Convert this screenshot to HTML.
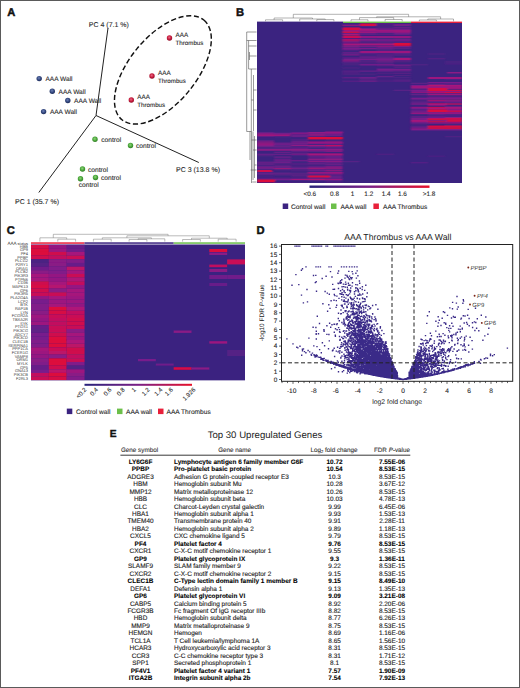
<!DOCTYPE html>
<html><head><meta charset="utf-8"><style>
html,body{margin:0;padding:0;background:#fff;}
body{width:520px;height:688px;position:relative;overflow:hidden;font-family:"Liberation Sans", sans-serif;}
svg{position:absolute;left:0;top:0;}
svg text{font-family:"Liberation Sans", sans-serif;text-rendering:geometricPrecision;}
</style></head><body>
<svg width="520" height="688" viewBox="0 0 520 688">
<defs><radialGradient id="gr" cx="0.45" cy="0.4" r="0.7"><stop offset="0" stop-color="#ea6a84"/><stop offset="0.5" stop-color="#c61a3c"/><stop offset="1" stop-color="#7d0b20"/></radialGradient><radialGradient id="gb" cx="0.45" cy="0.4" r="0.7"><stop offset="0" stop-color="#7083b8"/><stop offset="0.5" stop-color="#34487f"/><stop offset="1" stop-color="#17234a"/></radialGradient><radialGradient id="gg" cx="0.45" cy="0.4" r="0.7"><stop offset="0" stop-color="#8fd47a"/><stop offset="0.5" stop-color="#4ca83c"/><stop offset="1" stop-color="#276b1e"/></radialGradient><linearGradient id="cbar" x1="0" x2="1" y1="0" y2="0"><stop offset="0" stop-color="#28237a"/><stop offset="0.5" stop-color="#7a1f86"/><stop offset="1" stop-color="#e8102a"/></linearGradient><clipPath id="clipB"><rect x="257" y="22.8" width="205" height="160.2"/></clipPath><filter id="blurB" x="-0.05" y="-0.05" width="1.1" height="1.1"><feGaussianBlur stdDeviation="0.9 0.6"/></filter><clipPath id="clipC"><rect x="31" y="244.6" width="214" height="135.7"/></clipPath><filter id="blurC" x="-0.05" y="-0.05" width="1.1" height="1.1"><feGaussianBlur stdDeviation="0.7 0.5"/></filter></defs><g id="A"><text x="7.3" y="16.4" font-size="11.2" font-weight="bold" fill="#111" stroke="#111" stroke-width="0.45">A</text><g stroke="#222" stroke-width="1.0" fill="none"><line x1="96" y1="115.5" x2="108" y2="28"/><line x1="96" y1="115.5" x2="38.8" y2="192.5"/><line x1="96" y1="115.5" x2="198.8" y2="162.5"/></g><g font-size="7" fill="#2a2a2a" stroke="#2a2a2a" stroke-width="0.1"><text x="88.8" y="26.8">PC 4 (7.1 %)</text><text x="15" y="203.5">PC 1 (35.7 %)</text><text x="176" y="172">PC 3 (13.8 %)</text></g><ellipse cx="162.9" cy="69.9" rx="64.5" ry="33.5" transform="rotate(-50.6 162.9 69.9)" fill="none" stroke="#111" stroke-width="1.45" stroke-dasharray="5.2 2.6"/><circle cx="169.5" cy="38" r="2.7" fill="url(#gr)"/><circle cx="152" cy="76" r="2.7" fill="url(#gr)"/><circle cx="131.3" cy="100" r="2.7" fill="url(#gr)"/><circle cx="39.2" cy="78.6" r="2.7" fill="url(#gb)"/><circle cx="52.3" cy="91.2" r="2.7" fill="url(#gb)"/><circle cx="67.8" cy="100.5" r="2.7" fill="url(#gb)"/><circle cx="43.6" cy="111.6" r="2.7" fill="url(#gb)"/><circle cx="95" cy="139.3" r="2.7" fill="url(#gg)"/><circle cx="130.5" cy="145.5" r="2.7" fill="url(#gg)"/><circle cx="82.5" cy="169" r="2.7" fill="url(#gg)"/><circle cx="95.5" cy="177.5" r="2.7" fill="url(#gg)"/><circle cx="80.5" cy="178.8" r="2.7" fill="url(#gg)"/><g font-size="7" fill="#2a2a2a" stroke="#2a2a2a" stroke-width="0.1"><text x="175.5" y="37.2" font-size="6.3">AAA</text><text x="175.5" y="44.6" font-size="6.2">Thrombus</text><text x="158" y="75.2" font-size="6.3">AAA</text><text x="158" y="82.6" font-size="6.2">Thrombus</text><text x="137.3" y="99.2" font-size="6.3">AAA</text><text x="137.3" y="106.6" font-size="6.2">Thrombus</text><text x="45.5" y="81.0" font-size="6.55">AAA Wall</text><text x="58.599999999999994" y="93.60000000000001" font-size="6.55">AAA Wall</text><text x="74.1" y="102.9" font-size="6.55">AAA Wall</text><text x="49.9" y="114.0" font-size="6.55">AAA Wall</text><text x="101.3" y="141.8" font-size="6.65">control</text><text x="136" y="148" font-size="6.65">control</text><text x="88" y="171.5" font-size="6.65">control</text><text x="101" y="180" font-size="6.65">control</text><text x="78.8" y="186.5" font-size="6.65">control</text></g></g><g id="B"><text x="236" y="16.4" font-size="11.2" font-weight="bold" fill="#111" stroke="#111" stroke-width="0.45">B</text><rect x="257" y="22.8" width="205" height="160.2" fill="#3b2380"/><g clip-path="url(#clipB)"><g filter="url(#blurB)"><rect x="376.6" y="22.8" width="17.2" height="1.15" fill="#552185"/><rect x="342.4" y="23.9" width="17.2" height="1.05" fill="#582186"/><rect x="359.5" y="23.9" width="17.2" height="1.05" fill="#711f8b"/><rect x="376.6" y="23.9" width="17.2" height="1.05" fill="#502184"/><rect x="393.7" y="23.9" width="17.2" height="1.05" fill="#731e8b"/><rect x="342.4" y="24.9" width="17.2" height="0.95" fill="#941982"/><rect x="359.5" y="24.9" width="17.2" height="0.95" fill="#602087"/><rect x="376.6" y="24.9" width="17.2" height="0.95" fill="#4c2283"/><rect x="393.7" y="24.9" width="17.2" height="0.95" fill="#7b1e8b"/><rect x="359.5" y="25.8" width="17.2" height="1.05" fill="#542185"/><rect x="376.6" y="25.8" width="17.2" height="1.05" fill="#4c2283"/><rect x="342.4" y="26.8" width="17.2" height="1.15" fill="#522184"/><rect x="376.6" y="26.8" width="17.2" height="1.15" fill="#482283"/><rect x="393.7" y="26.8" width="17.2" height="1.15" fill="#6a1f89"/><rect x="342.4" y="27.9" width="17.2" height="1.05" fill="#6f1f8a"/><rect x="359.5" y="27.9" width="17.2" height="1.05" fill="#721f8b"/><rect x="376.6" y="27.9" width="17.2" height="1.05" fill="#622088"/><rect x="393.7" y="27.9" width="17.2" height="1.05" fill="#592186"/><rect x="342.4" y="28.9" width="17.2" height="1.25" fill="#b21474"/><rect x="359.5" y="28.9" width="17.2" height="1.25" fill="#a6167b"/><rect x="376.6" y="28.9" width="17.2" height="1.25" fill="#6e1f8a"/><rect x="393.7" y="28.9" width="17.2" height="1.25" fill="#711f8b"/><rect x="359.5" y="30.1" width="17.2" height="0.95" fill="#731e8b"/><rect x="376.6" y="30.1" width="17.2" height="0.95" fill="#691f89"/><rect x="393.7" y="30.1" width="17.2" height="0.95" fill="#821c88"/><rect x="342.4" y="31.0" width="17.2" height="1.15" fill="#c81057"/><rect x="359.5" y="31.0" width="17.2" height="1.15" fill="#771e8c"/><rect x="376.6" y="31.0" width="17.2" height="1.15" fill="#8a1b85"/><rect x="393.7" y="31.0" width="17.2" height="1.15" fill="#9c177f"/><rect x="342.4" y="32.1" width="17.2" height="0.95" fill="#d70d43"/><rect x="359.5" y="32.1" width="17.2" height="0.95" fill="#a5167c"/><rect x="376.6" y="32.1" width="17.2" height="0.95" fill="#8e1a84"/><rect x="393.7" y="32.1" width="17.2" height="0.95" fill="#961981"/><rect x="342.4" y="33.0" width="17.2" height="0.95" fill="#6c1f8a"/><rect x="359.5" y="33.0" width="17.2" height="0.95" fill="#642088"/><rect x="376.6" y="33.0" width="17.2" height="0.95" fill="#4b2283"/><rect x="393.7" y="33.0" width="17.2" height="0.95" fill="#761e8c"/><rect x="342.4" y="33.9" width="17.2" height="1.15" fill="#aa157a"/><rect x="359.5" y="33.9" width="17.2" height="1.15" fill="#582186"/><rect x="376.6" y="33.9" width="17.2" height="1.15" fill="#512184"/><rect x="393.7" y="33.9" width="17.2" height="1.15" fill="#5f2087"/><rect x="342.4" y="36.1" width="17.2" height="0.95" fill="#562185"/><rect x="342.4" y="37.0" width="17.2" height="1.25" fill="#9f177e"/><rect x="359.5" y="37.0" width="17.2" height="1.25" fill="#7a1e8b"/><rect x="376.6" y="37.0" width="17.2" height="1.25" fill="#6e1f8a"/><rect x="393.7" y="37.0" width="17.2" height="1.25" fill="#971881"/><rect x="342.4" y="39.1" width="17.2" height="1.25" fill="#b41371"/><rect x="359.5" y="39.1" width="17.2" height="1.25" fill="#821c88"/><rect x="376.6" y="39.1" width="17.2" height="1.25" fill="#6f1f8a"/><rect x="393.7" y="39.1" width="17.2" height="1.25" fill="#731e8b"/><rect x="342.4" y="40.3" width="17.2" height="1.15" fill="#bf1163"/><rect x="359.5" y="40.3" width="17.2" height="1.15" fill="#841c88"/><rect x="376.6" y="40.3" width="17.2" height="1.15" fill="#801d89"/><rect x="393.7" y="40.3" width="17.2" height="1.15" fill="#7d1d8a"/><rect x="342.4" y="41.4" width="17.2" height="1.25" fill="#8b1a85"/><rect x="359.5" y="41.4" width="17.2" height="1.25" fill="#552185"/><rect x="376.6" y="41.4" width="17.2" height="1.25" fill="#5b2086"/><rect x="393.7" y="41.4" width="17.2" height="1.25" fill="#532185"/><rect x="342.4" y="42.6" width="17.2" height="1.25" fill="#622088"/><rect x="359.5" y="42.6" width="17.2" height="1.25" fill="#522185"/><rect x="376.6" y="42.6" width="17.2" height="1.25" fill="#532185"/><rect x="393.7" y="42.6" width="17.2" height="1.25" fill="#5f2087"/><rect x="342.4" y="43.8" width="17.2" height="1.25" fill="#552185"/><rect x="376.6" y="43.8" width="17.2" height="1.25" fill="#751e8b"/><rect x="393.7" y="43.8" width="17.2" height="1.25" fill="#562185"/><rect x="342.4" y="45.0" width="17.2" height="1.05" fill="#542185"/><rect x="393.7" y="45.0" width="17.2" height="1.05" fill="#542185"/><rect x="342.4" y="46.0" width="17.2" height="0.95" fill="#851c87"/><rect x="359.5" y="46.0" width="17.2" height="0.95" fill="#741e8b"/><rect x="376.6" y="46.0" width="17.2" height="0.95" fill="#901a83"/><rect x="393.7" y="46.0" width="17.2" height="0.95" fill="#861b87"/><rect x="342.4" y="46.9" width="17.2" height="0.95" fill="#5d2087"/><rect x="376.6" y="46.9" width="17.2" height="0.95" fill="#701f8a"/><rect x="393.7" y="46.9" width="17.2" height="0.95" fill="#5b2086"/><rect x="342.4" y="47.8" width="17.2" height="1.25" fill="#9c177f"/><rect x="359.5" y="47.8" width="17.2" height="1.25" fill="#771e8c"/><rect x="376.6" y="47.8" width="17.2" height="1.25" fill="#671f89"/><rect x="393.7" y="47.8" width="17.2" height="1.25" fill="#582186"/><rect x="342.4" y="49.0" width="17.2" height="1.05" fill="#602087"/><rect x="359.5" y="49.0" width="17.2" height="1.05" fill="#482282"/><rect x="376.6" y="49.0" width="17.2" height="1.05" fill="#512184"/><rect x="342.4" y="50.0" width="17.2" height="1.25" fill="#4a2283"/><rect x="376.6" y="50.0" width="17.2" height="1.25" fill="#502184"/><rect x="393.7" y="50.0" width="17.2" height="1.25" fill="#4c2283"/><rect x="359.5" y="51.2" width="17.2" height="1.15" fill="#4c2283"/><rect x="393.7" y="51.2" width="17.2" height="1.15" fill="#572186"/><rect x="342.4" y="52.3" width="17.2" height="1.25" fill="#6f1f8a"/><rect x="359.5" y="52.3" width="17.2" height="1.25" fill="#6c1f8a"/><rect x="376.6" y="52.3" width="17.2" height="1.25" fill="#5c2086"/><rect x="393.7" y="52.3" width="17.2" height="1.25" fill="#761e8c"/><rect x="342.4" y="53.5" width="17.2" height="0.95" fill="#5f2087"/><rect x="427.8" y="53.5" width="17.2" height="0.95" fill="#532185"/><rect x="342.4" y="54.4" width="17.2" height="1.05" fill="#841c88"/><rect x="359.5" y="54.4" width="17.2" height="1.05" fill="#4f2184"/><rect x="376.6" y="54.4" width="17.2" height="1.05" fill="#612087"/><rect x="393.7" y="54.4" width="17.2" height="1.05" fill="#612088"/><rect x="376.6" y="55.4" width="17.2" height="0.95" fill="#552185"/><rect x="359.5" y="56.3" width="17.2" height="1.05" fill="#671f89"/><rect x="376.6" y="56.3" width="17.2" height="1.05" fill="#5a2086"/><rect x="342.4" y="57.3" width="17.2" height="0.95" fill="#5c2087"/><rect x="359.5" y="57.3" width="17.2" height="0.95" fill="#6a1f89"/><rect x="376.6" y="57.3" width="17.2" height="0.95" fill="#691f89"/><rect x="393.7" y="57.3" width="17.2" height="0.95" fill="#592186"/><rect x="359.5" y="58.2" width="17.2" height="1.05" fill="#4a2283"/><rect x="376.6" y="58.2" width="17.2" height="1.05" fill="#691f89"/><rect x="427.8" y="58.2" width="17.2" height="1.05" fill="#572186"/><rect x="342.4" y="59.2" width="17.2" height="1.15" fill="#482283"/><rect x="342.4" y="60.3" width="17.2" height="1.25" fill="#981880"/><rect x="359.5" y="60.3" width="17.2" height="1.25" fill="#552185"/><rect x="376.6" y="60.3" width="17.2" height="1.25" fill="#831c88"/><rect x="393.7" y="60.3" width="17.2" height="1.25" fill="#6a1f89"/><rect x="342.4" y="61.5" width="17.2" height="0.95" fill="#6a1f89"/><rect x="359.5" y="61.5" width="17.2" height="0.95" fill="#5a2086"/><rect x="376.6" y="61.5" width="17.2" height="0.95" fill="#642088"/><rect x="393.7" y="61.5" width="17.2" height="0.95" fill="#4c2283"/><rect x="444.9" y="61.5" width="17.2" height="0.95" fill="#572186"/><rect x="342.4" y="62.4" width="17.2" height="1.05" fill="#572185"/><rect x="359.5" y="62.4" width="17.2" height="1.05" fill="#4c2283"/><rect x="376.6" y="62.4" width="17.2" height="1.05" fill="#612087"/><rect x="359.5" y="63.4" width="17.2" height="0.95" fill="#4b2283"/><rect x="444.9" y="63.4" width="17.2" height="0.95" fill="#532185"/><rect x="342.4" y="64.3" width="17.2" height="0.95" fill="#502184"/><rect x="359.5" y="64.3" width="17.2" height="0.95" fill="#5d2087"/><rect x="376.6" y="64.3" width="17.2" height="0.95" fill="#652088"/><rect x="393.7" y="64.3" width="17.2" height="0.95" fill="#632088"/><rect x="410.8" y="64.3" width="17.2" height="0.95" fill="#552185"/><rect x="376.6" y="65.2" width="17.2" height="1.15" fill="#552185"/><rect x="393.7" y="65.2" width="17.2" height="1.15" fill="#751e8b"/><rect x="342.4" y="67.2" width="17.2" height="1.25" fill="#4a2283"/><rect x="393.7" y="67.2" width="17.2" height="1.25" fill="#562185"/><rect x="376.6" y="68.4" width="17.2" height="1.05" fill="#642088"/><rect x="376.6" y="69.4" width="17.2" height="1.25" fill="#582186"/><rect x="393.7" y="69.4" width="17.2" height="1.25" fill="#482283"/><rect x="342.4" y="70.6" width="17.2" height="0.95" fill="#632088"/><rect x="359.5" y="70.6" width="17.2" height="0.95" fill="#771e8c"/><rect x="376.6" y="70.6" width="17.2" height="0.95" fill="#6f1f8a"/><rect x="393.7" y="70.6" width="17.2" height="0.95" fill="#612087"/><rect x="342.4" y="71.5" width="17.2" height="1.25" fill="#552185"/><rect x="342.4" y="72.7" width="17.2" height="1.15" fill="#542185"/><rect x="376.6" y="72.7" width="17.2" height="1.15" fill="#502184"/><rect x="393.7" y="72.7" width="17.2" height="1.15" fill="#5b2086"/><rect x="342.4" y="73.8" width="17.2" height="1.15" fill="#4c2283"/><rect x="359.5" y="73.8" width="17.2" height="1.15" fill="#4a2283"/><rect x="393.7" y="74.9" width="17.2" height="1.05" fill="#512184"/><rect x="376.6" y="75.9" width="17.2" height="1.25" fill="#632088"/><rect x="342.4" y="77.1" width="17.2" height="1.25" fill="#612087"/><rect x="359.5" y="77.1" width="17.2" height="1.25" fill="#741e8b"/><rect x="376.6" y="77.1" width="17.2" height="1.25" fill="#492283"/><rect x="393.7" y="77.1" width="17.2" height="1.25" fill="#4d2284"/><rect x="359.5" y="78.3" width="17.2" height="1.25" fill="#671f89"/><rect x="444.9" y="78.3" width="17.2" height="1.25" fill="#572185"/><rect x="359.5" y="79.5" width="17.2" height="1.25" fill="#4f2184"/><rect x="376.6" y="79.5" width="17.2" height="1.25" fill="#462282"/><rect x="393.7" y="79.5" width="17.2" height="1.25" fill="#582186"/><rect x="342.4" y="80.7" width="17.2" height="0.95" fill="#622088"/><rect x="359.5" y="80.7" width="17.2" height="0.95" fill="#7d1d8a"/><rect x="376.6" y="80.7" width="17.2" height="0.95" fill="#562185"/><rect x="393.7" y="80.7" width="17.2" height="0.95" fill="#5e2087"/><rect x="410.8" y="82.8" width="17.2" height="0.95" fill="#652088"/><rect x="444.9" y="82.8" width="17.2" height="0.95" fill="#582186"/><rect x="427.8" y="83.7" width="17.2" height="1.25" fill="#6c1f8a"/><rect x="444.9" y="83.7" width="17.2" height="1.25" fill="#5a2086"/><rect x="410.8" y="84.9" width="17.2" height="1.15" fill="#7b1d8b"/><rect x="427.8" y="84.9" width="17.2" height="1.15" fill="#b6136e"/><rect x="444.9" y="84.9" width="17.2" height="1.15" fill="#a8157b"/><rect x="410.8" y="86.0" width="17.2" height="0.95" fill="#4a2283"/><rect x="427.8" y="86.0" width="17.2" height="0.95" fill="#8e1a84"/><rect x="444.9" y="86.0" width="17.2" height="0.95" fill="#9a1880"/><rect x="410.8" y="86.9" width="17.2" height="1.15" fill="#582186"/><rect x="427.8" y="86.9" width="17.2" height="1.15" fill="#8e1a84"/><rect x="444.9" y="86.9" width="17.2" height="1.15" fill="#ac1579"/><rect x="410.8" y="88.0" width="17.2" height="0.95" fill="#542185"/><rect x="427.8" y="88.0" width="17.2" height="0.95" fill="#5d2087"/><rect x="444.9" y="88.0" width="17.2" height="0.95" fill="#9f177e"/><rect x="410.8" y="88.9" width="17.2" height="0.95" fill="#4f2184"/><rect x="444.9" y="88.9" width="17.2" height="0.95" fill="#4d2284"/><rect x="393.7" y="89.8" width="17.2" height="1.25" fill="#582186"/><rect x="410.8" y="89.8" width="17.2" height="1.25" fill="#7a1e8b"/><rect x="427.8" y="89.8" width="17.2" height="1.25" fill="#d90d40"/><rect x="444.9" y="89.8" width="17.2" height="1.25" fill="#cd0f50"/><rect x="410.8" y="91.0" width="17.2" height="1.05" fill="#751e8b"/><rect x="427.8" y="91.0" width="17.2" height="1.05" fill="#961881"/><rect x="444.9" y="91.0" width="17.2" height="1.05" fill="#881b86"/><rect x="410.8" y="92.0" width="17.2" height="0.95" fill="#971881"/><rect x="427.8" y="92.0" width="17.2" height="0.95" fill="#b8126c"/><rect x="444.9" y="92.0" width="17.2" height="0.95" fill="#d80d41"/><rect x="410.8" y="92.9" width="17.2" height="1.15" fill="#4a2283"/><rect x="410.8" y="94.0" width="17.2" height="1.25" fill="#622088"/><rect x="410.8" y="95.2" width="17.2" height="1.05" fill="#4a2283"/><rect x="427.8" y="96.2" width="17.2" height="1.15" fill="#552185"/><rect x="444.9" y="96.2" width="17.2" height="1.15" fill="#512184"/><rect x="410.8" y="97.3" width="17.2" height="0.95" fill="#542185"/><rect x="427.8" y="97.3" width="17.2" height="0.95" fill="#801d89"/><rect x="444.9" y="97.3" width="17.2" height="0.95" fill="#841c88"/><rect x="410.8" y="98.2" width="17.2" height="1.05" fill="#6a1f89"/><rect x="427.8" y="98.2" width="17.2" height="1.05" fill="#c5105b"/><rect x="444.9" y="98.2" width="17.2" height="1.05" fill="#dc0c3c"/><rect x="410.8" y="100.2" width="17.2" height="1.15" fill="#4d2283"/><rect x="427.8" y="100.2" width="17.2" height="1.15" fill="#b6136e"/><rect x="444.9" y="100.2" width="17.2" height="1.15" fill="#921983"/><rect x="410.8" y="101.3" width="17.2" height="1.15" fill="#5b2086"/><rect x="427.8" y="101.3" width="17.2" height="1.15" fill="#711f8b"/><rect x="444.9" y="101.3" width="17.2" height="1.15" fill="#831c88"/><rect x="410.8" y="102.4" width="17.2" height="1.05" fill="#6d1f8a"/><rect x="427.8" y="102.4" width="17.2" height="1.05" fill="#552185"/><rect x="444.9" y="102.4" width="17.2" height="1.05" fill="#5e2087"/><rect x="410.8" y="103.4" width="17.2" height="1.25" fill="#801c89"/><rect x="427.8" y="103.4" width="17.2" height="1.25" fill="#d40d46"/><rect x="444.9" y="103.4" width="17.2" height="1.25" fill="#c71059"/><rect x="427.8" y="104.6" width="17.2" height="1.25" fill="#691f89"/><rect x="444.9" y="105.8" width="17.2" height="1.05" fill="#5c2086"/><rect x="410.8" y="106.8" width="17.2" height="1.15" fill="#951981"/><rect x="427.8" y="106.8" width="17.2" height="1.15" fill="#cb0f53"/><rect x="444.9" y="106.8" width="17.2" height="1.15" fill="#ad1479"/><rect x="410.8" y="107.9" width="17.2" height="1.25" fill="#771e8c"/><rect x="427.8" y="107.9" width="17.2" height="1.25" fill="#a9157a"/><rect x="444.9" y="107.9" width="17.2" height="1.25" fill="#a0177d"/><rect x="410.8" y="109.1" width="17.2" height="1.05" fill="#5b2086"/><rect x="427.8" y="109.1" width="17.2" height="1.05" fill="#8c1a85"/><rect x="444.9" y="109.1" width="17.2" height="1.05" fill="#8e1a84"/><rect x="410.8" y="110.1" width="17.2" height="0.95" fill="#642088"/><rect x="427.8" y="110.1" width="17.2" height="0.95" fill="#ce0e4f"/><rect x="444.9" y="110.1" width="17.2" height="0.95" fill="#bd1266"/><rect x="410.8" y="111.0" width="17.2" height="0.95" fill="#711f8b"/><rect x="427.8" y="111.0" width="17.2" height="0.95" fill="#d40e47"/><rect x="444.9" y="111.0" width="17.2" height="0.95" fill="#d20e4a"/><rect x="410.8" y="111.9" width="17.2" height="1.05" fill="#622088"/><rect x="427.8" y="111.9" width="17.2" height="1.05" fill="#6c1f8a"/><rect x="444.9" y="111.9" width="17.2" height="1.05" fill="#951982"/><rect x="410.8" y="112.9" width="17.2" height="1.25" fill="#522185"/><rect x="427.8" y="112.9" width="17.2" height="1.25" fill="#612087"/><rect x="444.9" y="112.9" width="17.2" height="1.25" fill="#771e8c"/><rect x="427.8" y="114.1" width="17.2" height="1.05" fill="#602087"/><rect x="444.9" y="114.1" width="17.2" height="1.05" fill="#542185"/><rect x="427.8" y="115.1" width="17.2" height="1.05" fill="#522184"/><rect x="444.9" y="115.1" width="17.2" height="1.05" fill="#522185"/><rect x="410.8" y="116.1" width="17.2" height="0.95" fill="#602087"/><rect x="427.8" y="116.1" width="17.2" height="0.95" fill="#642088"/><rect x="444.9" y="116.1" width="17.2" height="0.95" fill="#4a2283"/><rect x="410.8" y="117.0" width="17.2" height="1.05" fill="#5a2086"/><rect x="427.8" y="117.0" width="17.2" height="1.05" fill="#6c1f8a"/><rect x="444.9" y="117.0" width="17.2" height="1.05" fill="#8f1a84"/><rect x="410.8" y="118.0" width="17.2" height="1.15" fill="#7a1e8b"/><rect x="427.8" y="118.0" width="17.2" height="1.15" fill="#bf1162"/><rect x="444.9" y="118.0" width="17.2" height="1.15" fill="#ce0f4f"/><rect x="410.8" y="119.1" width="17.2" height="1.15" fill="#7f1d8a"/><rect x="427.8" y="119.1" width="17.2" height="1.15" fill="#dc0c3c"/><rect x="444.9" y="119.1" width="17.2" height="1.15" fill="#c6105a"/><rect x="410.8" y="120.2" width="17.2" height="1.05" fill="#4b2283"/><rect x="427.8" y="120.2" width="17.2" height="1.05" fill="#9a1880"/><rect x="444.9" y="120.2" width="17.2" height="1.05" fill="#941982"/><rect x="410.8" y="121.2" width="17.2" height="1.25" fill="#901a83"/><rect x="427.8" y="121.2" width="17.2" height="1.25" fill="#cd0f4f"/><rect x="444.9" y="121.2" width="17.2" height="1.25" fill="#af1478"/><rect x="410.8" y="122.4" width="17.2" height="1.15" fill="#821c89"/><rect x="427.8" y="122.4" width="17.2" height="1.15" fill="#9b187f"/><rect x="444.9" y="122.4" width="17.2" height="1.15" fill="#a0177d"/><rect x="410.8" y="123.5" width="17.2" height="1.15" fill="#522185"/><rect x="444.9" y="124.6" width="17.2" height="1.15" fill="#552185"/><rect x="410.8" y="125.7" width="17.2" height="1.05" fill="#5c2086"/><rect x="410.8" y="126.7" width="17.2" height="1.25" fill="#652088"/><rect x="427.8" y="126.7" width="17.2" height="1.25" fill="#592186"/><rect x="410.8" y="127.9" width="17.2" height="0.95" fill="#911983"/><rect x="427.8" y="127.9" width="17.2" height="0.95" fill="#dc0c3c"/><rect x="444.9" y="127.9" width="17.2" height="0.95" fill="#dc0c3c"/><rect x="410.8" y="128.8" width="17.2" height="1.05" fill="#562185"/><rect x="427.8" y="128.8" width="17.2" height="1.05" fill="#c01162"/><rect x="444.9" y="128.8" width="17.2" height="1.05" fill="#cc0f52"/><rect x="257.0" y="132.0" width="17.2" height="1.15" fill="#612087"/><rect x="274.1" y="132.0" width="17.2" height="1.15" fill="#462282"/><rect x="291.2" y="132.0" width="17.2" height="1.15" fill="#661f88"/><rect x="308.2" y="132.0" width="17.2" height="1.15" fill="#8e1a84"/><rect x="325.3" y="132.0" width="17.2" height="1.15" fill="#671f89"/><rect x="257.0" y="133.1" width="17.2" height="1.25" fill="#8c1a85"/><rect x="274.1" y="133.1" width="17.2" height="1.25" fill="#791e8c"/><rect x="291.2" y="133.1" width="17.2" height="1.25" fill="#891b86"/><rect x="308.2" y="133.1" width="17.2" height="1.25" fill="#871b87"/><rect x="325.3" y="133.1" width="17.2" height="1.25" fill="#8b1b85"/><rect x="257.0" y="134.3" width="17.2" height="1.05" fill="#981881"/><rect x="274.1" y="134.3" width="17.2" height="1.05" fill="#871b86"/><rect x="291.2" y="134.3" width="17.2" height="1.05" fill="#6b1f89"/><rect x="308.2" y="134.3" width="17.2" height="1.05" fill="#9b187f"/><rect x="325.3" y="134.3" width="17.2" height="1.05" fill="#7b1d8b"/><rect x="257.0" y="135.3" width="17.2" height="0.95" fill="#6d1f8a"/><rect x="274.1" y="135.3" width="17.2" height="0.95" fill="#4b2283"/><rect x="291.2" y="135.3" width="17.2" height="0.95" fill="#771e8c"/><rect x="308.2" y="135.3" width="17.2" height="0.95" fill="#931982"/><rect x="325.3" y="135.3" width="17.2" height="0.95" fill="#761e8c"/><rect x="257.0" y="136.2" width="17.2" height="0.95" fill="#602087"/><rect x="274.1" y="136.2" width="17.2" height="0.95" fill="#502184"/><rect x="291.2" y="136.2" width="17.2" height="0.95" fill="#721e8b"/><rect x="308.2" y="136.2" width="17.2" height="0.95" fill="#572186"/><rect x="325.3" y="136.2" width="17.2" height="0.95" fill="#492283"/><rect x="444.9" y="136.2" width="17.2" height="0.95" fill="#552185"/><rect x="325.3" y="137.1" width="17.2" height="1.15" fill="#711f8b"/><rect x="325.3" y="138.2" width="17.2" height="0.95" fill="#4e2184"/><rect x="291.2" y="139.1" width="17.2" height="1.15" fill="#4f2184"/><rect x="257.0" y="140.2" width="17.2" height="1.25" fill="#622088"/><rect x="291.2" y="140.2" width="17.2" height="1.25" fill="#532185"/><rect x="325.3" y="140.2" width="17.2" height="1.25" fill="#4d2284"/><rect x="257.0" y="141.4" width="17.2" height="1.25" fill="#8d1a84"/><rect x="291.2" y="141.4" width="17.2" height="1.25" fill="#791e8b"/><rect x="308.2" y="141.4" width="17.2" height="1.25" fill="#901a83"/><rect x="325.3" y="141.4" width="17.2" height="1.25" fill="#991880"/><rect x="257.0" y="142.6" width="17.2" height="1.25" fill="#991880"/><rect x="274.1" y="142.6" width="17.2" height="1.25" fill="#711f8b"/><rect x="291.2" y="142.6" width="17.2" height="1.25" fill="#7d1d8a"/><rect x="308.2" y="142.6" width="17.2" height="1.25" fill="#811c89"/><rect x="325.3" y="142.6" width="17.2" height="1.25" fill="#831c88"/><rect x="257.0" y="143.8" width="17.2" height="1.25" fill="#931982"/><rect x="274.1" y="143.8" width="17.2" height="1.25" fill="#6e1f8a"/><rect x="291.2" y="143.8" width="17.2" height="1.25" fill="#691f89"/><rect x="308.2" y="143.8" width="17.2" height="1.25" fill="#482283"/><rect x="325.3" y="143.8" width="17.2" height="1.25" fill="#542185"/><rect x="257.0" y="145.0" width="17.2" height="1.25" fill="#881b86"/><rect x="274.1" y="145.0" width="17.2" height="1.25" fill="#5d2087"/><rect x="291.2" y="145.0" width="17.2" height="1.25" fill="#8e1a84"/><rect x="308.2" y="145.0" width="17.2" height="1.25" fill="#a2167d"/><rect x="325.3" y="145.0" width="17.2" height="1.25" fill="#bf1163"/><rect x="257.0" y="146.2" width="17.2" height="1.25" fill="#7a1e8b"/><rect x="274.1" y="146.2" width="17.2" height="1.25" fill="#6f1f8a"/><rect x="291.2" y="146.2" width="17.2" height="1.25" fill="#532185"/><rect x="308.2" y="146.2" width="17.2" height="1.25" fill="#721f8b"/><rect x="325.3" y="146.2" width="17.2" height="1.25" fill="#8c1a85"/><rect x="257.0" y="147.4" width="17.2" height="1.25" fill="#4f2184"/><rect x="274.1" y="147.4" width="17.2" height="1.25" fill="#5b2086"/><rect x="291.2" y="147.4" width="17.2" height="1.25" fill="#5f2087"/><rect x="325.3" y="147.4" width="17.2" height="1.25" fill="#572185"/><rect x="257.0" y="148.6" width="17.2" height="1.25" fill="#6f1f8a"/><rect x="274.1" y="148.6" width="17.2" height="1.25" fill="#632088"/><rect x="291.2" y="148.6" width="17.2" height="1.25" fill="#841c88"/><rect x="308.2" y="148.6" width="17.2" height="1.25" fill="#502184"/><rect x="325.3" y="148.6" width="17.2" height="1.25" fill="#7e1d8a"/><rect x="257.0" y="149.8" width="17.2" height="1.05" fill="#462282"/><rect x="291.2" y="149.8" width="17.2" height="1.05" fill="#4d2284"/><rect x="291.2" y="150.8" width="17.2" height="1.05" fill="#681f89"/><rect x="308.2" y="150.8" width="17.2" height="1.05" fill="#671f89"/><rect x="325.3" y="150.8" width="17.2" height="1.05" fill="#8b1b85"/><rect x="274.1" y="151.8" width="17.2" height="1.05" fill="#6a1f89"/><rect x="291.2" y="151.8" width="17.2" height="1.05" fill="#4a2283"/><rect x="291.2" y="152.8" width="17.2" height="0.95" fill="#5e2087"/><rect x="257.0" y="153.7" width="17.2" height="1.15" fill="#6b1f8a"/><rect x="274.1" y="153.7" width="17.2" height="1.15" fill="#6c1f8a"/><rect x="291.2" y="153.7" width="17.2" height="1.15" fill="#811c89"/><rect x="308.2" y="153.7" width="17.2" height="1.15" fill="#991880"/><rect x="325.3" y="153.7" width="17.2" height="1.15" fill="#a4167c"/><rect x="376.6" y="153.7" width="17.2" height="1.15" fill="#502184"/><rect x="257.0" y="154.8" width="17.2" height="0.95" fill="#622088"/><rect x="291.2" y="154.8" width="17.2" height="0.95" fill="#4f2184"/><rect x="308.2" y="154.8" width="17.2" height="0.95" fill="#512184"/><rect x="325.3" y="154.8" width="17.2" height="0.95" fill="#592186"/><rect x="257.0" y="155.7" width="17.2" height="0.95" fill="#462282"/><rect x="274.1" y="155.7" width="17.2" height="0.95" fill="#492283"/><rect x="308.2" y="155.7" width="17.2" height="0.95" fill="#681f89"/><rect x="325.3" y="155.7" width="17.2" height="0.95" fill="#721f8b"/><rect x="427.8" y="155.7" width="17.2" height="0.95" fill="#502184"/><rect x="274.1" y="156.6" width="17.2" height="1.25" fill="#711f8b"/><rect x="308.2" y="156.6" width="17.2" height="1.25" fill="#661f88"/><rect x="325.3" y="156.6" width="17.2" height="1.25" fill="#711f8b"/><rect x="274.1" y="157.8" width="17.2" height="1.25" fill="#492283"/><rect x="308.2" y="157.8" width="17.2" height="1.25" fill="#482283"/><rect x="325.3" y="157.8" width="17.2" height="1.25" fill="#5d2087"/><rect x="274.1" y="159.0" width="17.2" height="0.95" fill="#652088"/><rect x="325.3" y="159.0" width="17.2" height="0.95" fill="#562185"/><rect x="274.1" y="159.9" width="17.2" height="1.15" fill="#671f89"/><rect x="291.2" y="159.9" width="17.2" height="1.15" fill="#6a1f89"/><rect x="308.2" y="159.9" width="17.2" height="1.15" fill="#671f89"/><rect x="325.3" y="159.9" width="17.2" height="1.15" fill="#671f89"/><rect x="257.0" y="161.0" width="17.2" height="1.15" fill="#4b2283"/><rect x="274.1" y="161.0" width="17.2" height="1.15" fill="#612088"/><rect x="291.2" y="161.0" width="17.2" height="1.15" fill="#4e2184"/><rect x="308.2" y="161.0" width="17.2" height="1.15" fill="#891b86"/><rect x="325.3" y="161.0" width="17.2" height="1.15" fill="#891b86"/><rect x="342.4" y="161.0" width="17.2" height="1.15" fill="#572186"/><rect x="257.0" y="162.1" width="17.2" height="1.25" fill="#691f89"/><rect x="274.1" y="162.1" width="17.2" height="1.25" fill="#731e8b"/><rect x="308.2" y="162.1" width="17.2" height="1.25" fill="#5a2086"/><rect x="325.3" y="162.1" width="17.2" height="1.25" fill="#652088"/><rect x="410.8" y="162.1" width="17.2" height="1.25" fill="#562185"/><rect x="257.0" y="163.3" width="17.2" height="0.95" fill="#652088"/><rect x="274.1" y="163.3" width="17.2" height="0.95" fill="#542185"/><rect x="291.2" y="163.3" width="17.2" height="0.95" fill="#5b2086"/><rect x="308.2" y="163.3" width="17.2" height="0.95" fill="#6c1f8a"/><rect x="325.3" y="163.3" width="17.2" height="0.95" fill="#602087"/><rect x="257.0" y="164.2" width="17.2" height="1.15" fill="#671f89"/><rect x="274.1" y="164.2" width="17.2" height="1.15" fill="#4d2284"/><rect x="291.2" y="164.2" width="17.2" height="1.15" fill="#522185"/><rect x="308.2" y="164.2" width="17.2" height="1.15" fill="#572185"/><rect x="325.3" y="164.2" width="17.2" height="1.15" fill="#6f1f8a"/><rect x="274.1" y="165.3" width="17.2" height="0.95" fill="#5c2086"/><rect x="257.0" y="166.2" width="17.2" height="1.15" fill="#6d1f8a"/><rect x="274.1" y="166.2" width="17.2" height="1.15" fill="#701f8a"/><rect x="291.2" y="166.2" width="17.2" height="1.15" fill="#4d2283"/><rect x="308.2" y="166.2" width="17.2" height="1.15" fill="#632088"/><rect x="325.3" y="166.2" width="17.2" height="1.15" fill="#851c87"/><rect x="257.0" y="167.3" width="17.2" height="0.95" fill="#891b86"/><rect x="274.1" y="167.3" width="17.2" height="0.95" fill="#6f1f8a"/><rect x="291.2" y="167.3" width="17.2" height="0.95" fill="#661f89"/><rect x="308.2" y="167.3" width="17.2" height="0.95" fill="#8d1a84"/><rect x="325.3" y="167.3" width="17.2" height="0.95" fill="#961881"/><rect x="257.0" y="168.2" width="17.2" height="1.15" fill="#751e8c"/><rect x="274.1" y="168.2" width="17.2" height="1.15" fill="#aa157a"/><rect x="291.2" y="168.2" width="17.2" height="1.15" fill="#7b1d8b"/><rect x="308.2" y="168.2" width="17.2" height="1.15" fill="#a7157b"/><rect x="325.3" y="168.2" width="17.2" height="1.15" fill="#951981"/><rect x="274.1" y="169.3" width="17.2" height="0.95" fill="#592186"/><rect x="308.2" y="169.3" width="17.2" height="0.95" fill="#681f89"/><rect x="325.3" y="169.3" width="17.2" height="0.95" fill="#5e2087"/><rect x="291.2" y="170.2" width="17.2" height="1.15" fill="#4f2184"/><rect x="308.2" y="170.2" width="17.2" height="1.15" fill="#6b1f8a"/><rect x="325.3" y="170.2" width="17.2" height="1.15" fill="#981880"/><rect x="257.0" y="171.3" width="17.2" height="1.05" fill="#462282"/><rect x="257.0" y="172.3" width="17.2" height="1.05" fill="#5c2087"/><rect x="274.1" y="172.3" width="17.2" height="1.05" fill="#532185"/><rect x="291.2" y="172.3" width="17.2" height="1.05" fill="#4a2283"/><rect x="308.2" y="172.3" width="17.2" height="1.05" fill="#532185"/><rect x="325.3" y="172.3" width="17.2" height="1.05" fill="#502184"/><rect x="257.0" y="173.3" width="17.2" height="1.25" fill="#711f8b"/><rect x="274.1" y="173.3" width="17.2" height="1.25" fill="#6b1f89"/><rect x="291.2" y="173.3" width="17.2" height="1.25" fill="#632088"/><rect x="308.2" y="173.3" width="17.2" height="1.25" fill="#871b86"/><rect x="325.3" y="173.3" width="17.2" height="1.25" fill="#921982"/><rect x="274.1" y="174.5" width="17.2" height="0.95" fill="#582186"/><rect x="291.2" y="174.5" width="17.2" height="0.95" fill="#592186"/><rect x="308.2" y="174.5" width="17.2" height="0.95" fill="#4f2184"/><rect x="325.3" y="174.5" width="17.2" height="0.95" fill="#5d2087"/><rect x="257.0" y="175.4" width="17.2" height="1.15" fill="#4e2184"/><rect x="291.2" y="175.4" width="17.2" height="1.15" fill="#622088"/><rect x="308.2" y="175.4" width="17.2" height="1.15" fill="#652088"/><rect x="325.3" y="175.4" width="17.2" height="1.15" fill="#5c2086"/><rect x="291.2" y="176.5" width="17.2" height="1.25" fill="#472282"/><rect x="308.2" y="176.5" width="17.2" height="1.25" fill="#602087"/><rect x="325.3" y="176.5" width="17.2" height="1.25" fill="#761e8c"/><rect x="257.0" y="177.7" width="17.2" height="1.25" fill="#5b2086"/><rect x="274.1" y="177.7" width="17.2" height="1.25" fill="#592186"/><rect x="291.2" y="177.7" width="17.2" height="1.25" fill="#572186"/><rect x="308.2" y="177.7" width="17.2" height="1.25" fill="#661f88"/><rect x="325.3" y="177.7" width="17.2" height="1.25" fill="#622088"/><rect x="257.0" y="178.9" width="17.2" height="1.15" fill="#661f88"/><rect x="274.1" y="178.9" width="17.2" height="1.15" fill="#751e8b"/><rect x="291.2" y="178.9" width="17.2" height="1.15" fill="#a4167c"/><rect x="308.2" y="178.9" width="17.2" height="1.15" fill="#ae1478"/><rect x="325.3" y="178.9" width="17.2" height="1.15" fill="#991880"/><rect x="257.0" y="180.0" width="17.2" height="1.05" fill="#681f89"/><rect x="274.1" y="180.0" width="17.2" height="1.05" fill="#4e2184"/><rect x="291.2" y="180.0" width="17.2" height="1.05" fill="#4e2184"/><rect x="308.2" y="180.0" width="17.2" height="1.05" fill="#582186"/><rect x="325.3" y="180.0" width="17.2" height="1.05" fill="#602087"/><rect x="257.0" y="181.0" width="17.2" height="1.15" fill="#462282"/><rect x="325.3" y="181.0" width="17.2" height="1.15" fill="#482283"/><rect x="274.1" y="182.1" width="17.2" height="1.15" fill="#502184"/><rect x="291.2" y="182.1" width="17.2" height="1.15" fill="#472282"/><rect x="325.3" y="182.1" width="17.2" height="1.15" fill="#4f2184"/><rect x="360" y="23.5" width="16" height="2.5" fill="#d60d45"/><rect x="343" y="27.5" width="17" height="2.5" fill="#d60d45"/><rect x="343" y="30" width="68" height="1.6" fill="#9d177f"/><rect x="343" y="35.5" width="17" height="2.5" fill="#c90f56"/><rect x="360" y="36" width="51" height="1.8" fill="#941982"/><rect x="394" y="43" width="17" height="2.8" fill="#dc0c3c"/><rect x="343" y="43.5" width="51" height="2" fill="#a6167b"/><rect x="360" y="51" width="51" height="2" fill="#9d177f"/><rect x="394" y="58" width="17" height="2" fill="#a6167b"/><rect x="343" y="58.5" width="51" height="1.5" fill="#781e8c"/><rect x="377" y="69" width="34" height="1.6" fill="#781e8c"/><rect x="343" y="48" width="17" height="1.5" fill="#781e8c"/><rect x="360" y="64" width="34" height="1.5" fill="#6f1f8a"/><rect x="447" y="72" width="15" height="1.5" fill="#8a1b85"/><rect x="428" y="77" width="34" height="2" fill="#9d177f"/><rect x="411" y="86" width="51" height="2.5" fill="#9d177f"/><rect x="428" y="88" width="19" height="2.4" fill="#d60d45"/><rect x="428" y="93.5" width="34" height="1.8" fill="#9d177f"/><rect x="411" y="98" width="51" height="1.5" fill="#781e8c"/><rect x="428" y="103.5" width="19" height="1.8" fill="#a6167b"/><rect x="428" y="109.5" width="19" height="2.6" fill="#dc0c3c"/><rect x="411" y="112.5" width="51" height="1.6" fill="#941982"/><rect x="447" y="119.5" width="15" height="2.2" fill="#d60d45"/><rect x="411" y="120" width="17" height="1.8" fill="#a6167b"/><rect x="428" y="125.5" width="34" height="2.4" fill="#d60d45"/><rect x="411" y="129" width="51" height="1.4" fill="#811c89"/><rect x="428" y="82" width="34" height="1.2" fill="#781e8c"/><rect x="325" y="131.5" width="18" height="1.5" fill="#941982"/><rect x="257" y="134.5" width="33" height="1.6" fill="#9d177f"/><rect x="308" y="137" width="35" height="2.4" fill="#dc0c3c"/><rect x="308" y="142" width="35" height="1.6" fill="#941982"/><rect x="257" y="149" width="86" height="1.8" fill="#8a1b85"/><rect x="308" y="153.5" width="35" height="2.0" fill="#a6167b"/><rect x="308" y="158.5" width="35" height="1.5" fill="#8a1b85"/><rect x="257" y="170" width="15" height="2" fill="#cf0e4d"/><rect x="308" y="175.5" width="22" height="2.0" fill="#d60d45"/><rect x="257" y="179.5" width="18" height="2.8" fill="#dc0c3c"/><rect x="308" y="172" width="35" height="1.5" fill="#941982"/></g></g><rect x="257" y="21.6" width="86" height="1.4" fill="#3b2380"/><rect x="343" y="21.6" width="68" height="1.4" fill="#6cbf4a"/><rect x="411" y="21.6" width="51" height="1.4" fill="#e8203a"/><path d="M265.5 21.3V19.8H282.6V21.3M316.8 21.3V19.6H333.9V21.3M299.7 21.3V19.0H325.3V19.6M274.1 19.8V18.0H312.5V19.0M351.0 21.3V19.8H368.0V21.3M385.1 21.3V19.5H402.2V21.3M359.5 19.8V17.6H393.7V19.5M419.3 21.3V20.0H436.4V21.3M427.8 20.0V19.0H453.5V21.3M376.6 17.6V16.8H440.6V19.0M293.3 18.0V14.3H408.6V16.8" stroke="#666" stroke-width="0.5" fill="none"/><g stroke="#555" stroke-width="0.6" fill="none"><path d="M256.5 32 H246.7 V131.5 H251.5 M246.7 40.5 H256.5 M248.6 40.5 V69 H256.5 M248.6 46 H256.5 M249.5 52 V60 M249.5 56 H256.5 M251.3 69 V131.5 M253.5 75 V131 M253.5 90 H256.5 M253.5 110 H256.5 M251.3 100 H253.5 M251.5 131.5 V183 M251.5 140 H256.5 M253 131.5 V180 M253 150 H256.5 M254.5 136 V178 M254.5 165 H256.5 M250 131.5 V160 M250.6 170 H256.5 M252.2 182 H256.5"/></g><rect x="309.5" y="185.5" width="120" height="2.4" fill="url(#cbar)"/><g font-size="6.4" fill="#2a2a2a" stroke="#2a2a2a" stroke-width="0.1" text-anchor="middle"><text x="309.8" y="196"><0.6</text><text x="334.5" y="196">0.8</text><text x="352.5" y="196">1</text><text x="368.8" y="196">1.2</text><text x="386.2" y="196">1.4</text><text x="402.4" y="196">1.6</text><text x="429" y="196">>1.8</text></g><rect x="282.7" y="203.5" width="5.5" height="5.5" fill="#3b2380"/><rect x="331" y="203.5" width="5.5" height="5.5" fill="#6cbf4a"/><rect x="373.4" y="203.5" width="5.5" height="5.5" fill="#e8203a"/><g font-size="6.6" fill="#2a2a2a" stroke="#2a2a2a" stroke-width="0.1"><text x="291" y="209">Control wall</text><text x="340.4" y="209">AAA wall</text><text x="383" y="209">AAA Thrombus</text></g></g><g id="C"><text x="6.8" y="233.6" font-size="11.2" font-weight="bold" fill="#111" stroke="#111" stroke-width="0.45">C</text><rect x="31" y="244.6" width="214" height="135.70000000000002" fill="#3b2380"/><g clip-path="url(#clipC)"><g filter="url(#blurC)"><rect x="31" y="244.6" width="214" height="135.70000000000002" fill="#3b2380"/><rect x="31.00" y="244.60" width="17.88" height="3.72" fill="#d60d45"/><rect x="48.83" y="244.60" width="17.88" height="3.72" fill="#941982"/><rect x="66.67" y="244.60" width="17.88" height="3.72" fill="#671f89"/><rect x="31.00" y="248.27" width="17.88" height="3.72" fill="#dc0c3c"/><rect x="48.83" y="248.27" width="17.88" height="3.72" fill="#9d177f"/><rect x="66.67" y="248.27" width="17.88" height="3.72" fill="#6f1f8a"/><rect x="31.00" y="251.94" width="17.88" height="3.72" fill="#dc0c3c"/><rect x="48.83" y="251.94" width="17.88" height="3.72" fill="#cf0e4d"/><rect x="66.67" y="251.94" width="17.88" height="3.72" fill="#a6167b"/><rect x="31.00" y="255.60" width="17.88" height="3.72" fill="#cf0e4d"/><rect x="48.83" y="255.60" width="17.88" height="3.72" fill="#c2115e"/><rect x="66.67" y="255.60" width="17.88" height="3.72" fill="#c90f56"/><rect x="31.00" y="259.27" width="17.88" height="3.72" fill="#4c2283"/><rect x="48.83" y="259.27" width="17.88" height="3.72" fill="#8a1b85"/><rect x="66.67" y="259.27" width="17.88" height="3.72" fill="#811c89"/><rect x="31.00" y="262.94" width="17.88" height="3.72" fill="#552185"/><rect x="48.83" y="262.94" width="17.88" height="3.72" fill="#8a1b85"/><rect x="66.67" y="262.94" width="17.88" height="3.72" fill="#671f89"/><rect x="31.00" y="266.61" width="17.88" height="3.72" fill="#6f1f8a"/><rect x="48.83" y="266.61" width="17.88" height="3.72" fill="#811c89"/><rect x="66.67" y="266.61" width="17.88" height="3.72" fill="#bc1267"/><rect x="31.00" y="270.27" width="17.88" height="3.72" fill="#8a1b85"/><rect x="48.83" y="270.27" width="17.88" height="3.72" fill="#811c89"/><rect x="66.67" y="270.27" width="17.88" height="3.72" fill="#a6167b"/><rect x="31.00" y="273.94" width="17.88" height="3.72" fill="#a6167b"/><rect x="48.83" y="273.94" width="17.88" height="3.72" fill="#941982"/><rect x="66.67" y="273.94" width="17.88" height="3.72" fill="#c90f56"/><rect x="31.00" y="277.61" width="17.88" height="3.72" fill="#a6167b"/><rect x="48.83" y="277.61" width="17.88" height="3.72" fill="#941982"/><rect x="66.67" y="277.61" width="17.88" height="3.72" fill="#af1478"/><rect x="31.00" y="281.28" width="17.88" height="3.72" fill="#cf0e4d"/><rect x="48.83" y="281.28" width="17.88" height="3.72" fill="#a6167b"/><rect x="66.67" y="281.28" width="17.88" height="3.72" fill="#c2115e"/><rect x="31.00" y="284.94" width="17.88" height="3.72" fill="#d60d45"/><rect x="48.83" y="284.94" width="17.88" height="3.72" fill="#b5136f"/><rect x="66.67" y="284.94" width="17.88" height="3.72" fill="#941982"/><rect x="31.00" y="288.61" width="17.88" height="3.72" fill="#cf0e4d"/><rect x="48.83" y="288.61" width="17.88" height="3.72" fill="#8a1b85"/><rect x="66.67" y="288.61" width="17.88" height="3.72" fill="#a6167b"/><rect x="31.00" y="292.28" width="17.88" height="3.72" fill="#c90f56"/><rect x="48.83" y="292.28" width="17.88" height="3.72" fill="#c90f56"/><rect x="66.67" y="292.28" width="17.88" height="3.72" fill="#a6167b"/><rect x="31.00" y="295.95" width="17.88" height="3.72" fill="#941982"/><rect x="48.83" y="295.95" width="17.88" height="3.72" fill="#a6167b"/><rect x="66.67" y="295.95" width="17.88" height="3.72" fill="#9d177f"/><rect x="31.00" y="299.61" width="17.88" height="3.72" fill="#781e8c"/><rect x="48.83" y="299.61" width="17.88" height="3.72" fill="#9d177f"/><rect x="66.67" y="299.61" width="17.88" height="3.72" fill="#9d177f"/><rect x="31.00" y="303.28" width="17.88" height="3.72" fill="#811c89"/><rect x="48.83" y="303.28" width="17.88" height="3.72" fill="#a6167b"/><rect x="66.67" y="303.28" width="17.88" height="3.72" fill="#941982"/><rect x="31.00" y="306.95" width="17.88" height="3.72" fill="#811c89"/><rect x="48.83" y="306.95" width="17.88" height="3.72" fill="#dc0c3c"/><rect x="66.67" y="306.95" width="17.88" height="3.72" fill="#af1478"/><rect x="31.00" y="310.62" width="17.88" height="3.72" fill="#8a1b85"/><rect x="48.83" y="310.62" width="17.88" height="3.72" fill="#d60d45"/><rect x="66.67" y="310.62" width="17.88" height="3.72" fill="#c2115e"/><rect x="31.00" y="314.28" width="17.88" height="3.72" fill="#9d177f"/><rect x="48.83" y="314.28" width="17.88" height="3.72" fill="#c90f56"/><rect x="66.67" y="314.28" width="17.88" height="3.72" fill="#c90f56"/><rect x="31.00" y="317.95" width="17.88" height="3.72" fill="#941982"/><rect x="48.83" y="317.95" width="17.88" height="3.72" fill="#c2115e"/><rect x="66.67" y="317.95" width="17.88" height="3.72" fill="#cf0e4d"/><rect x="31.00" y="321.62" width="17.88" height="3.72" fill="#9d177f"/><rect x="48.83" y="321.62" width="17.88" height="3.72" fill="#c2115e"/><rect x="66.67" y="321.62" width="17.88" height="3.72" fill="#cf0e4d"/><rect x="31.00" y="325.29" width="17.88" height="3.72" fill="#671f89"/><rect x="48.83" y="325.29" width="17.88" height="3.72" fill="#c90f56"/><rect x="66.67" y="325.29" width="17.88" height="3.72" fill="#c90f56"/><rect x="31.00" y="328.95" width="17.88" height="3.72" fill="#5e2087"/><rect x="48.83" y="328.95" width="17.88" height="3.72" fill="#c90f56"/><rect x="66.67" y="328.95" width="17.88" height="3.72" fill="#8a1b85"/><rect x="31.00" y="332.62" width="17.88" height="3.72" fill="#781e8c"/><rect x="48.83" y="332.62" width="17.88" height="3.72" fill="#cf0e4d"/><rect x="66.67" y="332.62" width="17.88" height="3.72" fill="#a6167b"/><rect x="31.00" y="336.29" width="17.88" height="3.72" fill="#781e8c"/><rect x="48.83" y="336.29" width="17.88" height="3.72" fill="#dc0c3c"/><rect x="66.67" y="336.29" width="17.88" height="3.72" fill="#9d177f"/><rect x="31.00" y="339.96" width="17.88" height="3.72" fill="#811c89"/><rect x="48.83" y="339.96" width="17.88" height="3.72" fill="#dc0c3c"/><rect x="66.67" y="339.96" width="17.88" height="3.72" fill="#af1478"/><rect x="31.00" y="343.62" width="17.88" height="3.72" fill="#811c89"/><rect x="48.83" y="343.62" width="17.88" height="3.72" fill="#dc0c3c"/><rect x="66.67" y="343.62" width="17.88" height="3.72" fill="#bc1267"/><rect x="31.00" y="347.29" width="17.88" height="3.72" fill="#a6167b"/><rect x="48.83" y="347.29" width="17.88" height="3.72" fill="#c90f56"/><rect x="66.67" y="347.29" width="17.88" height="3.72" fill="#cf0e4d"/><rect x="31.00" y="350.96" width="17.88" height="3.72" fill="#9d177f"/><rect x="48.83" y="350.96" width="17.88" height="3.72" fill="#bc1267"/><rect x="66.67" y="350.96" width="17.88" height="3.72" fill="#cf0e4d"/><rect x="31.00" y="354.63" width="17.88" height="3.72" fill="#941982"/><rect x="48.83" y="354.63" width="17.88" height="3.72" fill="#8a1b85"/><rect x="66.67" y="354.63" width="17.88" height="3.72" fill="#c2115e"/><rect x="31.00" y="358.29" width="17.88" height="3.72" fill="#8a1b85"/><rect x="48.83" y="358.29" width="17.88" height="3.72" fill="#dc0c3c"/><rect x="66.67" y="358.29" width="17.88" height="3.72" fill="#c90f56"/><rect x="31.00" y="361.96" width="17.88" height="3.72" fill="#811c89"/><rect x="48.83" y="361.96" width="17.88" height="3.72" fill="#dc0c3c"/><rect x="66.67" y="361.96" width="17.88" height="3.72" fill="#811c89"/><rect x="31.00" y="365.63" width="17.88" height="3.72" fill="#671f89"/><rect x="48.83" y="365.63" width="17.88" height="3.72" fill="#cf0e4d"/><rect x="66.67" y="365.63" width="17.88" height="3.72" fill="#552185"/><rect x="31.00" y="369.30" width="17.88" height="3.72" fill="#781e8c"/><rect x="48.83" y="369.30" width="17.88" height="3.72" fill="#bc1267"/><rect x="66.67" y="369.30" width="17.88" height="3.72" fill="#9d177f"/><rect x="31.00" y="372.96" width="17.88" height="3.72" fill="#c2115e"/><rect x="48.83" y="372.96" width="17.88" height="3.72" fill="#dc0c3c"/><rect x="66.67" y="372.96" width="17.88" height="3.72" fill="#8a1b85"/><rect x="31.00" y="376.63" width="17.88" height="3.72" fill="#c90f56"/><rect x="48.83" y="376.63" width="17.88" height="3.72" fill="#d60d45"/><rect x="66.67" y="376.63" width="17.88" height="3.72" fill="#811c89"/><rect x="209.33" y="249" width="17.83" height="3" fill="#dc0c3c"/><rect x="209.33" y="252.5" width="17.83" height="2.5" fill="#8a1b85"/><rect x="227.17" y="259.4" width="17.83" height="5" fill="#c90f56"/><rect x="209.33" y="264.6" width="17.83" height="2.6" fill="#c2115e"/><rect x="209.33" y="269" width="17.83" height="3" fill="#8a1b85"/><rect x="209.33" y="275" width="17.83" height="4" fill="#6f1f8a"/><rect x="227.17" y="275" width="17.83" height="4" fill="#6f1f8a"/><rect x="209.33" y="283" width="17.83" height="3" fill="#671f89"/><rect x="173.67" y="330.5" width="17.83" height="2.4" fill="#8a1b85"/><rect x="209.33" y="341.2" width="17.83" height="2.4" fill="#9d177f"/><rect x="138.00" y="359" width="17.83" height="2.2" fill="#781e8c"/><rect x="155.83" y="363.6" width="17.83" height="2" fill="#6f1f8a"/><rect x="173.67" y="367.2" width="17.83" height="2.6" fill="#d60d45"/><rect x="191.50" y="367.4" width="17.83" height="2.2" fill="#8a1b85"/><rect x="227.17" y="350" width="17.83" height="6" fill="#552185"/></g></g><rect x="31" y="242.3" width="53.50" height="1.5" fill="#e8203a"/><rect x="84.50" y="242.3" width="89.17" height="1.5" fill="#3b2380"/><rect x="173.67" y="242.3" width="71.33" height="1.5" fill="#6cbf4a"/><path d="M57.8 241.6V239.2H75.6V241.6M39.9 241.6V237.8H66.7V239.2M93.4 241.6V239.2H111.2V241.6M129.1 241.6V239.5H146.9V241.6M138.0 239.5V238.8H164.8V241.6M102.3 239.2V237.8H151.4V238.8M182.6 241.6V239.5H200.4V241.6M218.2 241.6V239.2H236.1V241.6M191.5 239.5V238.2H227.2V239.2M126.9 237.8V235.8H209.3V238.2M53.3 237.8V234.3H168.1V235.8" stroke="#777" stroke-width="0.5" fill="none"/><g font-size="4.0" fill="#3a3a3a" text-anchor="end"><text x="28" y="244.6" font-size="4.6">AAA <tspan font-size="3.9">status</tspan></text><text x="28" y="247.73">HBB</text><text x="28" y="251.40">GP9</text><text x="28" y="255.07">PF4</text><text x="28" y="258.74">PPBP</text><text x="28" y="262.40">PLCG2</text><text x="28" y="266.07">P2RY1</text><text x="28" y="269.74">ORAI1</text><text x="28" y="273.41">PLCB2</text><text x="28" y="277.07">PIK3R3</text><text x="28" y="280.74">PTPN6</text><text x="28" y="284.41">CD36</text><text x="28" y="288.08">MAPK13</text><text x="28" y="291.74">GP6</text><text x="28" y="295.41">PIK3R5</text><text x="28" y="299.08">PLA2G4A</text><text x="28" y="302.75">LCP2</text><text x="28" y="306.41">BTK</text><text x="28" y="310.08">RAP1B</text><text x="28" y="313.75">LYN</text><text x="28" y="317.42">FCGR2A</text><text x="28" y="321.09">TBXA2R</text><text x="28" y="324.75">SYK</text><text x="28" y="328.42">PTGS1</text><text x="28" y="332.09">PIK3CG</text><text x="28" y="335.76">ADCY7</text><text x="28" y="339.42">PIK3CD</text><text x="28" y="343.09">CLEC1B</text><text x="28" y="346.76">SERPINA1</text><text x="28" y="350.43">PPP1CA</text><text x="28" y="354.09">FCER1G</text><text x="28" y="357.76">VAMP8</text><text x="28" y="361.43">ORM1</text><text x="28" y="365.10">MYLK</text><text x="28" y="368.76">GP5</text><text x="28" y="372.43">GNA13</text><text x="28" y="376.10">PIK3CB</text><text x="28" y="379.77">F2RL3</text></g><rect x="84.5" y="383.8" width="107.5" height="2" fill="url(#cbar)"/><g font-size="6.1" fill="#2a2a2a" stroke="#2a2a2a" stroke-width="0.1"><text x="87" y="390.2" text-anchor="end" transform="rotate(-45 87 390.2)"><0.2</text><text x="98.5" y="390.2" text-anchor="end" transform="rotate(-45 98.5 390.2)">0.4</text><text x="112" y="390.2" text-anchor="end" transform="rotate(-45 112 390.2)">0.6</text><text x="125.2" y="390.2" text-anchor="end" transform="rotate(-45 125.2 390.2)">0.8</text><text x="136.3" y="390.2" text-anchor="end" transform="rotate(-45 136.3 390.2)">1</text><text x="150.2" y="390.2" text-anchor="end" transform="rotate(-45 150.2 390.2)">1.2</text><text x="162.8" y="390.2" text-anchor="end" transform="rotate(-45 162.8 390.2)">1.4</text><text x="173.3" y="390.2" text-anchor="end" transform="rotate(-45 173.3 390.2)">1.6</text><text x="195.8" y="390.2" text-anchor="end" transform="rotate(-45 195.8 390.2)">1.926</text></g><rect x="66.8" y="408.6" width="5.5" height="5.5" fill="#3b2380"/><rect x="117" y="408.6" width="5.5" height="5.5" fill="#6cbf4a"/><rect x="158" y="408.6" width="5.5" height="5.5" fill="#e8203a"/><g font-size="6.6" fill="#2a2a2a" stroke="#2a2a2a" stroke-width="0.1"><text x="76" y="414">Control wall</text><text x="126" y="414">AAA wall</text><text x="166.5" y="414">AAA Thrombus</text></g></g><g id="D"><text x="256.5" y="233.8" font-size="11.2" font-weight="bold" fill="#111" stroke="#111" stroke-width="0.45">D</text><text x="397.8" y="239.5" font-size="8.7" fill="#222" text-anchor="middle">AAA Thrombus vs AAA Wall</text><path d="M377.0 347.8h0M359.5 343.9h0M355.6 362.5h0M355.6 367.1h0M370.0 367.3h0M358.6 329.9h0M367.5 342.3h0M380.6 371.0h0M350.6 348.6h0M363.3 344.5h0M350.5 290.4h0M367.1 355.9h0M359.9 311.8h0M373.1 368.3h0M361.9 367.5h0M374.2 365.9h0M366.1 339.7h0M381.3 362.2h0M383.4 365.9h0M390.3 361.2h0M364.6 356.5h0M379.8 361.3h0M357.4 366.8h0M371.0 361.1h0M358.3 356.9h0M371.9 367.3h0M382.6 352.8h0M366.0 338.3h0M375.2 359.3h0M365.5 317.2h0M373.4 370.4h0M387.0 359.0h0M370.5 336.2h0M388.7 368.5h0M357.5 339.7h0M365.9 372.1h0M370.9 348.3h0M372.6 338.5h0M383.9 353.4h0M358.3 325.0h0M362.9 372.0h0M342.4 371.7h0M348.0 345.8h0M356.9 317.6h0M341.3 305.4h0M386.2 353.9h0M353.5 350.1h0M350.1 333.3h0M363.1 367.9h0M357.3 319.2h0M351.8 348.6h0M387.3 367.7h0M368.3 345.9h0M343.3 324.0h0M351.4 356.7h0M384.0 361.7h0M357.2 348.5h0M371.9 355.3h0M362.5 301.9h0M371.3 337.5h0M358.3 291.6h0M358.2 322.0h0M372.7 347.9h0M360.0 361.1h0M358.7 355.9h0M353.2 322.4h0M384.1 347.7h0M351.9 332.8h0M344.7 301.5h0M354.2 326.0h0M373.8 372.7h0M357.9 321.5h0M368.7 324.1h0M348.2 334.4h0M383.7 365.3h0M352.7 333.2h0M352.2 271.6h0M358.2 330.3h0M343.3 331.4h0M360.8 341.6h0M374.6 355.7h0M362.5 367.7h0M361.6 340.5h0M368.1 354.9h0M351.6 364.7h0M349.6 290.5h0M364.7 360.7h0M377.6 331.7h0M347.6 289.1h0M357.5 288.4h0M383.6 361.4h0M361.1 338.5h0M362.4 341.7h0M365.3 351.1h0M362.4 339.4h0M360.7 341.4h0M377.4 358.3h0M359.6 299.0h0M371.0 346.2h0M385.0 362.1h0M351.8 325.6h0M384.1 366.6h0M370.7 365.6h0M371.6 342.1h0M360.8 352.6h0M368.4 361.6h0M370.1 331.8h0M347.5 316.9h0M376.3 356.0h0M374.9 358.8h0M356.7 351.0h0M361.3 372.0h0M343.4 344.0h0M366.6 344.3h0M367.8 340.4h0M366.5 338.9h0M355.8 290.4h0M351.6 368.9h0M372.6 355.3h0M363.4 343.3h0M358.7 323.6h0M369.2 362.7h0M357.9 362.0h0M380.1 343.5h0M348.7 323.0h0M352.3 332.8h0M360.9 358.9h0M361.5 316.2h0M350.8 324.5h0M356.0 312.0h0M363.5 354.5h0M361.5 372.7h0M356.9 360.2h0M354.0 328.4h0M352.8 341.9h0M361.7 323.5h0M362.2 334.3h0M376.2 359.0h0M369.6 352.6h0M355.9 359.3h0M359.1 336.1h0M379.2 370.0h0M381.4 363.3h0M372.7 334.8h0M360.8 342.4h0M359.3 353.2h0M356.4 357.6h0M350.8 363.9h0M387.8 368.3h0M374.6 349.3h0M363.3 342.7h0M376.1 320.1h0M360.3 335.5h0M363.2 333.4h0M367.9 342.3h0M358.0 348.5h0M365.6 337.6h0M377.9 309.2h0M357.9 318.1h0M374.4 366.1h0M352.1 353.5h0M348.6 325.9h0M360.1 359.4h0M365.0 358.2h0M360.8 341.2h0M355.1 367.5h0M362.4 352.7h0M368.9 361.3h0M348.4 368.2h0M354.4 300.9h0M358.9 349.6h0M355.6 330.0h0M368.1 315.9h0M385.0 349.4h0M376.1 339.3h0M360.9 325.8h0M365.0 361.1h0M368.4 367.8h0M351.2 357.6h0M363.8 353.6h0M362.9 322.3h0M359.3 359.4h0M358.6 353.2h0M376.9 362.0h0M360.3 304.4h0M357.1 362.9h0M357.1 371.6h0M360.4 340.8h0M369.5 317.6h0M379.0 364.6h0M364.6 330.5h0M382.7 342.8h0M383.4 351.5h0M362.1 344.9h0M367.2 320.4h0M347.9 295.5h0M357.5 284.9h0M345.3 342.6h0M350.0 302.9h0M360.4 316.8h0M370.6 352.6h0M380.1 357.2h0M384.8 369.1h0M383.1 368.9h0M368.2 337.4h0M371.2 362.5h0M362.4 360.0h0M365.2 362.5h0M364.5 363.1h0M362.8 298.5h0M378.0 358.8h0M359.2 340.7h0M360.7 303.2h0M359.6 342.3h0M357.4 372.7h0M371.5 321.7h0M366.3 363.9h0M368.9 331.9h0M380.4 358.5h0M390.2 374.0h0M355.7 288.1h0M369.8 345.9h0M358.4 306.4h0M361.9 341.1h0M366.4 363.9h0M381.0 368.1h0M355.2 346.8h0M385.0 366.5h0M373.5 347.2h0M356.9 372.5h0M349.5 322.2h0M367.3 372.7h0M353.4 334.2h0M378.4 356.8h0M366.7 351.6h0M364.6 318.6h0M360.6 319.9h0M365.9 364.7h0M364.8 326.9h0M358.6 291.7h0M374.6 367.3h0M371.6 350.7h0M367.0 343.6h0M346.5 352.0h0M352.7 350.4h0M370.2 329.2h0M362.7 371.9h0M385.5 366.5h0M371.7 343.8h0M355.8 363.8h0M378.9 353.9h0M370.8 321.3h0M364.3 361.9h0M365.6 367.7h0M352.0 338.1h0M387.7 365.6h0M381.6 341.0h0M339.0 298.4h0M364.6 365.6h0M370.7 340.7h0M362.4 329.4h0M351.0 327.8h0M380.4 361.8h0M363.8 364.6h0M362.0 343.0h0M361.9 338.9h0M358.6 327.8h0M353.8 346.6h0M347.2 313.5h0M376.7 345.5h0M348.2 350.6h0M351.1 339.1h0M364.2 349.1h0M364.4 355.6h0M338.3 318.5h0M354.4 314.8h0M368.2 365.5h0M380.9 344.3h0M369.9 342.5h0M368.7 356.4h0M364.7 328.5h0M369.8 349.8h0M380.9 339.0h0M381.7 366.9h0M379.3 359.6h0M384.6 355.4h0M354.4 351.3h0M373.0 356.3h0M358.7 346.4h0M348.8 271.4h0M385.7 362.2h0M374.1 319.6h0M348.3 324.3h0M367.7 348.3h0M367.4 322.1h0M359.3 362.7h0M350.3 352.8h0M384.8 360.4h0M361.1 357.9h0M357.5 367.3h0M369.3 342.1h0M362.8 335.9h0M392.9 367.5h0M355.0 314.0h0M384.5 362.5h0M347.0 347.2h0M381.6 344.5h0M354.1 340.0h0M365.6 308.0h0M359.8 344.0h0M351.2 335.1h0M370.7 348.6h0M349.2 360.0h0M366.3 360.7h0M363.0 336.2h0M366.1 338.5h0M378.8 372.0h0M364.7 349.0h0M393.0 368.3h0M365.7 338.8h0M362.0 364.4h0M361.2 370.2h0M359.1 358.6h0M375.6 367.4h0M378.2 363.8h0M359.6 293.9h0M371.8 353.2h0M371.4 345.2h0M365.5 347.6h0M377.2 370.4h0M363.1 351.6h0M363.2 312.4h0M361.1 360.3h0M363.3 347.2h0M382.8 353.3h0M370.0 370.3h0M352.9 330.4h0M381.4 351.6h0M369.5 352.3h0M380.5 362.6h0M373.1 363.6h0M380.8 356.3h0M363.4 352.2h0M359.5 362.7h0M365.1 351.6h0M358.8 353.4h0M358.1 311.9h0M366.8 355.6h0M361.9 367.7h0M381.2 343.0h0M373.2 351.5h0M364.5 336.3h0M362.3 356.1h0M358.0 322.7h0M362.5 319.6h0M374.9 357.8h0M372.1 350.8h0M362.4 357.2h0M351.9 371.4h0M353.5 327.9h0M355.0 361.0h0M340.1 332.4h0M376.6 349.4h0M372.1 355.2h0M358.0 357.8h0M377.9 363.4h0M362.6 359.8h0M380.8 364.2h0M359.0 323.5h0M364.8 351.7h0M384.9 368.9h0M367.4 337.3h0M378.4 355.4h0M370.5 358.7h0M348.0 362.5h0M348.9 353.3h0M353.2 333.0h0M375.1 358.0h0M366.5 365.0h0M380.2 362.2h0M372.8 326.6h0M367.1 351.5h0M350.8 344.9h0M359.5 339.6h0M360.8 354.2h0M374.1 324.4h0M355.1 363.8h0M368.2 352.9h0M358.1 315.4h0M376.6 355.4h0M368.6 343.4h0M372.8 366.7h0M372.8 366.1h0M356.8 363.6h0M372.3 359.1h0M349.9 321.2h0M350.9 321.3h0M362.2 289.5h0M359.8 339.0h0M340.9 293.9h0M366.5 365.5h0M356.7 337.3h0M353.5 325.5h0M362.9 369.7h0M374.4 357.5h0M364.1 341.1h0M374.0 352.7h0M347.8 357.6h0M372.5 334.1h0M358.8 324.6h0M378.2 363.0h0M362.0 345.3h0M357.8 339.1h0M362.8 360.4h0M371.3 353.2h0M372.8 368.0h0M371.9 345.7h0M386.3 345.6h0M363.9 301.6h0M365.7 329.6h0M339.6 348.4h0M364.3 319.7h0M368.7 353.5h0M376.1 356.2h0M365.1 342.4h0M342.2 305.6h0M360.9 295.0h0M361.3 322.9h0M362.3 338.1h0M355.8 351.8h0M350.3 353.2h0M375.9 353.8h0M365.2 367.1h0M357.3 316.8h0M348.1 326.5h0M363.5 366.5h0M383.2 372.8h0M340.1 350.9h0M363.0 361.6h0M387.0 349.3h0M367.5 360.8h0M361.8 358.1h0M376.6 362.6h0M361.5 332.2h0M345.9 331.1h0M338.5 283.6h0M380.6 344.1h0M372.3 325.2h0M355.6 328.5h0M367.8 335.8h0M356.7 343.3h0M355.0 336.5h0M365.0 346.7h0M350.0 317.7h0M364.7 290.4h0M348.3 304.2h0M347.3 276.8h0M385.9 347.7h0M381.8 357.8h0M360.3 306.9h0M381.4 359.7h0M349.8 340.6h0M377.5 353.1h0M349.6 279.6h0M353.1 365.9h0M375.3 334.1h0M376.0 368.4h0M355.9 273.2h0M367.9 361.9h0M368.7 354.6h0M349.6 332.8h0M359.0 362.7h0M363.3 324.6h0M371.6 353.6h0M354.6 317.7h0M381.7 364.4h0M356.2 349.6h0M371.5 344.0h0M369.1 354.2h0M383.7 357.5h0M363.0 357.4h0M348.6 316.4h0M358.3 348.1h0M370.6 348.6h0M364.5 357.1h0M359.4 350.4h0M375.8 349.9h0M344.8 336.8h0M380.7 366.8h0M372.9 352.7h0M380.3 328.0h0M354.4 371.5h0M356.5 346.7h0M362.7 327.8h0M343.4 294.7h0M331.5 368.7h0M373.6 351.1h0M370.2 364.6h0M365.2 363.4h0M361.9 333.5h0M375.6 318.7h0M374.7 371.5h0M378.8 341.7h0M381.4 356.7h0M374.2 365.5h0M368.3 343.5h0M369.2 350.3h0M375.3 339.8h0M385.6 350.8h0M345.1 350.3h0M368.5 364.1h0M351.7 363.9h0M354.6 356.7h0M353.4 369.9h0M392.0 368.0h0M384.4 355.2h0M373.6 329.9h0M360.5 344.4h0M366.4 351.5h0M358.7 353.0h0M354.8 346.1h0M377.4 369.7h0M359.9 368.9h0M366.0 360.7h0M359.3 352.8h0M358.1 315.3h0M374.1 372.9h0M362.8 336.5h0M361.0 353.2h0M369.0 335.0h0M349.2 355.9h0M367.1 359.2h0M360.3 304.7h0M359.6 357.5h0M376.5 367.6h0M359.3 355.8h0M369.2 306.6h0M379.0 369.8h0M362.6 340.3h0M356.6 317.6h0M363.8 326.6h0M353.9 308.3h0M348.0 314.8h0M374.9 365.9h0M363.3 366.0h0M357.9 366.1h0M344.3 356.2h0M359.8 361.2h0M379.9 341.6h0M381.2 346.5h0M354.8 349.2h0M343.2 344.9h0M381.7 351.9h0M382.1 363.4h0M375.3 361.7h0M371.4 336.7h0M372.9 351.8h0M355.1 337.5h0M358.7 324.1h0M380.4 338.3h0M357.8 368.8h0M378.6 349.1h0M373.7 339.7h0M359.0 345.4h0M385.6 356.4h0M367.2 338.9h0M386.3 355.0h0M363.7 361.8h0M363.9 334.9h0M347.2 325.3h0M367.2 357.2h0M356.1 341.6h0M377.4 357.1h0M378.5 358.2h0M373.5 357.9h0M345.6 282.1h0M361.4 334.9h0M348.8 329.2h0M357.9 369.4h0M384.8 360.1h0M379.9 352.9h0M359.4 339.1h0M390.6 360.2h0M376.4 329.5h0M372.8 339.1h0M371.4 371.0h0M346.2 284.1h0M364.0 342.4h0M357.5 342.4h0M359.5 323.0h0M351.6 345.5h0M371.8 365.0h0M341.1 282.6h0M356.7 371.8h0M354.1 334.6h0M369.9 343.0h0M348.2 277.4h0M341.3 294.3h0M355.5 313.7h0M359.3 305.1h0M357.8 354.8h0M371.2 372.3h0M378.8 342.5h0M362.6 327.3h0M371.2 359.1h0M359.0 359.9h0M368.2 358.8h0M365.8 356.7h0M342.0 306.1h0M371.7 368.0h0M374.5 350.3h0M349.0 351.9h0M346.9 306.3h0M384.1 352.4h0M344.1 336.5h0M375.9 372.4h0M372.6 352.3h0M366.3 361.5h0M379.1 354.5h0M385.2 365.0h0M363.5 352.8h0M365.2 354.2h0M377.8 365.6h0M365.3 341.3h0M355.2 360.7h0M380.3 356.2h0M363.8 363.7h0M371.2 338.9h0M337.6 347.3h0M372.4 362.2h0M356.5 312.6h0M381.0 369.5h0M386.3 360.8h0M358.5 344.5h0M374.2 372.2h0M363.4 370.2h0M358.6 346.4h0M379.4 355.8h0M356.9 350.1h0M372.7 347.3h0M360.9 343.8h0M367.2 357.3h0M355.8 337.5h0M362.3 367.0h0M376.6 344.7h0M377.5 343.4h0M369.0 358.3h0M372.1 332.5h0M372.3 345.8h0M368.7 348.5h0M346.3 294.6h0M356.8 359.1h0M363.7 340.0h0M360.1 345.2h0M385.1 344.2h0M380.4 362.0h0M345.0 325.9h0M361.1 321.9h0M362.3 359.6h0M360.3 371.6h0M377.8 334.8h0M391.1 362.5h0M353.6 313.5h0M345.0 278.1h0M336.1 307.4h0M351.6 331.7h0M373.7 352.1h0M362.2 330.0h0M356.8 324.5h0M378.5 362.4h0M349.3 325.7h0M385.5 342.7h0M369.1 341.7h0M361.6 316.2h0M383.7 359.7h0M382.9 353.7h0M361.7 350.3h0M375.0 360.0h0M364.9 349.1h0M343.2 312.6h0M344.9 341.2h0M365.0 342.3h0M366.3 364.2h0M367.3 358.2h0M348.6 311.6h0M355.3 322.8h0M367.8 346.3h0M367.0 368.4h0M358.7 365.4h0M351.1 338.4h0M368.6 326.4h0M374.7 369.9h0M368.3 346.4h0M365.9 368.3h0M366.4 345.5h0M375.3 355.9h0M376.2 360.8h0M346.9 343.8h0M383.3 358.9h0M352.5 322.5h0M374.8 347.8h0M356.4 333.4h0M383.8 347.6h0M386.8 352.6h0M364.0 351.1h0M354.2 316.9h0M337.1 329.7h0M369.2 349.0h0M382.4 341.4h0M379.5 354.5h0M363.6 334.5h0M375.1 351.2h0M344.1 297.2h0M367.3 321.8h0M357.5 315.8h0M380.3 339.5h0M352.5 308.5h0M340.8 358.1h0M372.0 342.3h0M382.5 357.3h0M356.9 349.9h0M357.2 342.2h0M353.0 338.8h0M387.7 368.2h0M364.5 324.9h0M358.8 358.1h0M353.4 341.6h0M382.7 364.3h0M347.0 275.5h0M378.3 365.9h0M353.9 305.2h0M362.5 298.0h0M366.3 361.2h0M356.3 346.4h0M352.6 348.5h0M362.6 360.7h0M363.5 364.2h0M376.4 349.2h0M367.9 363.2h0M361.6 360.5h0M386.5 360.4h0M377.0 368.9h0M366.9 341.1h0M369.6 353.9h0M367.3 335.9h0M374.5 371.7h0M361.0 363.0h0M352.9 355.6h0M361.9 357.3h0M377.7 359.4h0M367.6 356.2h0M370.2 343.6h0M358.0 333.5h0M354.5 350.3h0M352.0 344.2h0M353.2 306.6h0M353.4 304.5h0M352.1 277.6h0M359.9 326.1h0M354.7 351.3h0M357.2 270.9h0M360.0 368.2h0M373.2 343.3h0M359.5 364.3h0M339.6 331.7h0M356.4 348.9h0M368.5 336.7h0M381.1 361.0h0M351.0 341.0h0M364.3 372.0h0M376.5 329.6h0M376.4 354.9h0M358.5 339.7h0M348.3 299.4h0M377.3 370.7h0M378.5 371.0h0M362.0 346.4h0M369.0 332.2h0M367.4 339.3h0M352.5 321.4h0M365.8 344.8h0M381.3 368.7h0M379.3 359.9h0M349.0 333.0h0M369.3 321.0h0M371.9 352.1h0M346.9 355.1h0M355.6 362.8h0M357.8 344.5h0M366.4 362.3h0M379.0 368.0h0M367.2 346.8h0M363.5 333.9h0M352.4 369.6h0M373.2 364.4h0M350.7 288.0h0M373.0 366.2h0M375.0 361.8h0M359.0 363.4h0M367.8 364.3h0M362.0 343.9h0M363.0 334.3h0M372.6 351.6h0M365.0 352.1h0M370.1 352.8h0M366.8 357.5h0M350.8 315.1h0M344.5 362.5h0M365.8 285.2h0M374.9 317.0h0M357.7 338.1h0M367.6 329.7h0M372.2 339.3h0M355.9 332.9h0M384.2 362.2h0M348.4 283.2h0M369.2 324.6h0M364.4 339.9h0M372.9 373.9h0M366.0 358.0h0M356.3 321.2h0M381.3 345.8h0M346.3 349.9h0M366.3 351.3h0M349.3 325.8h0M359.1 308.0h0M381.4 350.3h0M347.1 318.7h0M343.6 370.6h0M336.9 296.1h0M360.8 352.8h0M348.7 342.0h0M355.0 354.4h0M370.2 327.8h0M354.5 337.6h0M356.6 327.0h0M379.0 332.4h0M371.2 372.7h0M379.5 343.8h0M357.3 369.1h0M357.7 357.3h0M345.9 344.0h0M380.5 345.6h0M368.9 345.9h0M366.9 351.2h0M366.6 326.9h0M371.6 335.7h0M350.6 348.3h0M389.0 365.1h0M374.5 368.8h0M373.7 335.4h0M373.0 364.6h0M363.1 330.2h0M355.5 335.5h0M387.3 368.3h0M363.1 355.7h0M381.7 370.3h0M380.3 359.4h0M367.4 355.8h0M348.7 354.8h0M355.1 324.2h0M372.5 367.0h0M347.4 295.5h0M359.0 353.0h0M357.3 365.3h0M349.1 311.0h0M337.9 273.3h0M376.3 352.7h0M361.1 353.1h0M356.0 287.8h0M349.9 327.1h0M380.0 359.2h0M380.0 366.8h0M362.7 352.4h0M374.4 364.6h0M366.0 359.1h0M361.4 360.5h0M380.3 361.7h0M366.2 349.6h0M359.3 331.7h0M371.4 355.4h0M357.3 305.7h0M363.7 372.2h0M365.9 370.7h0M351.4 353.8h0M391.5 365.5h0M375.5 367.3h0M369.6 350.5h0M341.3 313.6h0M363.7 328.0h0M347.7 342.1h0M358.6 325.3h0M359.3 306.5h0M375.6 369.8h0M358.1 348.7h0M353.0 309.0h0M360.2 288.3h0M371.3 367.2h0M373.4 368.5h0M347.7 328.3h0M356.7 342.9h0M362.4 327.2h0M355.2 364.9h0M369.5 373.7h0M377.6 363.8h0M356.3 313.9h0M373.8 365.7h0M365.4 359.7h0M347.6 348.8h0M349.8 346.8h0M363.3 322.0h0M373.7 339.0h0M370.7 353.5h0M392.8 367.9h0M363.9 371.0h0M377.2 353.0h0M382.0 363.0h0M374.9 372.2h0M388.6 362.3h0M353.2 311.2h0M379.3 353.8h0M336.3 300.6h0M351.2 356.6h0M355.9 290.8h0M382.9 357.1h0M363.6 359.5h0M371.2 354.6h0M368.1 350.4h0M366.4 351.2h0M362.4 327.3h0M364.9 345.1h0M372.2 356.9h0M373.0 345.9h0M359.0 348.4h0M347.3 307.4h0M357.7 314.9h0M366.0 305.6h0M350.8 327.4h0M345.0 341.9h0M354.6 314.8h0M374.1 336.1h0M371.2 352.6h0M382.4 363.5h0M379.7 345.3h0M376.4 356.4h0M358.5 318.3h0M370.8 367.8h0M367.8 370.8h0M387.8 354.7h0M352.4 365.6h0M376.8 358.1h0M373.1 350.5h0M359.5 360.4h0M357.9 347.3h0M362.9 361.3h0M374.9 360.0h0M344.9 358.6h0M358.7 321.1h0M346.6 343.8h0M357.8 342.5h0M385.5 364.4h0M345.3 287.1h0M361.4 339.0h0M348.8 369.0h0M377.2 345.4h0M360.0 327.2h0M357.6 324.7h0M351.7 302.8h0M363.4 361.5h0M354.2 351.3h0M353.9 360.5h0M381.9 371.7h0M355.4 335.0h0M360.9 354.6h0M353.8 326.4h0M343.6 301.3h0M352.0 299.9h0M363.0 334.4h0M362.7 294.0h0M348.6 285.3h0M349.8 372.6h0M379.3 356.5h0M377.1 349.7h0M372.5 354.6h0M381.6 356.7h0M359.6 357.2h0M363.2 341.8h0M375.4 354.1h0M344.4 323.6h0M351.5 278.7h0M359.2 315.6h0M358.8 363.9h0M359.2 365.0h0M375.5 343.7h0M370.1 368.5h0M363.8 358.8h0M382.9 355.7h0M381.9 359.1h0M379.9 368.1h0M376.0 321.0h0M371.8 369.0h0M351.0 298.1h0M365.5 342.5h0M357.7 326.8h0M350.6 355.2h0M355.1 337.9h0M367.1 357.4h0M362.8 354.1h0M378.9 374.0h0M354.5 314.8h0M360.6 334.6h0M371.0 360.1h0M367.4 344.9h0M359.2 353.0h0M382.9 342.0h0M374.9 371.0h0M357.4 323.4h0M359.1 325.6h0M361.5 364.0h0M348.5 341.2h0M391.0 368.6h0M368.9 370.2h0M371.3 353.7h0M363.7 349.1h0M360.4 341.8h0M364.6 348.5h0M390.7 359.6h0M358.4 340.1h0M336.8 324.5h0M366.8 361.8h0M386.2 367.4h0M385.5 350.1h0M362.4 286.8h0M375.8 351.8h0M388.2 367.7h0M373.9 335.3h0M381.8 364.9h0M369.2 336.5h0M349.4 364.9h0M363.9 326.3h0M375.8 345.3h0M349.4 354.3h0M364.1 312.2h0M365.6 349.2h0M384.7 358.2h0M377.4 364.5h0M382.6 368.7h0M357.2 298.3h0M369.7 348.6h0M352.8 350.7h0M369.2 347.4h0M369.6 349.6h0M359.1 295.2h0M359.1 363.8h0M344.1 290.7h0M358.2 369.8h0M380.3 349.2h0M363.6 358.8h0M370.4 339.7h0M368.7 371.1h0M372.9 372.2h0M384.6 357.8h0M367.4 357.3h0M380.4 326.8h0M360.2 354.3h0M357.7 330.8h0M377.0 334.8h0M382.6 364.7h0M388.5 358.1h0M345.2 292.6h0M353.0 335.5h0M357.6 355.5h0M350.5 338.8h0M344.0 320.5h0M350.6 371.2h0M372.4 340.7h0M357.0 335.3h0M351.9 340.3h0M392.6 365.6h0M350.3 357.1h0M373.0 343.1h0M390.4 367.6h0M370.3 357.9h0M368.8 342.7h0M353.5 331.3h0M354.3 334.6h0M369.7 347.0h0M379.8 337.3h0M363.4 334.2h0M358.1 352.8h0M367.4 318.1h0M369.1 372.0h0M343.5 308.0h0M350.0 316.7h0M351.5 328.3h0M367.5 367.3h0M358.2 363.4h0M373.0 353.6h0M355.3 321.8h0M382.8 343.2h0M385.7 373.2h0M366.7 331.9h0M375.1 348.6h0M356.0 366.1h0M356.9 305.6h0M360.7 355.5h0M359.3 340.7h0M361.9 369.9h0M371.0 363.8h0M359.3 348.8h0M357.5 333.8h0M356.6 304.7h0M352.8 359.1h0M375.8 359.0h0M358.1 358.6h0M367.5 338.0h0M380.8 340.7h0M365.0 367.2h0M348.7 371.1h0M373.1 371.8h0M384.4 355.9h0M365.9 359.8h0M376.7 346.0h0M363.6 361.8h0M363.6 337.1h0M372.0 344.1h0M352.7 360.4h0M355.7 343.7h0M373.8 367.6h0M373.2 367.7h0M371.1 362.0h0M357.6 364.4h0M360.0 348.3h0M348.9 365.3h0M364.0 362.5h0M352.6 311.3h0M364.2 329.4h0M351.1 325.5h0M365.4 351.7h0M365.8 373.1h0M357.9 318.5h0M357.2 350.9h0M354.3 326.1h0M363.6 307.8h0M377.3 359.2h0M363.0 332.8h0M378.5 371.4h0M370.6 372.5h0M366.3 360.2h0M354.5 343.9h0M361.2 362.5h0M359.1 362.4h0M355.5 332.0h0M368.4 330.9h0M338.6 271.0h0M348.3 295.0h0M355.4 359.4h0M351.5 329.1h0M354.3 335.2h0M361.3 359.8h0M345.7 355.7h0M353.7 348.1h0M345.2 311.5h0M348.8 319.6h0M364.9 330.2h0M362.9 339.9h0M370.0 357.9h0M381.8 371.9h0M355.4 296.4h0M379.5 362.9h0M371.1 344.8h0M374.1 357.3h0M378.9 369.1h0M341.8 337.2h0M369.6 320.2h0M345.3 357.2h0M352.6 361.5h0M354.7 332.9h0M363.1 346.6h0M372.8 353.9h0M371.2 342.5h0M354.2 351.0h0M358.0 357.5h0M368.8 354.2h0M361.8 352.0h0M379.9 363.7h0M359.7 367.2h0M380.3 349.4h0M358.3 290.2h0M358.5 336.6h0M366.5 353.2h0M365.6 349.7h0M357.8 289.8h0M383.1 360.1h0M358.3 350.3h0M371.1 356.2h0M351.3 354.1h0M364.3 355.2h0M363.1 344.8h0M367.0 369.6h0M367.0 356.5h0M378.1 371.3h0M376.9 367.1h0M368.2 345.2h0M346.9 307.5h0M370.5 371.2h0M376.4 351.8h0M371.3 341.4h0M345.1 341.0h0M369.9 335.8h0M380.1 348.4h0M387.6 370.2h0M377.6 346.0h0M353.4 308.3h0M383.8 370.5h0M347.9 326.4h0M372.7 350.6h0M371.2 354.4h0M378.9 349.4h0M370.2 369.3h0M359.2 346.2h0M366.2 334.9h0M338.0 351.9h0M349.1 346.7h0M355.5 329.2h0M351.9 334.3h0M369.2 362.8h0M366.4 305.0h0M354.5 294.0h0M375.8 362.8h0M377.8 347.3h0M370.5 358.5h0M364.1 331.0h0M357.7 359.2h0M371.4 346.9h0M371.7 317.0h0M363.9 315.6h0M380.5 365.9h0M378.6 333.6h0M370.8 368.2h0M366.1 370.4h0M350.0 285.3h0M354.5 291.7h0M359.6 323.5h0M368.4 363.1h0M371.0 363.7h0M361.9 368.1h0M362.8 339.1h0M340.0 293.7h0M353.7 344.3h0M364.5 331.9h0M360.2 337.1h0M347.0 333.8h0M355.2 328.3h0M357.1 361.0h0M377.2 340.3h0M372.3 369.3h0M346.8 357.7h0M369.0 356.9h0M367.9 347.9h0M360.1 371.1h0M362.3 368.4h0M365.7 342.7h0M371.7 345.7h0M360.9 337.3h0M384.6 358.9h0M367.9 361.6h0M345.5 342.1h0M363.4 353.6h0M365.6 362.9h0M377.5 330.3h0M355.4 342.0h0M385.8 355.7h0M367.7 309.9h0M371.7 354.7h0M356.1 342.1h0M358.5 309.3h0M349.1 339.1h0M361.5 364.6h0M375.1 366.6h0M359.3 360.8h0M361.9 354.0h0M345.3 324.4h0M358.2 368.1h0M362.2 353.9h0M360.9 347.4h0M373.2 343.4h0M374.0 341.5h0M362.3 337.5h0M366.4 363.1h0M368.3 333.0h0M362.6 350.5h0M368.6 347.6h0M370.3 340.8h0M363.5 364.6h0M366.7 371.2h0M350.6 277.7h0M362.0 356.2h0M355.4 334.3h0M366.5 359.9h0M392.9 369.2h0M385.8 373.3h0M375.2 353.4h0M376.2 372.0h0M385.6 345.8h0M354.9 344.5h0M369.5 353.9h0M349.3 317.0h0M384.2 363.1h0M381.1 359.2h0M365.2 301.1h0M351.5 324.8h0M348.1 325.1h0M355.4 340.5h0M362.8 362.3h0M386.7 361.4h0M361.7 351.4h0M361.0 325.2h0M358.7 367.2h0M355.3 344.1h0M356.5 349.0h0M351.2 361.2h0M354.3 298.1h0M375.1 337.2h0M360.1 334.4h0M370.6 333.1h0M372.8 357.8h0M370.8 338.7h0M361.8 364.3h0M350.6 365.6h0M385.9 341.8h0M358.8 310.0h0M371.5 354.4h0M369.7 367.8h0M373.5 362.4h0M355.1 361.8h0M361.9 367.3h0M375.5 363.3h0M346.5 331.0h0M350.8 365.4h0M354.8 353.2h0M361.0 364.9h0M374.3 367.6h0M386.5 358.4h0M370.4 369.2h0M357.3 333.7h0M362.2 342.1h0M375.6 341.0h0M366.8 354.0h0M358.4 361.2h0M347.8 349.9h0M373.3 346.5h0M368.2 359.0h0M361.5 347.7h0M373.3 357.2h0M387.1 370.3h0M377.8 358.6h0M354.5 362.4h0M375.8 343.8h0M348.5 354.8h0M390.1 373.2h0M386.7 361.3h0M379.7 363.0h0M377.6 360.8h0M358.2 332.1h0M347.7 369.7h0M371.1 359.7h0M369.3 334.6h0M375.9 304.7h0M345.2 310.6h0M368.0 351.5h0M368.5 363.0h0M368.6 346.0h0M367.5 358.6h0M371.2 349.5h0M352.2 365.4h0M360.4 350.7h0M375.5 340.9h0M365.1 299.2h0M368.3 306.1h0M356.3 339.0h0M370.6 308.0h0M369.2 368.6h0M364.1 371.7h0M350.9 308.5h0M367.6 320.1h0M350.5 347.1h0M351.9 362.1h0M369.4 357.1h0M332.5 350.7h0M364.7 366.5h0M377.8 367.8h0M359.9 354.8h0M352.4 325.4h0M345.3 344.8h0M385.8 369.3h0M362.5 355.0h0M390.5 367.0h0M357.9 321.5h0M352.8 333.5h0M358.4 355.8h0M363.3 370.5h0M370.2 361.4h0M377.0 368.2h0M367.9 336.9h0M360.0 352.3h0M369.7 332.7h0M374.9 360.3h0M361.6 329.8h0M369.4 361.5h0M347.6 352.9h0M374.2 362.6h0M357.1 318.8h0M365.3 353.5h0M382.3 352.6h0M359.8 324.3h0M360.9 333.5h0M378.9 360.4h0M334.9 367.5h0M354.4 308.3h0M356.1 316.8h0M364.6 342.9h0M363.2 366.0h0M380.4 360.9h0M368.1 364.9h0M353.5 318.2h0M353.9 312.7h0M353.1 338.5h0M343.5 338.6h0M365.6 322.3h0M370.3 360.6h0M367.2 355.7h0M374.3 360.9h0M352.6 357.4h0M372.6 305.5h0M363.3 342.1h0M345.9 298.1h0M350.6 371.0h0M352.1 286.1h0M366.2 329.5h0M375.1 363.8h0M377.6 323.6h0M372.3 350.4h0M351.8 320.0h0M364.5 355.6h0M372.4 363.6h0M354.4 371.6h0M369.6 316.7h0M365.8 311.8h0M371.9 349.7h0M353.5 340.0h0M357.9 295.2h0M365.9 362.1h0M339.6 353.0h0M364.8 344.4h0M365.8 325.9h0M379.4 349.4h0M380.1 352.9h0M363.0 348.0h0M350.9 308.1h0M367.2 352.8h0M336.3 351.1h0M368.3 341.9h0M358.0 362.8h0M364.2 344.9h0M371.5 326.9h0M373.1 359.3h0M383.4 347.1h0M358.7 334.1h0M374.7 366.1h0M372.9 337.4h0M351.7 347.0h0M356.3 336.8h0M366.2 348.6h0M354.2 358.4h0M344.5 360.5h0M345.3 284.4h0M361.0 334.8h0M372.6 348.5h0M368.1 340.1h0M350.7 336.8h0M365.1 362.8h0M349.8 316.2h0M345.0 324.6h0M348.6 351.9h0M352.9 328.3h0M361.0 330.7h0M365.6 356.8h0M374.3 330.8h0M362.6 351.7h0M352.2 314.5h0M366.4 365.3h0M368.0 335.1h0M350.7 341.6h0M347.8 320.4h0M371.5 331.6h0M365.7 326.5h0M371.5 345.1h0M367.8 359.2h0M384.5 353.4h0M384.3 348.5h0M383.2 359.5h0M383.1 368.7h0M347.9 355.4h0M380.9 371.1h0M362.3 370.4h0M377.6 352.2h0M371.0 346.3h0M375.0 338.1h0M363.1 317.1h0M372.0 350.1h0M357.7 334.9h0M366.7 341.1h0M355.8 284.6h0M368.1 328.4h0M373.9 351.8h0M341.3 282.7h0M361.3 350.3h0M364.6 344.5h0M354.1 344.1h0M353.9 313.3h0M369.5 357.9h0M376.3 349.6h0M356.1 312.1h0M373.7 343.1h0M339.5 336.5h0M346.2 317.5h0M389.7 363.6h0M365.9 338.6h0M352.0 325.3h0M371.5 361.2h0M367.3 355.1h0M365.3 359.1h0M355.3 323.0h0M351.2 335.7h0M362.7 350.7h0M369.5 315.9h0M352.7 343.8h0M365.6 356.7h0M361.6 342.9h0M372.7 336.0h0M357.3 340.9h0M356.3 341.8h0M368.5 348.3h0M388.9 368.1h0M374.1 367.1h0M359.1 355.8h0M356.3 319.9h0M368.1 369.3h0M354.4 331.3h0M349.9 343.9h0M359.9 338.7h0M341.8 279.7h0M370.5 342.1h0M358.4 335.4h0M352.6 320.5h0M358.3 317.8h0M362.7 355.6h0M372.9 366.4h0M363.3 361.3h0M372.9 342.2h0M360.7 372.4h0M387.5 372.7h0M360.1 373.8h0M370.1 358.6h0M355.6 366.0h0M361.9 352.5h0M364.6 330.4h0M362.9 306.3h0M350.7 362.9h0M374.8 348.3h0M357.7 334.7h0M354.5 326.0h0M355.2 346.4h0M354.8 364.2h0M348.5 317.2h0M357.8 340.5h0M357.4 352.2h0M384.7 370.4h0M368.5 352.4h0M390.9 370.1h0M379.5 353.6h0M368.0 334.8h0M361.0 326.7h0M349.1 311.1h0M365.8 350.4h0M379.7 359.2h0M348.3 299.8h0M361.3 354.1h0M343.7 286.6h0M359.3 322.2h0M357.8 327.9h0M362.4 350.7h0M346.3 310.9h0M370.9 365.8h0M359.3 347.2h0M365.6 372.4h0M367.2 323.9h0M347.4 357.4h0M369.6 324.3h0M384.8 364.5h0M368.6 351.0h0M372.8 333.3h0M368.8 340.3h0M350.9 337.7h0M385.2 357.3h0M378.2 362.8h0M359.5 355.2h0M366.0 326.6h0M356.0 317.2h0M371.3 370.5h0M364.4 348.9h0M363.6 309.9h0M366.2 361.2h0M370.9 341.6h0M342.0 356.0h0M363.3 317.7h0M372.2 362.4h0M347.9 343.9h0M366.7 355.0h0M345.3 341.3h0M340.6 346.7h0M377.9 355.8h0M375.2 339.6h0M351.0 362.7h0M382.1 342.5h0M378.9 338.6h0M377.6 355.6h0M373.1 353.1h0M386.1 368.5h0M364.9 360.2h0M375.7 353.3h0M380.2 341.6h0M369.6 325.1h0M357.3 298.6h0M386.1 370.3h0M374.2 362.9h0M363.4 360.3h0M343.3 344.0h0M368.7 365.4h0M371.5 346.0h0M383.1 362.7h0M371.7 356.6h0M354.0 344.3h0M348.6 326.2h0M376.7 362.1h0M361.4 371.8h0M377.4 365.1h0M352.1 305.2h0M362.4 339.4h0M354.1 327.8h0M376.0 359.6h0M381.0 366.1h0M382.7 363.0h0M363.6 344.4h0M364.0 358.7h0M365.4 362.9h0M355.8 317.0h0M378.4 358.0h0M372.1 338.8h0M381.9 357.8h0M391.1 363.0h0M373.3 341.6h0M371.8 353.7h0M395.6 373.4h0M376.7 338.3h0M369.4 365.2h0M381.1 371.2h0M341.9 294.2h0M370.9 358.3h0M363.1 355.4h0M378.2 361.3h0M355.4 353.9h0M352.9 313.0h0M370.8 347.9h0M351.2 347.1h0M371.2 347.0h0M370.3 332.6h0M359.3 331.0h0M381.7 339.1h0M354.8 362.7h0M351.6 358.4h0M365.9 349.9h0M371.6 325.9h0M362.8 363.1h0M360.3 329.2h0M354.1 333.0h0M367.4 357.8h0M358.9 325.0h0M366.8 324.1h0M362.8 343.8h0M370.6 361.3h0M353.9 366.2h0M360.7 341.9h0M366.4 355.7h0M366.3 356.8h0M374.6 355.9h0M387.0 353.9h0M373.2 356.8h0M347.3 287.3h0M350.4 292.0h0M379.5 372.0h0M358.5 362.9h0M357.8 361.2h0M338.5 371.8h0M372.0 328.6h0M378.4 352.7h0M378.1 341.1h0M376.3 364.3h0M341.0 310.0h0M334.3 294.5h0M385.1 370.1h0M369.6 363.7h0M334.1 324.2h0M358.2 347.2h0M388.2 360.8h0M360.7 311.9h0M355.9 301.8h0M370.4 359.8h0M346.6 365.0h0M359.8 368.9h0M384.4 363.5h0M344.9 358.2h0M354.4 362.2h0M370.1 369.6h0M347.7 290.1h0M350.4 360.8h0M341.2 344.8h0M367.1 350.7h0M354.8 329.3h0M357.0 351.1h0M352.3 351.7h0M360.0 362.9h0M390.6 370.0h0M375.1 363.7h0M361.0 366.9h0M370.5 361.4h0M370.1 372.9h0M377.3 347.7h0M351.5 365.0h0M370.6 347.4h0M377.0 362.5h0M363.6 341.0h0M377.3 368.5h0M387.8 348.7h0M358.6 370.1h0M360.4 323.1h0M356.6 357.1h0M372.4 366.4h0M356.0 330.8h0M358.8 334.8h0M367.8 357.6h0M382.2 369.9h0M357.6 319.0h0M375.0 343.8h0M360.8 343.3h0M369.1 346.0h0M376.7 357.0h0M379.7 368.9h0M364.6 316.1h0M376.8 324.1h0M340.0 348.4h0M368.7 341.4h0M360.2 351.1h0M374.4 328.5h0M377.0 342.9h0M360.4 324.7h0M364.5 333.8h0M376.6 360.9h0M355.3 308.9h0M349.0 278.7h0M364.4 334.7h0M365.2 325.4h0M375.9 341.4h0M365.9 364.4h0M381.8 360.4h0M373.1 356.8h0M365.8 340.4h0M354.4 360.1h0M362.7 329.7h0M376.8 366.2h0M369.9 359.0h0M378.3 364.1h0M347.6 344.4h0M366.7 315.6h0M375.7 361.7h0M362.8 355.5h0M359.0 351.5h0M362.7 360.7h0M371.4 328.0h0M367.2 359.2h0M368.2 349.6h0M376.0 342.9h0M349.3 340.7h0M378.8 347.6h0M363.9 311.8h0M388.1 370.1h0M387.1 373.9h0M351.1 328.7h0M360.1 318.8h0M359.7 346.6h0M376.0 368.5h0M356.2 318.1h0M351.1 331.9h0M364.6 335.7h0M344.9 304.0h0M363.9 322.3h0M353.2 299.2h0M371.1 365.7h0M347.2 343.9h0M369.3 348.6h0M367.0 353.5h0M369.0 338.0h0M365.9 364.4h0M337.4 360.9h0M351.1 304.5h0M365.0 373.7h0M353.1 330.6h0M357.3 309.9h0M367.6 367.6h0M364.9 323.8h0M381.3 335.4h0M366.8 296.7h0M380.2 363.3h0M377.0 328.4h0M358.7 342.9h0M370.7 361.9h0M384.3 371.4h0M386.3 368.2h0M380.2 360.9h0M357.5 370.8h0M391.2 362.1h0M363.7 345.2h0M371.5 344.6h0M365.8 372.8h0M364.4 322.1h0M356.8 335.0h0M340.2 339.5h0M370.5 339.9h0M359.1 370.4h0M354.6 344.4h0M361.4 310.9h0M376.2 349.2h0M353.1 323.4h0M362.5 340.4h0M378.3 360.8h0M351.7 298.9h0M365.1 327.5h0M359.7 331.4h0M353.5 304.9h0M350.7 298.6h0M373.8 363.9h0M364.0 367.2h0M373.2 354.1h0M356.9 350.4h0M373.7 354.2h0M371.0 320.6h0M347.5 316.3h0M360.8 350.5h0M344.0 330.7h0M354.9 369.7h0M368.8 355.4h0M370.2 367.1h0M362.3 366.1h0M364.7 337.6h0M360.0 333.2h0M384.7 345.4h0M360.1 331.7h0M355.3 344.9h0M359.7 312.5h0M371.0 344.2h0M332.0 277.0h0M359.5 354.7h0M368.4 331.9h0M378.3 344.9h0M370.9 371.1h0M367.6 366.2h0M360.4 338.0h0M362.5 354.2h0M373.0 359.1h0M368.4 332.0h0M340.7 313.9h0M382.1 367.9h0M356.5 364.3h0M354.2 362.5h0M370.3 369.9h0M371.8 361.6h0M374.9 370.8h0M366.4 321.0h0M372.0 355.6h0M370.1 350.7h0M370.2 353.1h0M364.2 368.1h0M386.9 346.9h0M366.0 314.3h0M358.0 345.7h0M360.9 341.0h0M342.3 306.5h0M367.7 359.0h0M365.4 350.7h0M351.3 335.2h0M346.1 337.9h0M364.9 358.2h0M375.3 355.8h0M379.2 362.4h0M355.0 329.5h0M347.6 335.6h0M376.9 341.0h0M357.3 313.1h0M389.7 370.5h0M367.2 356.9h0M368.4 328.0h0M354.0 346.8h0M360.0 335.0h0M345.4 275.1h0M359.7 307.0h0M386.1 368.9h0M357.8 348.5h0M355.4 369.1h0M368.3 367.7h0M378.6 373.5h0M362.0 347.2h0M370.4 373.7h0M378.3 349.6h0M350.2 316.9h0M366.6 360.2h0M361.1 357.3h0M390.7 367.5h0M380.4 359.8h0M383.0 370.2h0M365.0 355.0h0M367.0 370.3h0M351.4 306.4h0M358.3 327.0h0M369.8 345.5h0M371.0 332.5h0M356.2 358.7h0M369.3 367.9h0M330.5 271.6h0M361.0 336.8h0M381.9 356.2h0M381.6 339.3h0M350.0 336.2h0M364.7 348.2h0M363.2 344.9h0M363.2 346.5h0M369.0 351.6h0M383.4 365.8h0M361.6 361.2h0M373.7 349.0h0M382.2 367.4h0M355.9 355.7h0M373.4 357.2h0M346.7 357.8h0M354.6 361.3h0M363.1 341.3h0M372.9 349.0h0M362.1 353.8h0M376.7 358.4h0M349.6 293.9h0M375.5 345.3h0M378.9 359.1h0M371.7 363.9h0M354.9 357.1h0M373.7 354.8h0M348.9 358.3h0M358.5 332.0h0M365.7 341.5h0M382.4 370.5h0M359.3 309.9h0M349.0 360.9h0M373.3 349.8h0M377.7 338.9h0M365.7 358.7h0M348.2 340.2h0M368.2 328.0h0M352.5 313.5h0M356.8 362.1h0M365.0 336.7h0M375.8 364.3h0M358.2 358.3h0M364.8 335.1h0M368.2 325.4h0M362.0 341.0h0M372.0 358.0h0M357.7 351.9h0M367.3 365.3h0M349.6 328.0h0M380.9 372.0h0M370.8 357.7h0M358.5 302.3h0M390.2 365.9h0M365.1 362.7h0M370.6 340.6h0M371.0 356.8h0M346.2 346.5h0M359.8 350.5h0M352.6 338.0h0M366.6 367.0h0M357.8 339.0h0M366.1 356.1h0M348.6 355.8h0M350.0 337.5h0M372.2 361.2h0M371.4 343.1h0M363.0 348.1h0M370.7 357.6h0M385.2 354.1h0M359.6 364.0h0M368.8 357.0h0M343.9 344.1h0M383.9 333.6h0M378.0 353.1h0M371.2 341.8h0M357.5 319.8h0M361.2 308.6h0M355.0 344.3h0M363.3 361.3h0M362.7 356.2h0M375.9 352.1h0M356.4 372.1h0M363.2 355.0h0M372.8 349.4h0M356.0 323.1h0M372.0 363.3h0M355.0 343.0h0M352.0 342.5h0M374.5 345.5h0M358.6 318.0h0M354.4 330.1h0M379.2 340.5h0M366.1 359.5h0M373.4 356.1h0M343.9 341.5h0M354.2 333.2h0M369.9 308.8h0M350.3 324.0h0M385.3 361.6h0M365.1 346.0h0M376.4 361.2h0M371.2 350.4h0M372.2 350.9h0M368.0 356.9h0M360.2 346.7h0M359.2 326.2h0M365.0 362.0h0M361.6 312.5h0M356.5 350.1h0M358.4 330.1h0M342.5 289.5h0M371.7 358.3h0M379.6 349.3h0M381.3 365.1h0M372.3 356.1h0M364.1 340.7h0M370.4 340.6h0M365.2 305.2h0M381.8 361.6h0M372.7 314.1h0M363.9 355.5h0M362.4 328.2h0M372.8 365.9h0M371.3 342.3h0M381.7 355.0h0M360.1 349.2h0M375.3 371.4h0M343.8 319.3h0M372.0 361.4h0M356.9 341.9h0M370.2 360.0h0M363.4 334.1h0M386.0 356.2h0M359.4 364.1h0M348.0 325.4h0M371.2 361.3h0M385.5 363.9h0M378.0 330.9h0M369.8 316.3h0M360.0 358.1h0M359.7 361.5h0M375.5 353.1h0M360.0 336.9h0M366.9 334.4h0M380.9 340.6h0M356.6 336.0h0M366.3 339.3h0M377.0 353.3h0M380.4 358.1h0M374.9 348.9h0M362.5 319.7h0M358.6 329.4h0M378.8 367.7h0M371.9 366.4h0M360.5 355.5h0M370.1 332.1h0M366.8 368.8h0M344.7 333.0h0M348.1 371.3h0M355.1 337.0h0M379.7 352.2h0M359.5 331.2h0M379.8 359.1h0M372.4 351.7h0M360.8 352.8h0M354.1 357.6h0M359.7 283.2h0M371.4 359.5h0M358.3 306.9h0M380.9 363.9h0M344.4 323.0h0M360.6 347.7h0M367.4 344.8h0M380.3 369.4h0M365.6 362.1h0M388.2 359.5h0M365.5 350.8h0M356.0 328.1h0M372.4 363.4h0M355.9 318.6h0M359.9 329.9h0M340.1 339.8h0M377.9 335.8h0M362.8 345.3h0M360.0 345.4h0M357.1 359.7h0M358.2 315.3h0M359.0 348.3h0M365.6 363.1h0M390.0 367.2h0M381.8 355.9h0M387.1 366.9h0M371.4 341.9h0M381.9 330.5h0M352.8 273.9h0M386.2 365.3h0M362.0 366.3h0M343.5 301.3h0M348.5 349.7h0M367.1 338.7h0M364.4 362.4h0M380.0 354.2h0M369.6 361.0h0M369.0 335.9h0M379.5 353.2h0M363.7 331.2h0M372.0 348.3h0M382.8 359.8h0M347.7 302.1h0M380.4 365.8h0M383.0 368.8h0M349.8 356.6h0M365.7 349.1h0M347.0 335.2h0M354.8 336.1h0M370.5 366.7h0M369.7 331.1h0M383.5 366.3h0M356.1 353.4h0M378.7 366.2h0M384.9 368.2h0M376.0 373.6h0M366.1 347.6h0M363.1 353.7h0M366.3 363.1h0M367.8 337.0h0M373.0 365.5h0M382.7 355.7h0M357.8 354.8h0M359.4 281.0h0M353.4 314.8h0M369.1 357.0h0M344.5 304.1h0M352.7 349.3h0M341.6 342.7h0M367.5 351.9h0M368.2 363.8h0M373.3 356.1h0M356.7 308.6h0M381.2 355.0h0M369.6 357.7h0M360.0 360.7h0M368.1 338.5h0M354.2 344.9h0M359.7 338.3h0M364.1 327.9h0M360.3 332.1h0M361.4 326.1h0M376.0 361.8h0M363.2 330.6h0M348.2 311.7h0M375.5 364.0h0M357.0 342.9h0M370.1 358.9h0M339.3 320.7h0M387.7 353.2h0M369.6 360.7h0M379.9 349.9h0M375.9 335.2h0M364.7 362.1h0M385.0 357.2h0M373.7 351.6h0M365.3 361.2h0M366.7 355.9h0M377.2 345.3h0M376.8 343.5h0M358.9 348.7h0M357.5 347.6h0M353.0 364.3h0M350.4 361.5h0M364.5 366.6h0M379.0 362.0h0M370.5 350.5h0M376.4 344.4h0M357.8 340.9h0M367.3 329.1h0M376.3 361.2h0M371.8 358.7h0M377.5 350.9h0M361.9 322.3h0M344.1 291.9h0M374.0 351.0h0M360.8 340.4h0M362.3 360.4h0M386.9 352.5h0M363.2 372.5h0M360.9 342.2h0M372.0 318.7h0M390.4 357.9h0M362.2 320.1h0M353.6 340.1h0M383.0 366.2h0M384.4 354.5h0M365.1 367.6h0M376.6 361.2h0M384.8 344.1h0M359.3 313.6h0M356.5 335.1h0M356.0 347.9h0M355.1 358.4h0M374.8 351.6h0M390.8 361.1h0M373.3 366.7h0M375.4 349.6h0M362.8 306.0h0M361.1 320.2h0M359.9 355.4h0M366.7 315.1h0M348.0 334.9h0M349.6 276.1h0M373.8 350.7h0M363.2 356.0h0M357.9 275.8h0M373.7 338.6h0M389.4 361.2h0M380.7 347.2h0M357.8 345.9h0M372.7 336.4h0M346.7 328.1h0M364.7 359.7h0M358.5 347.0h0M363.8 327.5h0M391.7 373.1h0M353.8 302.9h0M365.3 351.4h0M360.0 321.8h0M360.7 349.4h0M376.1 367.9h0M369.2 319.6h0M370.0 348.5h0M360.6 352.0h0M367.1 324.8h0M369.2 353.6h0M354.6 334.2h0M366.6 365.2h0M372.6 362.7h0M342.8 338.5h0M375.4 371.1h0M367.1 341.9h0M372.6 344.9h0M379.6 334.4h0M376.2 349.6h0M374.1 359.7h0M352.2 364.2h0M381.3 359.4h0M365.9 341.4h0M363.5 369.7h0M362.5 337.3h0M364.9 357.2h0M366.3 351.3h0M360.3 346.9h0M360.2 353.4h0M358.0 319.3h0M342.1 286.8h0M356.2 337.0h0M369.5 341.3h0M362.3 364.4h0M348.0 369.7h0M361.9 337.0h0M361.2 307.5h0M362.9 362.8h0M363.7 317.2h0M340.6 290.8h0M367.4 360.1h0M367.3 293.0h0M362.7 367.1h0M364.8 352.3h0M368.7 363.4h0M370.6 367.6h0M350.6 290.8h0M379.7 351.2h0M347.8 336.2h0M372.6 313.6h0M356.7 362.5h0M360.7 344.9h0M386.1 343.2h0M358.8 341.6h0M364.5 298.7h0M370.8 349.2h0M378.8 360.2h0M369.1 359.6h0M358.7 366.1h0M375.3 357.5h0M359.6 355.3h0M340.2 283.4h0M375.0 363.3h0M360.5 333.9h0M365.4 328.3h0M366.1 367.6h0M380.2 359.5h0M362.1 343.6h0M360.1 333.1h0M369.0 354.7h0M353.1 307.8h0M366.1 353.2h0M372.5 369.7h0M374.2 366.4h0M365.5 349.5h0M365.0 357.1h0M362.4 359.6h0M380.2 360.1h0M376.8 356.2h0M366.7 367.9h0M363.7 312.4h0M338.6 327.6h0M359.6 337.0h0M347.9 301.1h0M379.4 346.9h0M365.1 329.2h0M372.6 368.5h0M351.0 348.0h0M378.3 368.4h0M361.0 312.0h0M354.1 304.6h0M392.4 367.1h0M368.5 368.6h0M356.4 278.1h0M362.0 345.6h0M347.3 373.1h0M357.7 355.1h0M356.5 346.7h0M378.8 355.8h0M349.4 334.0h0M356.7 319.0h0M358.7 370.4h0M358.2 336.7h0M381.3 364.6h0M365.1 348.0h0M362.0 351.7h0M371.2 374.5h0M363.4 372.4h0M374.1 355.2h0M365.9 336.4h0M357.0 354.8h0M375.0 326.0h0M390.7 366.4h0M369.7 349.8h0M356.4 342.0h0M367.9 335.6h0M359.8 368.0h0M372.6 362.2h0M364.1 365.9h0M382.6 362.4h0M346.6 343.3h0M385.0 353.7h0M381.1 349.6h0M382.4 366.7h0M366.8 368.0h0M361.9 332.3h0M351.1 311.8h0M353.5 325.5h0M372.6 362.9h0M363.1 369.7h0M365.6 343.7h0M346.2 301.8h0M347.2 359.6h0M370.8 342.2h0M341.9 322.5h0M361.9 366.4h0M364.1 334.2h0M353.7 364.8h0M375.7 354.2h0M339.9 340.3h0M376.4 347.4h0M374.7 358.5h0M350.0 362.5h0M380.2 361.2h0M359.0 345.1h0M361.7 313.5h0M373.5 357.0h0M372.8 354.9h0M350.3 297.2h0M379.8 347.8h0M372.2 360.2h0M375.9 342.9h0M363.3 333.9h0M357.9 357.0h0M357.6 326.1h0M368.5 366.6h0M349.1 330.6h0M372.5 349.4h0M371.0 357.0h0M356.0 349.0h0M357.1 346.6h0M375.8 362.5h0M381.4 347.7h0M376.5 370.2h0M367.2 355.5h0M368.9 357.6h0M364.6 346.0h0M341.8 296.8h0M350.8 352.5h0M379.4 364.4h0M359.9 342.0h0M368.7 324.5h0M365.9 344.9h0M371.1 348.9h0M346.2 319.0h0M361.8 342.4h0M368.3 351.6h0M371.6 360.1h0M390.7 372.6h0M375.1 361.6h0M370.3 368.2h0M344.2 300.0h0M359.9 331.1h0M363.6 364.9h0M370.8 366.4h0M389.3 355.8h0M361.5 336.3h0M358.8 365.2h0M383.0 363.5h0M370.5 343.4h0M373.1 351.5h0M370.0 362.1h0M366.1 344.0h0M371.1 330.2h0M352.5 282.7h0M353.6 334.5h0M367.6 359.3h0M360.3 323.1h0M366.2 332.6h0M364.6 320.0h0M354.2 317.6h0M359.0 318.2h0M358.1 352.4h0M374.1 369.0h0M370.2 339.9h0M346.7 317.0h0M357.0 348.4h0M366.0 349.5h0M388.2 359.2h0M366.4 348.4h0M370.1 365.1h0M377.9 360.8h0M368.7 354.3h0M375.8 369.5h0M389.3 372.6h0M375.5 356.3h0M371.9 369.2h0M375.9 359.3h0M374.7 369.2h0M375.3 367.5h0M379.5 370.1h0M344.7 348.1h0M363.0 342.0h0M366.9 361.0h0M367.7 355.1h0M380.6 357.2h0M362.5 338.4h0M381.2 358.8h0M354.6 321.9h0M374.6 359.5h0M368.5 369.8h0M356.1 364.2h0M369.8 358.0h0M358.4 341.7h0M358.2 361.1h0M351.3 303.6h0M361.9 354.7h0M355.0 354.3h0M338.1 283.2h0M333.1 289.4h0M334.2 348.2h0M318.5 333.7h0M316.3 331.3h0M334.9 295.6h0M327.6 311.2h0M334.0 300.3h0M326.9 325.7h0M330.0 308.4h0M317.3 316.3h0M329.3 294.2h0M322.2 278.5h0M336.7 305.2h0M329.3 340.9h0M324.0 329.6h0M328.5 348.7h0M313.5 275.5h0M313.1 327.2h0M326.1 276.3h0M324.1 331.3h0M328.8 304.7h0M341.7 299.9h0M315.3 282.6h0M342.8 346.2h0M339.9 282.1h0M340.6 280.7h0M322.9 303.7h0M338.5 288.5h0M332.7 284.4h0M334.6 324.2h0M344.0 322.0h0M316.2 281.8h0M325.1 291.5h0M342.1 292.6h0M335.5 328.7h0M329.6 323.3h0M339.5 329.6h0M327.3 293.1h0M316.5 291.3h0M331.1 300.8h0M335.3 335.2h0M342.1 305.3h0M324.6 345.8h0M319.6 349.6h0M322.4 342.7h0M313.8 345.9h0M316.2 334.4h0M315.9 327.5h0M316.3 339.0h0M332.0 324.7h0M335.4 336.2h0M334.3 332.2h0M326.9 334.4h0M315.8 275.4h0M321.3 352.8h0M333.1 350.0h0M316.2 333.6h0M319.5 323.5h0M323.9 329.7h0M378.5 353.5h0M379.5 369.5h0M360.4 358.0h0M376.5 348.9h0M384.0 355.8h0M394.4 374.3h0M360.1 366.8h0M381.9 360.0h0M360.8 366.6h0M385.0 370.5h0M387.5 351.7h0M395.9 378.0h0M392.6 365.7h0M390.7 365.6h0M390.9 377.8h0M360.2 359.1h0M384.9 374.7h0M395.8 372.9h0M387.8 364.0h0M393.5 378.0h0M389.2 362.0h0M362.8 372.8h0M385.3 364.2h0M381.0 372.7h0M387.1 367.2h0M394.1 369.7h0M367.2 370.1h0M381.8 374.4h0M397.1 377.9h0M392.2 377.1h0M389.8 366.1h0M395.3 372.2h0M394.4 368.9h0M385.1 372.1h0M397.5 378.0h0M365.4 366.5h0M388.6 374.1h0M393.6 373.0h0M389.3 365.7h0M371.5 371.9h0M395.7 370.6h0M391.7 377.4h0M391.6 374.2h0M380.0 369.1h0M390.1 365.2h0M394.8 372.5h0M377.2 354.3h0M380.4 373.3h0M359.7 371.8h0M384.6 370.0h0M397.2 372.8h0M379.8 355.0h0M354.5 355.0h0M363.1 361.0h0M388.5 358.5h0M386.0 363.0h0M390.0 369.8h0M386.4 377.0h0M389.2 356.6h0M392.1 378.1h0M366.2 372.1h0M382.1 369.9h0M365.6 350.9h0M391.8 378.1h0M396.0 378.6h0M376.1 358.6h0M397.4 377.0h0M378.9 375.3h0M378.6 374.1h0M388.4 359.9h0M376.6 371.9h0M389.3 372.6h0M373.3 372.8h0M372.2 356.9h0M395.0 370.2h0M396.2 375.9h0M377.3 366.3h0M390.3 363.9h0M377.7 370.0h0M396.2 377.4h0M374.1 372.9h0M366.6 365.4h0M373.7 370.6h0M389.6 370.9h0M388.3 374.4h0M362.4 366.0h0M385.8 355.2h0M387.6 357.6h0M376.1 358.1h0M387.4 367.5h0M382.7 372.0h0M384.1 368.2h0M392.9 366.1h0M371.2 370.1h0M373.9 370.6h0M377.4 374.2h0M383.5 376.6h0M396.2 373.9h0M394.8 373.7h0M381.2 360.4h0M381.8 376.6h0M372.4 366.4h0M394.3 376.6h0M380.0 354.4h0M376.8 370.6h0M393.8 368.0h0M389.1 355.6h0M387.9 369.4h0M397.0 377.2h0M384.6 367.4h0M389.3 363.3h0M385.3 370.8h0M374.5 337.4h0M384.5 358.0h0M391.6 377.1h0M387.8 377.1h0M390.9 373.9h0M383.9 354.5h0M378.5 345.7h0M392.8 371.3h0M393.3 367.2h0M387.4 377.4h0M365.5 365.7h0M395.8 375.5h0M371.5 365.3h0M397.0 373.2h0M366.9 347.8h0M385.9 367.5h0M387.0 377.0h0M390.9 378.0h0M378.9 365.0h0M379.4 375.1h0M377.2 353.8h0M394.1 371.5h0M391.8 377.8h0M376.1 366.2h0M392.7 372.9h0M387.8 369.3h0M364.9 362.4h0M385.6 376.3h0M376.5 375.7h0M374.3 363.2h0M375.9 368.0h0M386.8 375.9h0M381.6 374.4h0M394.7 377.7h0M379.2 361.6h0M377.9 366.1h0M368.7 361.6h0M361.6 372.1h0M380.5 370.8h0M361.0 366.3h0M397.5 376.8h0M368.0 371.5h0M392.7 370.5h0M384.8 374.8h0M395.6 375.9h0M394.2 375.3h0M371.1 367.6h0M364.6 369.5h0M388.7 374.0h0M376.2 361.3h0M395.7 371.0h0M358.9 369.0h0M366.3 373.6h0M372.1 361.5h0M396.8 378.6h0M385.0 373.9h0M397.5 377.9h0M390.8 374.9h0M379.1 367.6h0M377.5 375.4h0M394.3 373.6h0M386.7 375.5h0M371.5 349.8h0M380.1 354.4h0M382.4 373.9h0M378.1 369.5h0M378.4 355.4h0M386.7 367.8h0M361.3 361.3h0M380.2 364.1h0M348.8 359.6h0M397.1 378.5h0M348.4 361.4h0M367.8 362.2h0M390.9 375.7h0M390.0 357.8h0M393.1 375.9h0M382.4 375.1h0M394.9 376.3h0M395.9 375.2h0M383.2 353.1h0M382.9 373.2h0M379.2 358.2h0M382.3 371.9h0M378.4 353.5h0M371.1 352.5h0M394.0 375.9h0M388.8 374.3h0M379.1 368.1h0M395.5 378.2h0M396.8 372.3h0M386.6 349.1h0M378.1 373.2h0M396.0 376.7h0M364.9 359.6h0M386.0 364.5h0M366.4 367.5h0M387.8 353.1h0M383.0 367.2h0M394.2 371.9h0M395.3 373.3h0M382.5 360.8h0M396.8 372.4h0M379.8 376.3h0M387.9 366.4h0M388.9 365.6h0M391.3 375.4h0M360.2 370.0h0M374.5 352.9h0M382.8 363.9h0M396.4 371.5h0M395.0 370.4h0M389.3 371.0h0M365.3 370.4h0M362.9 372.3h0M395.8 377.2h0M361.7 372.4h0M379.7 361.6h0M386.3 361.7h0M379.1 347.3h0M391.5 376.3h0M395.8 378.6h0M339.2 351.0h0M372.1 360.7h0M382.6 367.9h0M388.3 372.1h0M382.8 369.7h0M395.7 378.5h0M383.9 362.7h0M380.8 366.7h0M385.7 369.1h0M394.0 368.0h0M378.0 366.3h0M355.2 360.1h0M370.0 361.4h0M383.6 376.1h0M361.4 372.2h0M392.3 370.0h0M385.4 375.7h0M395.4 376.9h0M392.6 365.6h0M392.8 367.3h0M394.6 368.8h0M395.5 376.4h0M389.8 371.8h0M392.3 365.1h0M344.6 367.5h0M388.6 377.6h0M370.6 362.9h0M392.4 366.7h0M367.1 346.7h0M394.3 369.5h0M392.9 371.5h0M395.4 375.0h0M369.5 370.6h0M369.7 373.2h0M391.0 361.3h0M379.5 362.4h0M380.8 376.4h0M384.9 377.0h0M395.3 369.5h0M397.1 373.2h0M384.0 362.0h0M394.4 371.9h0M396.9 376.8h0M384.2 362.2h0M367.8 368.3h0M379.6 354.8h0M389.7 355.1h0M394.5 371.5h0M360.6 356.2h0M383.8 367.4h0M382.9 360.2h0M371.2 370.0h0M373.9 372.0h0M375.6 375.0h0M396.8 376.8h0M383.2 368.9h0M387.9 376.5h0M393.5 378.0h0M379.7 365.6h0M379.5 357.7h0M387.8 376.2h0M379.5 376.0h0M393.9 368.2h0M392.2 378.2h0M380.5 376.0h0M385.6 377.0h0M372.7 375.0h0M376.1 366.5h0M388.2 365.9h0M394.9 375.6h0M394.3 375.4h0M374.8 373.3h0M379.2 368.6h0M382.6 374.7h0M379.7 366.5h0M392.9 367.2h0M396.4 372.4h0M387.3 372.3h0M387.6 377.3h0M379.1 374.7h0M391.9 375.3h0M374.4 368.5h0M385.2 375.1h0M387.1 372.4h0M380.2 363.2h0M385.2 375.3h0M377.3 358.8h0M387.1 375.9h0M381.8 365.0h0M391.6 370.7h0M381.7 352.4h0M391.1 366.4h0M375.5 365.9h0M395.4 378.1h0M371.6 362.7h0M391.7 370.6h0M366.4 370.9h0M372.5 365.6h0M392.5 372.9h0M392.1 378.1h0M373.1 370.4h0M373.0 360.7h0M385.0 370.0h0M388.6 369.5h0M393.6 377.4h0M386.0 371.1h0M380.2 361.5h0M386.9 359.8h0M377.5 372.8h0M383.3 362.2h0M396.8 373.0h0M381.5 355.2h0M388.1 363.9h0M394.6 376.6h0M387.2 376.9h0M364.9 368.8h0M361.6 354.8h0M395.0 378.0h0M369.3 355.4h0M385.8 346.3h0M382.7 366.1h0M383.5 370.1h0M392.4 376.2h0M361.4 362.6h0M380.1 371.7h0M371.1 373.6h0M382.2 355.2h0M384.0 376.9h0M389.8 367.4h0M367.2 349.5h0M393.1 372.4h0M377.3 367.8h0M384.8 375.0h0M372.4 372.2h0M354.3 366.7h0M396.9 378.8h0M369.7 371.8h0M393.6 377.6h0M395.8 370.6h0M388.3 353.1h0M366.9 367.4h0M377.9 376.0h0M397.1 374.8h0M381.8 369.8h0M392.8 378.2h0M374.7 374.0h0M383.2 363.4h0M371.4 371.4h0M390.3 376.3h0M366.7 366.7h0M380.6 369.6h0M392.9 378.3h0M386.0 373.8h0M379.4 373.0h0M395.5 372.4h0M392.8 377.6h0M393.2 377.6h0M395.3 369.3h0M384.9 372.3h0M395.8 373.0h0M389.9 373.0h0M394.0 377.4h0M387.5 377.3h0M383.7 364.6h0M391.0 377.5h0M390.0 372.8h0M386.5 375.6h0M383.7 376.5h0M374.0 370.9h0M386.9 368.1h0M367.3 362.6h0M385.9 370.0h0M381.0 374.5h0M395.6 377.0h0M394.8 369.1h0M395.2 375.2h0M363.0 357.4h0M395.4 373.3h0M380.4 368.6h0M382.3 373.9h0M349.9 367.4h0M388.1 377.3h0M382.4 357.7h0M392.6 377.8h0M384.5 374.7h0M395.1 377.7h0M355.8 365.5h0M385.1 368.6h0M390.3 376.6h0M384.2 370.7h0M397.4 377.5h0M379.2 374.4h0M368.4 372.5h0M391.9 368.8h0M373.7 362.2h0M374.9 369.0h0M369.3 365.3h0M387.3 364.8h0M381.1 369.9h0M392.0 377.1h0M371.6 356.6h0M383.9 372.9h0M383.8 373.7h0M394.0 366.5h0M388.8 375.8h0M373.4 357.7h0M390.1 377.6h0M357.0 360.7h0M387.0 372.0h0M388.2 357.4h0M394.0 374.2h0M386.1 365.8h0M394.5 377.0h0M380.4 356.5h0M393.1 376.1h0M394.9 373.9h0M378.2 374.0h0M384.6 371.1h0M386.1 375.8h0M381.3 369.3h0M364.4 351.3h0M388.6 375.7h0M392.6 376.7h0M357.8 369.0h0M385.9 370.0h0M372.4 360.8h0M389.3 365.2h0M384.7 354.8h0M388.9 376.1h0M393.1 364.3h0M382.6 368.9h0M387.6 362.1h0M391.0 373.0h0M374.7 369.5h0M395.4 376.3h0M386.6 371.0h0M393.5 370.8h0M391.8 367.5h0M379.9 359.4h0M378.6 363.1h0M383.0 362.2h0M384.1 368.3h0M387.1 372.0h0M376.0 369.4h0M380.2 375.1h0M363.9 353.2h0M376.2 375.5h0M369.9 372.2h0M394.9 375.2h0M392.6 366.9h0M374.4 363.8h0M364.3 354.8h0M380.0 370.0h0M379.8 355.7h0M390.9 363.0h0M356.9 355.7h0M395.7 376.6h0M377.8 344.5h0M392.2 375.0h0M387.7 350.1h0M372.5 366.0h0M375.7 362.1h0M393.6 373.5h0M372.0 371.6h0M359.7 371.9h0M384.8 370.6h0M392.8 368.0h0M365.6 368.3h0M374.9 375.3h0M373.1 362.0h0M381.1 367.4h0M351.0 368.0h0M394.3 377.1h0M374.4 357.7h0M394.4 372.9h0M393.4 378.4h0M366.4 367.6h0M383.1 368.0h0M382.2 365.1h0M391.8 377.4h0M393.3 377.3h0M384.0 366.7h0M397.4 376.5h0M394.0 377.7h0M394.3 372.7h0M384.3 374.5h0M380.5 355.7h0M356.3 355.2h0M388.6 359.9h0M393.4 370.3h0M360.7 372.2h0M390.3 376.7h0M370.7 372.0h0M389.1 367.6h0M396.3 372.2h0M390.1 377.4h0M382.6 364.6h0M396.6 374.0h0M384.7 356.8h0M389.9 373.8h0M393.4 368.9h0M386.5 372.7h0M374.8 375.1h0M385.4 374.3h0M378.7 375.8h0M393.2 371.2h0M395.5 376.6h0M390.3 359.0h0M396.1 373.9h0M366.0 364.1h0M375.5 359.1h0M395.0 375.1h0M385.2 364.2h0M379.2 353.8h0M383.7 361.0h0M386.4 354.1h0M385.2 372.8h0M387.0 365.8h0M392.8 371.3h0M389.5 373.1h0M393.9 370.6h0M376.4 361.3h0M383.3 374.7h0M389.4 373.3h0M354.2 367.8h0M387.0 359.7h0M392.6 373.6h0M387.3 369.8h0M367.1 364.2h0M394.5 376.3h0M367.2 350.2h0M390.6 367.4h0M354.6 360.2h0M373.5 374.0h0M387.0 373.9h0M373.3 372.8h0M383.6 355.2h0M371.9 355.7h0M385.2 371.0h0M397.4 378.8h0M390.9 369.3h0M390.1 358.0h0M380.1 374.5h0M357.6 360.7h0M382.0 358.9h0M390.9 369.3h0M392.8 365.3h0M375.5 354.2h0M396.3 377.2h0M394.5 376.9h0M391.5 372.5h0M391.3 371.8h0M387.8 367.7h0M393.4 377.8h0M395.4 374.7h0M393.3 370.7h0M361.3 360.4h0M390.2 373.1h0M359.5 354.5h0M375.2 370.0h0M370.4 359.4h0M361.6 372.3h0M387.2 351.8h0M373.7 373.2h0M355.2 366.7h0M380.9 360.1h0M376.2 347.0h0M375.1 375.2h0M387.6 362.7h0M390.5 371.5h0M376.6 374.0h0M387.9 373.4h0M377.5 352.3h0M356.9 363.3h0M391.8 372.9h0M391.4 377.7h0M379.8 369.1h0M396.4 371.9h0M374.2 342.6h0M370.5 358.4h0M396.6 378.3h0M358.5 368.3h0M395.8 375.3h0M395.9 378.5h0M374.2 353.8h0M387.7 370.1h0M387.0 351.0h0M367.5 369.3h0M355.1 358.1h0M379.3 368.9h0M371.5 373.5h0M390.2 376.6h0M390.9 371.3h0M372.2 359.2h0M388.2 373.3h0M379.3 375.5h0M348.0 365.0h0M396.9 378.4h0M379.0 371.0h0M388.3 377.5h0M379.8 337.5h0M385.1 372.9h0M388.5 356.8h0M389.7 369.1h0M392.9 373.7h0M375.8 365.4h0M388.1 351.8h0M384.2 373.7h0M367.2 358.1h0M387.3 372.4h0M371.1 353.4h0M376.7 363.0h0M358.1 368.4h0M370.8 349.9h0M384.1 349.0h0M370.6 354.3h0M358.8 352.4h0M369.4 350.5h0M377.4 364.9h0M375.7 352.7h0M387.1 362.4h0M384.5 372.2h0M396.6 378.4h0M376.5 375.1h0M374.4 369.6h0M368.0 372.6h0M378.4 376.0h0M388.4 369.3h0M388.0 355.6h0M362.8 363.8h0M376.0 367.2h0M370.4 350.3h0M381.8 366.3h0M382.8 354.9h0M386.6 348.6h0M396.3 375.5h0M395.2 371.7h0M391.7 361.2h0M367.9 373.3h0M380.9 352.3h0M378.1 358.8h0M387.6 353.1h0M377.0 371.8h0M389.3 372.6h0M358.5 357.6h0M396.4 377.8h0M385.3 354.8h0M358.3 366.6h0M368.5 373.1h0M397.4 378.9h0M384.2 375.6h0M383.1 370.7h0M389.3 376.8h0M376.8 366.6h0M382.3 361.8h0M394.3 374.4h0M370.1 367.3h0M383.6 373.7h0M396.4 375.9h0M389.0 369.9h0M365.6 371.0h0M381.1 368.0h0M359.8 358.0h0M392.4 368.5h0M378.8 362.8h0M386.0 349.2h0M356.4 368.5h0M381.5 357.3h0M371.3 367.6h0M388.1 364.0h0M396.9 374.4h0M383.6 341.9h0M376.5 358.1h0M388.8 376.2h0M390.3 358.4h0M380.9 367.2h0M383.5 374.2h0M391.7 367.1h0M394.9 370.5h0M366.2 360.9h0M383.4 362.4h0M387.7 375.8h0M384.7 346.3h0M365.4 371.8h0M374.2 365.8h0M371.8 362.5h0M390.9 373.6h0M383.9 365.4h0M370.0 367.2h0M385.2 370.0h0M380.5 366.6h0M393.1 372.8h0M384.9 368.2h0M397.0 378.8h0M365.8 373.4h0M389.4 357.9h0M384.1 358.6h0M391.4 375.8h0M378.2 352.3h0M381.5 357.1h0M378.7 375.9h0M394.0 372.3h0M391.2 359.3h0M396.8 376.2h0M392.7 364.3h0M387.7 351.3h0M395.4 378.5h0M389.0 358.5h0M379.0 368.1h0M384.3 360.5h0M394.1 375.6h0M391.3 371.1h0M393.9 377.7h0M390.0 370.7h0M382.4 371.3h0M384.2 361.1h0M349.2 362.2h0M395.8 373.3h0M370.2 370.3h0M396.8 374.0h0M370.8 366.7h0M395.1 372.0h0M378.1 354.2h0M388.1 377.5h0M383.9 359.0h0M382.9 369.7h0M383.6 349.9h0M380.2 375.8h0M396.3 376.5h0M377.1 336.6h0M374.0 348.9h0M392.7 365.7h0M383.8 347.3h0M376.7 352.2h0M395.5 372.5h0M388.0 371.8h0M388.0 376.9h0M369.2 362.2h0M392.0 372.3h0M368.6 354.4h0M383.8 376.3h0M370.7 352.5h0M383.5 355.1h0M375.9 359.0h0M377.8 370.4h0M394.7 372.3h0M394.0 374.0h0M390.5 375.7h0M374.1 357.7h0M383.5 353.7h0M367.5 367.5h0M372.1 373.7h0M388.7 377.1h0M370.2 369.2h0M374.9 362.3h0M394.1 370.2h0M394.3 374.8h0M366.6 369.5h0M394.2 377.3h0M384.7 372.3h0M380.6 375.9h0M395.5 377.6h0M379.4 375.3h0M395.2 376.7h0M391.8 374.4h0M387.3 361.7h0M356.2 369.1h0M383.5 376.5h0M373.8 363.6h0M343.4 365.2h0M396.8 377.9h0M372.1 350.1h0M370.4 363.2h0M388.3 375.4h0M360.3 355.5h0M395.2 373.1h0M393.1 370.3h0M358.8 367.7h0M396.8 374.2h0M396.6 378.5h0M390.4 376.6h0M389.6 364.4h0M390.0 377.3h0M362.7 349.9h0M381.6 364.3h0M395.0 375.6h0M375.1 360.9h0M395.6 370.6h0M390.7 373.9h0M381.0 371.7h0M397.3 378.2h0M370.6 367.4h0M383.2 372.0h0M387.1 372.3h0M390.7 360.8h0M396.8 376.5h0M381.2 358.7h0M387.2 360.4h0M375.9 363.8h0M383.8 372.5h0M371.4 362.0h0M395.1 369.0h0M393.1 372.2h0M391.3 372.3h0M385.7 371.1h0M361.8 365.2h0M386.2 369.4h0M395.4 376.3h0M396.7 375.5h0M393.8 373.6h0M385.9 368.7h0M380.7 374.4h0M389.5 371.3h0M374.0 368.0h0M387.6 359.4h0M396.3 378.6h0M397.2 376.7h0M385.8 366.4h0M387.5 376.9h0M392.9 365.8h0M375.7 371.7h0M372.4 360.9h0M351.0 366.9h0M382.5 373.9h0M373.8 365.9h0M380.8 348.4h0M369.7 367.8h0M386.3 356.8h0M383.8 371.7h0M384.6 376.7h0M381.5 365.8h0M380.7 375.2h0M392.3 376.3h0M394.1 370.2h0M391.8 378.0h0M395.2 371.8h0M357.2 369.8h0M387.9 375.5h0M383.0 375.2h0M391.2 374.3h0M392.6 376.0h0M386.2 372.7h0M377.4 357.3h0M352.6 370.2h0M383.4 360.3h0M393.9 370.4h0M383.4 363.7h0M377.1 362.4h0M379.2 370.4h0M343.4 363.2h0M389.5 370.0h0M391.7 368.8h0M387.0 366.0h0M377.4 368.2h0M387.2 373.8h0M380.8 351.8h0M390.7 362.6h0M383.7 367.8h0M390.2 362.2h0M389.5 369.9h0M394.4 371.6h0M380.6 357.0h0M381.4 375.4h0M396.0 373.6h0M377.9 351.5h0M391.3 368.3h0M396.1 374.3h0M396.9 375.6h0M380.3 346.6h0M368.2 372.7h0M391.8 369.7h0M395.9 378.7h0M391.4 377.0h0M374.1 367.1h0M384.2 355.3h0M391.1 367.5h0M396.6 372.2h0M394.3 376.7h0M356.4 369.0h0M373.6 373.6h0M389.8 375.9h0M361.0 368.8h0M386.9 365.7h0M392.6 375.6h0M383.3 368.0h0M391.4 370.2h0M384.0 367.8h0M367.1 356.8h0M360.7 371.9h0M356.6 368.1h0M387.1 365.1h0M358.3 357.0h0M388.6 357.0h0M355.8 370.0h0M388.9 370.7h0M389.1 359.0h0M370.4 356.5h0M381.6 348.4h0M370.1 359.3h0M366.5 372.9h0M382.1 361.7h0M395.8 377.4h0M367.4 370.7h0M389.5 374.7h0M362.8 364.1h0M374.2 367.0h0M378.9 346.5h0M365.8 361.0h0M377.8 371.4h0M381.7 343.9h0M362.6 372.0h0M367.8 368.5h0M363.7 365.2h0M392.3 372.0h0M381.7 373.5h0M387.0 370.1h0M376.0 359.4h0M386.2 374.7h0M395.1 371.4h0M371.1 373.8h0M369.5 356.1h0M383.9 366.8h0M369.2 374.1h0M365.7 367.6h0M381.7 375.1h0M381.6 367.6h0M352.9 358.1h0M370.3 366.9h0M384.9 375.8h0M396.2 377.7h0M382.6 371.1h0M394.9 378.4h0M364.9 371.5h0M395.5 370.5h0M385.2 351.7h0M381.2 368.1h0M396.8 376.6h0M387.6 370.2h0M354.2 368.0h0M363.6 355.8h0M390.2 376.8h0M374.2 374.8h0M386.9 370.6h0M391.1 371.4h0M394.8 376.5h0M382.1 346.5h0M371.1 371.1h0M396.3 376.1h0M393.7 369.3h0M369.0 374.0h0M387.8 364.8h0M397.4 377.9h0M380.9 368.0h0M396.6 374.6h0M368.2 373.9h0M392.7 375.2h0M395.9 377.5h0M368.6 363.8h0M396.9 375.1h0M389.3 377.6h0M374.2 367.4h0M372.8 367.7h0M389.3 374.6h0M385.6 366.1h0M393.6 377.3h0M394.9 374.8h0M396.6 374.1h0M375.0 362.5h0M391.6 377.2h0M397.2 375.7h0M386.0 353.4h0M378.7 374.6h0M364.2 369.9h0M369.1 354.5h0M374.4 371.6h0M393.5 377.7h0M389.5 372.4h0M382.8 372.6h0M381.3 371.6h0M390.4 366.3h0M390.5 371.4h0M388.9 363.7h0M396.2 377.9h0M379.2 365.6h0M365.5 366.8h0M387.8 369.0h0M360.5 358.0h0M380.4 367.3h0M380.7 355.3h0M397.4 378.5h0M395.4 378.6h0M391.8 367.6h0M380.5 365.6h0M394.9 375.8h0M384.0 370.6h0M393.2 377.1h0M369.0 374.1h0M387.0 374.7h0M390.8 376.0h0M390.1 359.6h0M364.3 365.8h0M379.0 366.7h0M382.5 367.4h0M382.4 376.5h0M396.0 371.7h0M385.4 372.4h0M387.4 367.0h0M368.1 367.0h0M381.7 374.3h0M391.1 375.5h0M385.5 364.9h0M391.6 371.4h0M382.3 364.1h0M386.0 365.4h0M384.9 358.6h0M375.6 367.8h0M396.3 378.5h0M380.1 343.7h0M380.8 371.4h0M391.8 373.8h0M370.7 373.9h0M377.6 360.1h0M389.2 373.7h0M386.4 376.9h0M391.3 376.8h0M388.0 356.0h0M364.5 365.8h0M370.0 352.1h0M388.9 370.7h0M369.6 365.9h0M389.4 358.7h0M374.7 375.4h0M389.6 376.4h0M387.8 377.3h0M367.1 355.4h0M364.8 370.8h0M388.9 371.3h0M368.4 364.4h0M386.9 362.9h0M395.5 378.2h0M396.0 372.5h0M368.4 357.6h0M397.0 374.0h0M370.2 352.4h0M397.2 378.0h0M373.2 374.8h0M385.3 373.4h0M376.2 367.0h0M392.1 373.9h0M377.7 357.1h0M370.2 372.5h0M369.1 357.2h0M397.2 377.7h0M380.0 349.0h0M383.5 376.7h0M386.5 365.6h0M396.7 373.2h0M370.6 371.4h0M373.9 370.7h0M391.9 368.7h0M392.5 369.7h0M353.1 367.3h0M389.5 364.8h0M383.6 367.2h0M390.9 370.2h0M372.9 375.0h0M395.8 370.6h0M385.0 376.8h0M393.1 368.8h0M364.8 363.9h0M373.4 356.1h0M373.4 363.8h0M378.6 343.3h0M390.6 377.7h0M385.8 356.4h0M393.2 367.9h0M392.4 363.1h0M394.7 370.4h0M385.5 361.2h0M375.9 375.3h0M384.1 363.5h0M391.7 375.9h0M334.6 356.5h0M393.9 377.1h0M358.9 369.8h0M378.6 375.1h0M371.6 347.6h0M355.9 363.7h0M363.4 367.9h0M373.8 364.2h0M355.8 366.2h0M353.7 358.9h0M387.7 374.2h0M395.2 369.1h0M397.2 378.4h0M389.7 374.1h0M370.5 338.7h0M384.9 368.8h0M395.7 376.3h0M387.5 366.8h0M387.9 351.6h0M386.2 367.1h0M364.5 353.0h0M369.7 349.9h0M387.6 368.7h0M387.3 376.9h0M389.3 371.3h0M389.8 375.2h0M383.0 376.6h0M395.7 370.8h0M397.5 377.7h0M390.5 374.7h0M391.9 363.5h0M385.0 365.5h0M373.7 351.3h0M369.4 371.4h0M389.1 371.6h0M379.1 375.7h0M387.7 373.7h0M390.5 375.8h0M395.9 370.7h0M378.6 361.9h0M396.1 377.9h0M369.5 362.8h0M360.1 351.4h0M397.2 376.1h0M395.3 378.6h0M382.2 375.2h0M397.4 377.1h0M396.3 372.5h0M381.2 376.0h0M396.9 373.4h0M375.3 352.4h0M375.5 365.7h0M379.2 364.8h0M396.7 375.3h0M390.5 371.1h0M383.4 370.9h0M394.8 378.5h0M382.3 367.4h0M375.2 358.5h0M392.6 372.5h0M397.1 378.8h0M380.6 375.5h0M381.2 376.4h0M370.5 365.1h0M386.3 358.8h0M371.8 359.1h0M372.3 364.2h0M381.2 367.0h0M391.1 370.7h0M393.8 370.7h0M394.8 378.4h0M386.7 357.5h0M394.5 369.1h0M388.4 360.1h0M393.6 376.6h0M375.8 360.5h0M389.6 377.8h0M386.8 372.5h0M386.0 367.8h0M380.2 371.2h0M392.5 369.3h0M360.2 367.3h0M369.3 370.8h0M371.1 370.3h0M377.3 359.3h0M369.4 365.8h0M389.7 372.2h0M372.0 365.1h0M372.5 367.8h0M376.9 374.0h0M389.5 368.1h0M395.6 370.7h0M387.0 360.6h0M376.8 372.4h0M374.3 362.6h0M390.5 371.8h0M378.7 369.9h0M378.3 362.0h0M374.6 367.1h0M381.2 351.7h0M385.0 376.2h0M341.3 346.7h0M395.1 372.6h0M393.0 375.9h0M382.5 362.3h0M397.1 376.4h0M375.0 351.3h0M393.5 366.2h0M394.1 373.7h0M394.4 371.0h0M394.7 372.3h0M388.6 364.8h0M386.8 371.4h0M393.9 374.9h0M392.0 368.8h0M394.4 377.1h0M395.7 378.6h0M392.9 372.1h0M374.8 347.3h0M390.1 376.5h0M394.9 372.9h0M397.2 376.9h0M367.0 351.2h0M390.7 360.7h0M386.8 376.7h0M392.1 376.8h0M388.9 368.0h0M378.2 365.0h0M396.7 372.4h0M383.8 368.1h0M386.7 372.7h0M387.5 377.3h0M387.3 373.2h0M388.0 364.2h0M396.8 378.7h0M374.6 346.4h0M393.6 376.7h0M340.9 357.5h0M396.6 378.6h0M386.2 361.5h0M370.7 373.6h0M390.7 375.6h0M391.2 376.1h0M380.2 374.8h0M388.7 376.5h0M394.3 374.2h0M392.2 377.2h0M371.4 359.1h0M354.8 370.1h0M392.0 377.5h0M390.1 373.7h0M396.3 371.4h0M354.6 356.9h0M392.5 376.6h0M367.4 356.8h0M385.9 363.6h0M395.8 373.6h0M372.6 354.4h0M383.3 356.2h0M384.4 355.5h0M396.3 375.5h0M395.8 374.5h0M394.7 377.5h0M384.9 373.2h0M382.8 349.6h0M349.7 365.9h0M360.3 369.0h0M394.7 378.2h0M397.5 376.8h0M376.1 368.5h0M388.6 373.2h0M390.8 374.8h0M388.8 373.9h0M382.6 368.7h0M373.6 367.9h0M391.4 374.2h0M389.9 377.3h0M375.6 368.7h0M374.2 367.2h0M378.5 375.0h0M389.5 369.8h0M359.2 371.2h0M371.1 374.3h0M375.2 371.9h0M372.1 362.5h0M378.9 375.4h0M390.7 374.4h0M376.4 349.3h0M397.5 377.0h0M379.1 375.1h0M381.6 373.5h0M383.9 366.7h0M383.1 361.6h0M392.1 362.2h0M391.2 369.4h0M392.7 372.2h0M367.9 370.2h0M397.2 373.5h0M393.9 377.3h0M359.1 371.1h0M379.9 376.1h0M396.7 374.4h0M386.5 370.0h0M377.6 373.0h0M384.1 374.3h0M372.6 361.5h0M383.3 375.1h0M378.4 374.4h0M389.8 368.6h0M388.3 377.7h0M368.4 364.3h0M386.0 365.5h0M396.6 377.8h0M376.5 360.5h0M380.3 358.8h0M373.9 368.8h0M374.5 355.8h0M386.7 373.0h0M385.4 367.4h0M392.3 377.0h0M388.9 372.7h0M392.2 378.2h0M396.4 372.3h0M397.4 377.8h0M395.7 373.9h0M380.3 357.7h0M382.7 355.8h0M395.0 371.8h0M392.6 370.1h0M384.6 355.7h0M395.0 376.2h0M390.9 374.2h0M378.6 373.3h0M373.7 367.6h0M381.5 370.6h0M378.6 368.4h0M377.5 370.0h0M369.9 367.4h0M397.0 377.1h0M395.0 374.3h0M394.3 375.2h0M395.8 374.2h0M394.6 374.5h0M361.4 365.0h0M393.1 370.8h0M340.2 365.0h0M384.1 370.3h0M388.7 360.8h0M386.3 377.2h0M394.1 372.2h0M397.0 372.7h0M392.2 375.6h0M390.4 371.5h0M388.8 359.5h0M388.9 377.5h0M394.0 376.3h0M369.7 358.9h0M387.8 374.9h0M396.4 373.6h0M375.4 368.6h0M356.3 367.9h0M380.8 367.7h0M388.4 367.0h0M367.4 367.6h0M392.4 375.4h0M393.6 371.6h0M385.2 370.3h0M383.5 352.2h0M389.3 357.2h0M388.4 367.3h0M375.5 362.1h0M394.1 373.5h0M376.1 372.2h0M384.7 376.0h0M391.1 377.6h0M385.0 359.4h0M395.9 373.7h0M392.6 370.1h0M390.5 370.5h0M382.0 345.1h0M393.5 372.1h0M382.7 357.2h0M384.0 372.1h0M394.2 370.8h0M397.0 376.2h0M370.8 364.4h0M378.6 369.2h0M389.6 375.3h0M360.7 371.5h0M393.1 366.2h0M393.1 375.6h0M390.4 373.0h0M394.3 376.4h0M368.6 352.0h0M359.0 371.2h0M384.6 366.9h0M387.8 373.8h0M388.4 357.6h0M388.9 366.0h0M368.0 366.3h0M372.7 373.8h0M388.1 354.8h0M361.0 371.1h0M350.9 369.7h0M359.5 363.8h0M388.4 358.3h0M385.5 376.9h0M378.8 363.5h0M358.1 364.9h0M383.4 376.1h0M372.8 369.2h0M394.1 371.5h0M374.1 365.5h0M376.2 375.0h0M385.9 374.8h0M393.7 377.6h0M396.0 371.4h0M396.1 377.2h0M347.7 361.8h0M393.3 371.0h0M388.9 372.7h0M374.9 364.0h0M380.0 355.3h0M360.1 361.4h0M373.9 366.1h0M373.5 369.3h0M383.6 370.1h0M365.5 362.6h0M395.3 371.3h0M392.3 377.4h0M384.2 376.7h0M391.1 374.9h0M371.3 371.1h0M394.9 371.6h0M384.8 371.0h0M374.2 360.9h0M389.8 358.7h0M396.2 373.7h0M393.0 365.9h0M381.5 373.2h0M354.4 341.9h0M389.2 357.0h0M358.4 362.2h0M382.6 368.5h0M386.0 372.6h0M391.3 361.1h0M378.2 345.5h0M393.0 376.6h0M392.3 377.8h0M377.5 361.6h0M374.5 373.8h0M379.0 366.8h0M371.6 348.6h0M378.2 370.0h0M391.7 377.5h0M388.0 356.6h0M374.3 371.8h0M373.5 357.9h0M375.4 374.3h0M357.9 355.8h0M385.6 366.6h0M395.3 374.9h0M396.5 372.0h0M377.8 374.8h0M370.2 373.7h0M392.3 370.0h0M384.8 352.8h0M395.3 375.4h0M396.4 377.9h0M395.2 375.0h0M369.9 358.8h0M352.4 370.0h0M393.7 376.3h0M366.9 357.1h0M394.6 374.7h0M360.9 354.3h0M364.8 359.6h0M390.1 364.4h0M389.9 374.2h0M391.0 361.8h0M379.6 370.3h0M379.2 372.9h0M389.4 357.5h0M370.1 373.9h0M378.0 364.0h0M370.9 366.7h0M388.1 358.3h0M397.1 376.8h0M394.5 370.7h0M393.6 374.6h0M391.6 369.2h0M364.8 360.3h0M376.4 373.5h0M384.6 372.1h0M396.1 371.8h0M394.7 370.7h0M389.2 358.9h0M371.5 360.7h0M371.2 374.0h0M396.4 375.2h0M382.8 376.3h0M365.8 370.8h0M388.3 375.5h0M383.6 374.6h0M396.8 375.1h0M370.2 373.6h0M351.4 368.8h0M392.9 371.9h0M375.5 369.7h0M364.5 366.3h0M391.0 373.2h0M386.2 359.2h0M384.1 373.9h0M387.4 353.5h0M384.4 367.4h0M389.1 376.5h0M378.0 374.5h0M388.0 359.3h0M363.2 367.2h0M378.7 365.9h0M375.2 351.7h0M371.6 358.5h0M380.5 376.4h0M385.8 352.7h0M352.2 355.5h0M359.0 369.0h0M369.5 368.2h0M390.7 362.8h0M393.5 376.9h0M391.0 369.8h0M363.7 370.9h0M363.6 367.0h0M393.7 371.8h0M387.4 374.8h0M394.5 375.6h0M356.8 356.1h0M387.0 366.4h0M372.4 371.1h0M389.3 375.3h0M396.6 373.2h0M365.0 371.9h0M379.7 362.1h0M364.3 372.9h0M395.9 376.7h0M364.0 366.7h0M373.5 369.8h0M389.7 376.5h0M390.7 367.2h0M389.2 375.2h0M377.1 372.0h0M372.9 375.0h0M391.9 372.2h0M389.1 353.7h0M388.9 365.5h0M372.3 366.6h0M396.7 375.1h0M395.0 378.4h0M391.0 367.9h0M382.0 356.1h0M373.5 373.0h0M379.9 374.1h0M393.1 373.0h0M394.8 369.2h0M390.0 376.5h0M397.1 374.2h0M375.1 352.2h0M384.1 358.4h0M372.9 370.6h0M394.3 377.5h0M393.5 370.7h0M372.3 361.6h0M396.4 377.8h0M376.2 371.2h0M382.8 360.4h0M371.5 369.7h0M387.7 372.1h0M374.7 362.9h0M381.6 353.0h0M390.1 377.1h0M381.4 376.2h0M395.7 374.3h0M394.0 368.4h0M389.1 356.3h0M389.9 368.6h0M359.8 357.9h0M360.0 370.1h0M382.0 374.0h0M358.7 370.5h0M395.6 376.5h0M376.8 375.8h0M371.9 369.9h0M391.4 378.1h0M395.5 378.2h0M365.9 365.9h0M391.4 377.3h0M394.2 372.6h0M395.1 373.8h0M371.0 359.9h0M348.1 364.7h0M382.3 364.3h0M383.3 373.5h0M383.1 354.5h0M395.2 375.2h0M390.6 370.6h0M395.9 376.3h0M381.4 375.4h0M394.5 372.2h0M379.9 346.3h0M379.8 356.3h0M396.2 378.4h0M371.3 371.1h0M386.4 363.1h0M383.8 345.5h0M392.7 371.6h0M395.6 378.3h0M351.0 363.7h0M381.5 372.9h0M392.9 364.8h0M395.3 377.9h0M392.4 376.1h0M387.6 354.7h0M385.0 359.6h0M390.8 375.0h0M365.4 370.1h0M390.6 359.4h0M387.3 371.1h0M373.4 349.0h0M390.4 371.9h0M377.0 375.0h0M387.2 373.2h0M392.0 366.7h0M364.2 369.0h0M344.1 367.3h0M366.9 356.0h0M375.3 357.7h0M390.6 361.1h0M396.3 376.1h0M376.0 372.3h0M383.6 372.2h0M397.0 378.2h0M381.0 374.9h0M390.3 375.6h0M391.3 371.9h0M385.2 370.0h0M386.1 371.9h0M370.3 361.2h0M386.2 366.3h0M389.4 363.5h0M378.4 356.8h0M373.7 359.7h0M393.7 369.2h0M366.9 356.8h0M380.1 371.6h0M370.5 353.9h0M393.9 377.6h0M385.6 373.3h0M372.3 373.3h0M376.2 367.2h0M380.5 366.8h0M388.0 371.2h0M395.8 373.0h0M397.2 375.8h0M352.8 343.0h0M351.6 354.0h0M397.2 376.3h0M383.4 375.1h0M394.4 377.2h0M381.6 371.5h0M391.6 376.0h0M393.2 370.2h0M380.1 373.7h0M378.0 354.8h0M386.8 372.2h0M389.5 367.3h0M379.7 368.9h0M389.2 377.6h0M393.7 378.2h0M372.4 371.4h0M348.9 368.9h0M374.2 358.4h0M378.0 374.0h0M383.4 355.1h0M387.8 354.7h0M369.2 348.7h0M393.6 370.2h0M390.2 367.1h0M392.9 367.6h0M392.6 365.9h0M380.2 361.6h0M396.5 376.4h0M393.2 364.6h0M394.8 370.2h0M392.9 369.1h0M345.1 355.7h0M382.1 371.8h0M397.3 373.5h0M383.7 359.8h0M396.7 378.6h0M387.8 373.6h0M379.5 362.7h0M381.6 339.6h0M369.3 366.0h0M394.5 375.3h0M391.7 362.2h0M374.8 367.3h0M387.3 376.9h0M394.0 376.3h0M378.9 373.4h0M376.2 359.1h0M382.1 370.7h0M383.7 372.8h0M391.5 363.6h0M381.9 375.6h0M387.8 376.9h0M372.0 366.0h0M393.2 371.7h0M390.7 374.2h0M391.7 371.2h0M382.2 372.8h0M377.7 346.9h0M385.1 375.5h0M394.4 372.9h0M363.3 349.4h0M378.7 348.5h0M375.4 356.5h0M381.1 374.3h0M387.0 373.0h0M388.9 370.7h0M390.2 361.0h0M382.7 374.8h0M391.2 376.2h0M382.3 363.5h0M397.2 378.7h0M396.8 374.9h0M363.7 363.8h0M383.3 354.9h0M389.6 355.3h0M387.8 374.4h0M384.6 375.9h0M386.9 370.3h0M392.8 365.7h0M363.0 367.7h0M383.9 372.4h0M388.1 367.3h0M395.4 378.2h0M388.6 370.7h0M371.1 371.5h0M377.8 364.0h0M381.2 348.6h0M375.9 370.3h0M388.5 356.4h0M388.6 375.8h0M395.2 375.4h0M375.7 361.7h0M382.3 376.0h0M394.6 376.4h0M389.0 376.7h0M385.1 370.2h0M384.3 371.1h0M386.5 370.5h0M387.9 363.1h0M395.9 375.8h0M383.2 364.1h0M386.8 376.3h0M382.1 366.6h0M365.7 369.6h0M396.2 378.4h0M362.4 355.6h0M397.1 374.0h0M383.6 352.5h0M385.4 375.0h0M376.5 373.3h0M395.1 375.5h0M388.9 373.4h0M391.1 365.7h0M395.0 377.2h0M370.8 354.2h0M379.9 360.5h0M373.0 374.1h0M386.6 375.7h0M386.4 362.1h0M395.8 377.4h0M384.2 365.9h0M360.1 371.0h0M363.4 371.9h0M369.0 358.2h0M338.3 362.3h0M367.5 373.1h0M396.2 377.7h0M351.7 360.8h0M366.5 372.7h0M393.2 373.3h0M378.7 374.8h0M392.7 372.2h0M386.7 373.8h0M395.8 374.6h0M397.4 376.3h0M348.5 365.8h0M377.5 370.5h0M369.3 362.7h0M351.7 365.3h0M378.5 365.8h0M380.2 374.1h0M397.4 377.4h0M383.3 344.6h0M390.1 361.0h0M362.1 369.8h0M384.0 362.7h0M397.2 375.3h0M388.6 362.0h0M395.4 372.7h0M395.6 376.6h0M385.4 374.7h0M381.6 360.4h0M395.3 375.2h0M376.3 371.1h0M396.4 372.4h0M375.9 348.6h0M391.1 361.9h0M383.5 354.6h0M383.7 359.8h0M372.0 345.4h0M383.3 373.9h0M360.4 368.9h0M381.4 364.4h0M361.3 355.6h0M389.3 360.4h0M393.8 377.7h0M397.4 376.7h0M393.3 370.7h0M378.9 364.5h0M388.0 375.2h0M366.1 369.2h0M378.1 369.3h0M380.8 373.4h0M386.0 370.7h0M394.4 373.7h0M390.2 367.4h0M388.9 370.8h0M384.5 360.8h0M363.5 365.1h0M382.6 371.8h0M386.4 361.7h0M385.5 377.1h0M396.0 372.1h0M389.6 364.8h0M372.6 373.3h0M393.6 374.1h0M391.0 359.0h0M374.4 352.4h0M376.7 374.3h0M394.5 371.8h0M379.1 374.6h0M374.7 373.9h0M384.0 361.3h0M386.8 352.4h0M394.6 374.3h0M385.6 377.2h0M383.8 367.4h0M356.5 364.8h0M381.9 366.3h0M383.4 375.2h0M370.5 372.8h0M352.2 366.6h0M382.5 358.5h0M391.0 359.5h0M392.6 366.7h0M388.1 368.4h0M387.1 367.1h0M390.2 377.8h0M367.9 365.3h0M394.5 374.8h0M395.7 377.5h0M392.8 377.2h0M359.1 359.5h0M382.7 370.1h0M381.2 363.0h0M397.4 376.7h0M362.5 369.4h0M380.7 365.5h0M397.1 375.7h0M386.7 375.9h0M386.3 376.9h0M373.6 363.2h0M386.3 359.8h0M380.0 368.6h0M382.0 373.8h0M396.8 374.3h0M390.9 377.3h0M387.5 364.3h0M385.9 362.2h0M378.5 366.2h0M385.9 360.7h0M359.1 368.0h0M393.6 370.0h0M397.5 378.9h0M374.5 374.8h0M380.4 349.6h0M390.1 373.8h0M369.1 345.0h0M388.2 370.7h0M378.1 360.4h0M367.8 373.0h0M385.2 375.0h0M394.4 374.1h0M360.0 353.6h0M369.3 357.0h0M387.8 374.5h0M376.2 363.5h0M397.1 377.7h0M397.4 376.5h0M379.1 371.0h0M387.8 373.1h0M385.8 367.5h0M391.4 366.2h0M392.3 371.4h0M377.2 354.7h0M387.4 367.1h0M389.2 377.6h0M386.7 367.8h0M386.2 375.5h0M373.3 352.8h0M396.1 377.4h0M387.5 370.4h0M371.0 372.5h0M377.5 373.7h0M384.7 347.3h0M369.6 358.5h0M370.3 351.8h0M376.4 362.0h0M391.2 365.1h0M386.7 366.9h0M384.4 348.3h0M396.7 375.6h0M393.5 366.4h0M388.7 364.4h0M393.3 372.6h0M396.9 376.6h0M390.5 370.3h0M373.3 351.7h0M377.8 374.8h0M381.2 356.1h0M379.5 371.2h0M378.8 348.6h0M386.8 375.8h0M363.6 364.5h0M386.8 372.5h0M392.5 377.4h0M361.7 370.9h0M381.9 376.3h0M378.2 352.0h0M392.6 374.6h0M372.6 357.9h0M389.2 361.8h0M382.4 367.4h0M372.3 372.1h0M384.5 369.4h0M389.1 374.7h0M375.1 358.6h0M388.2 370.9h0M380.3 374.9h0M396.5 376.9h0M396.9 378.2h0M390.7 367.5h0M389.1 374.9h0M385.0 370.3h0M390.0 374.1h0M386.6 373.1h0M383.4 350.7h0M391.7 376.1h0M389.5 373.8h0M387.4 375.6h0M376.3 375.3h0M364.3 372.7h0M388.0 371.4h0M396.8 373.8h0M392.5 378.2h0M379.1 368.5h0M359.7 362.2h0M395.2 370.7h0M380.4 369.4h0M369.4 364.4h0M386.8 369.8h0M396.1 375.9h0M391.6 364.8h0M392.7 374.5h0M383.6 350.6h0M393.3 377.2h0M394.5 377.3h0M344.6 364.6h0M378.2 373.4h0M392.5 375.9h0M383.5 365.8h0M388.1 374.7h0M348.3 355.6h0M386.4 363.8h0M384.2 374.6h0M394.4 370.4h0M393.3 374.8h0M388.5 356.3h0M376.4 361.7h0M369.4 364.3h0M387.3 357.6h0M390.4 376.5h0M376.4 354.1h0M394.1 378.4h0M388.0 372.5h0M392.6 377.7h0M383.8 364.9h0M393.5 366.7h0M392.0 372.0h0M383.6 363.6h0M386.3 367.9h0M377.9 359.4h0M381.9 368.2h0M361.7 367.4h0M377.2 359.7h0M395.1 376.6h0M394.0 377.0h0M395.3 373.8h0M384.4 374.8h0M391.8 370.6h0M392.6 377.3h0M396.4 375.5h0M369.2 360.6h0M383.8 371.0h0M386.4 364.2h0M396.3 371.8h0M363.3 372.9h0M381.7 375.3h0M379.8 363.5h0M396.0 370.7h0M354.7 367.0h0M393.7 376.0h0M379.6 358.3h0M378.6 373.8h0M378.7 360.6h0M384.2 355.6h0M378.8 374.1h0M384.2 363.8h0M365.9 372.8h0M395.1 371.7h0M383.0 373.5h0M391.7 362.6h0M380.6 357.1h0M371.9 363.4h0M388.9 356.8h0M376.3 374.9h0M390.6 359.5h0M386.8 357.2h0M389.8 377.6h0M391.9 370.5h0M392.9 371.5h0M395.7 377.6h0M362.1 369.4h0M394.0 377.1h0M368.7 373.4h0M393.1 373.6h0M394.0 370.2h0M395.3 371.1h0M385.8 375.8h0M388.3 377.4h0M391.6 366.9h0M378.2 346.6h0M387.7 360.5h0M383.0 363.0h0M386.8 353.9h0M380.3 367.9h0M390.5 376.3h0M341.9 361.2h0M388.2 364.4h0M377.6 372.5h0M378.8 375.9h0M389.7 357.1h0M353.1 357.9h0M368.5 373.4h0M377.7 369.7h0M382.5 368.9h0M381.4 350.1h0M381.6 367.7h0M377.9 371.1h0M386.2 374.9h0M389.5 370.3h0M380.4 361.8h0M366.0 348.9h0M367.0 358.6h0M386.7 363.0h0M365.5 373.3h0M374.7 374.8h0M394.6 377.8h0M391.7 366.7h0M392.0 364.1h0M388.7 373.8h0M378.8 362.7h0M380.7 360.7h0M390.7 377.9h0M392.1 365.9h0M383.5 353.4h0M370.6 373.2h0M378.2 355.9h0M362.5 355.6h0M381.1 346.2h0M383.0 369.9h0M393.6 376.5h0M396.5 375.1h0M384.9 375.6h0M385.7 366.7h0M385.9 362.5h0M386.0 374.4h0M387.2 367.7h0M397.2 378.0h0M381.6 376.0h0M373.9 373.7h0M373.2 374.4h0M369.5 360.6h0M392.8 378.0h0M385.5 352.3h0M390.6 373.0h0M388.9 371.6h0M374.7 369.0h0M397.0 377.8h0M373.7 364.1h0M378.0 373.5h0M385.8 360.2h0M394.4 374.8h0M370.4 367.3h0M380.9 361.1h0M396.8 376.3h0M391.0 362.7h0M390.6 364.1h0M382.8 352.6h0M372.9 363.4h0M363.9 372.9h0M369.2 372.7h0M384.3 376.3h0M385.3 372.3h0M396.1 378.4h0M381.2 362.6h0M387.6 377.6h0M382.9 376.4h0M380.6 374.0h0M386.9 354.0h0M387.0 358.4h0M341.9 352.2h0M393.9 377.2h0M374.1 347.7h0M378.7 365.6h0M386.7 365.1h0M390.6 373.7h0M359.3 370.0h0M374.0 367.1h0M395.9 376.4h0M364.9 372.1h0M376.2 369.7h0M396.6 372.9h0M389.1 361.1h0M372.5 370.2h0M381.7 375.6h0M382.0 364.2h0M388.1 375.1h0M385.2 375.0h0M351.4 369.1h0M375.2 375.2h0M370.9 372.5h0M371.5 360.9h0M393.6 378.1h0M376.8 368.4h0M378.4 369.4h0M393.4 369.2h0M370.4 369.8h0M369.2 362.1h0M383.8 358.7h0M385.9 376.6h0M360.7 370.7h0M388.2 366.2h0M389.0 375.7h0M375.5 355.6h0M390.0 367.5h0M385.9 375.4h0M389.0 373.5h0M395.2 369.9h0M380.6 359.6h0M370.3 368.1h0M395.0 377.2h0M377.4 370.0h0M393.8 372.3h0M366.1 354.9h0M394.8 375.9h0M395.5 371.5h0M396.8 372.8h0M389.8 375.2h0M395.0 377.4h0M382.4 366.7h0M384.8 375.4h0M382.2 365.7h0M385.4 367.7h0M364.7 350.2h0M385.4 360.5h0M386.5 361.0h0M391.8 372.5h0M391.0 363.1h0M369.5 364.9h0M381.4 372.5h0M368.4 372.5h0M391.0 372.9h0M386.7 355.3h0M393.8 373.9h0M392.4 366.4h0M385.0 372.7h0M392.0 376.9h0M387.1 364.5h0M395.3 373.6h0M390.5 377.7h0M397.2 377.2h0M358.7 367.2h0M378.8 366.0h0M390.9 376.3h0M381.1 369.3h0M396.5 375.6h0M383.1 370.8h0M360.6 366.8h0M374.2 366.9h0M384.7 364.4h0M389.4 363.6h0M378.8 363.0h0M369.4 366.4h0M376.3 368.9h0M394.8 373.0h0M358.5 361.9h0M388.1 356.0h0M384.6 372.9h0M394.3 370.3h0M378.9 370.6h0M384.7 375.9h0M377.2 350.3h0M363.3 348.7h0M391.1 373.6h0M394.1 372.5h0M382.1 361.8h0M371.6 364.4h0M392.6 377.6h0M384.8 357.9h0M390.5 373.2h0M388.7 357.9h0M378.6 372.6h0M388.2 374.6h0M373.4 354.3h0M391.9 369.4h0M387.8 363.1h0M351.7 356.3h0M367.1 366.5h0M395.2 372.6h0M380.8 352.2h0M366.3 366.6h0M392.5 377.5h0M378.6 371.8h0M395.0 369.7h0M392.3 376.5h0M381.1 359.4h0M378.7 367.6h0M382.9 359.0h0M385.6 375.1h0M376.2 362.3h0M391.9 366.7h0M367.2 362.2h0M378.5 352.7h0M371.3 354.7h0M389.5 373.7h0M373.3 373.6h0M390.2 377.4h0M380.8 364.0h0M396.1 371.6h0M388.2 358.5h0M389.8 366.5h0M372.2 369.3h0M393.7 368.0h0M358.0 366.9h0M384.2 344.7h0M389.6 358.3h0M390.4 373.2h0M397.5 375.7h0M389.3 375.8h0M383.7 363.3h0M388.0 376.9h0M382.9 376.6h0M402.6 379.5h0M353.1 369.4h0M375.7 375.4h0M395.8 378.7h0M399.5 379.1h0M395.1 378.5h0M385.5 377.2h0M397.8 378.9h0M391.3 378.1h0M352.0 369.6h0M351.4 368.9h0M397.6 378.9h0M380.1 376.3h0M394.4 378.5h0M401.7 379.4h0M382.5 376.6h0M328.1 360.5h0M400.5 379.2h0M368.8 373.8h0M311.2 354.5h0M389.8 377.8h0M371.5 374.5h0M369.6 374.3h0M369.1 374.1h0M354.2 369.8h0M401.6 379.3h0M380.2 376.3h0M401.1 379.3h0M312.5 353.1h0M365.3 372.9h0M401.3 379.3h0M370.4 374.1h0M380.6 376.2h0M365.6 373.3h0M356.0 371.0h0M349.7 369.4h0M398.6 379.0h0M331.1 361.8h0M371.4 374.3h0M375.0 375.3h0M396.3 378.7h0M377.7 375.9h0M362.1 372.1h0M369.6 374.2h0M330.6 362.3h0M402.7 379.5h0M377.8 375.6h0M385.0 377.0h0M367.5 373.8h0M354.7 370.0h0M374.1 374.9h0M373.3 374.7h0M401.9 379.4h0M374.7 375.2h0M361.2 372.0h0M382.8 376.7h0M395.9 378.7h0M371.2 374.3h0M379.1 375.9h0M386.3 377.2h0M354.1 369.9h0M401.8 379.4h0M348.7 368.7h0M372.2 374.7h0M368.4 373.6h0M373.6 375.1h0M379.4 376.0h0M347.5 367.9h0M352.6 369.7h0M402.2 379.4h0M370.0 374.3h0M399.0 379.1h0M370.4 374.4h0M382.2 376.6h0M359.3 371.9h0M396.7 378.8h0M351.7 368.9h0M336.5 363.6h0M372.9 374.8h0M365.2 373.3h0M386.2 377.2h0M385.0 377.1h0M380.1 376.1h0M377.6 375.8h0M343.5 366.3h0M395.7 378.7h0M355.3 370.4h0M357.6 371.1h0M377.3 375.8h0M365.2 372.7h0M340.4 366.1h0M383.6 376.9h0M366.2 373.3h0M383.3 376.8h0M338.8 365.9h0M345.8 367.0h0M352.9 370.3h0M336.0 364.3h0M384.7 376.9h0M308.1 350.5h0M373.3 374.8h0M374.6 374.9h0M400.1 379.2h0M373.4 374.9h0M402.3 379.4h0M393.1 378.3h0M393.1 378.3h0M399.5 379.1h0M363.3 372.7h0M388.4 377.6h0M399.3 379.1h0M392.1 378.1h0M377.8 375.8h0M365.9 373.1h0M388.9 377.7h0M398.9 379.1h0M396.3 378.7h0M357.8 370.9h0M334.2 363.1h0M334.2 364.1h0M333.8 364.2h0M387.2 377.5h0M377.9 375.8h0M379.7 376.0h0M360.5 371.9h0M356.8 371.3h0M384.0 377.0h0M387.2 377.3h0M389.3 377.7h0M369.2 374.2h0M400.3 379.2h0M361.1 372.4h0M356.4 371.2h0M362.8 372.8h0M377.4 375.8h0M396.1 378.7h0M396.0 378.7h0M355.9 370.6h0M382.2 376.5h0M390.4 377.9h0M375.4 375.3h0M366.1 373.3h0M373.5 374.8h0M388.0 377.6h0M380.9 376.3h0M316.5 355.8h0M392.5 378.2h0M380.9 376.4h0M341.8 365.9h0M365.3 372.8h0M371.3 374.4h0M381.5 376.4h0M368.5 374.0h0M373.4 374.7h0M393.0 378.2h0M395.9 378.7h0M401.6 379.4h0M382.2 376.7h0M396.7 378.8h0M393.4 378.4h0M386.5 377.4h0M399.6 379.1h0M372.0 374.8h0M369.6 374.2h0M361.6 372.3h0M361.0 372.2h0M388.9 377.7h0M365.1 372.9h0M364.9 372.7h0M370.3 374.1h0M396.0 378.7h0M383.1 376.8h0M368.4 374.0h0M375.6 375.2h0M393.0 378.3h0M385.1 377.2h0M316.2 355.1h0M349.6 368.4h0M375.8 375.2h0M337.4 365.0h0M396.5 378.8h0M388.6 377.7h0M356.8 370.4h0M393.7 378.4h0M384.2 377.0h0M355.9 371.0h0M372.8 374.7h0M366.8 373.1h0M394.9 378.5h0M344.3 366.7h0M335.7 364.9h0M361.8 372.4h0M380.2 376.4h0M332.2 362.3h0M402.9 379.5h0M395.9 378.7h0M361.2 372.2h0M392.4 378.2h0M402.2 379.4h0M379.2 376.0h0M393.8 378.4h0M345.8 367.8h0M384.2 376.9h0M388.1 377.6h0M398.2 378.9h0M386.6 377.4h0M369.4 373.8h0M356.7 370.7h0M385.7 377.1h0M354.2 370.3h0M388.0 377.6h0M369.1 373.8h0M353.7 369.6h0M395.9 378.7h0M383.0 376.7h0M372.6 374.6h0M386.3 377.2h0M377.4 375.9h0M397.2 378.8h0M376.4 375.7h0M386.7 377.4h0M374.4 375.3h0M399.1 379.1h0M381.3 376.3h0M338.9 365.4h0M379.2 376.1h0M348.2 368.7h0M383.5 376.9h0M378.4 375.9h0M369.5 373.8h0M387.2 377.5h0M341.7 365.5h0M318.3 357.1h0M398.0 378.9h0M343.3 366.9h0M353.4 369.6h0M381.5 376.6h0M367.1 373.3h0M385.8 377.1h0M366.7 373.5h0M399.6 379.1h0M394.2 378.5h0M400.9 379.3h0M396.2 378.7h0M376.4 375.6h0M389.8 377.9h0M391.4 378.1h0M332.7 363.2h0M392.6 378.2h0M379.6 376.1h0M393.0 378.3h0M376.7 375.6h0M395.1 378.6h0M389.2 377.8h0M327.6 361.9h0M371.8 374.5h0M394.5 378.5h0M392.0 378.1h0M380.6 376.3h0M372.9 374.9h0M397.0 378.8h0M362.4 372.4h0M369.3 373.9h0M373.7 375.0h0M395.9 378.7h0M391.9 378.2h0M346.1 367.4h0M326.7 360.8h0M385.0 377.0h0M387.6 377.4h0M323.8 360.3h0M371.1 374.3h0M402.4 379.4h0M372.6 374.7h0M379.0 376.1h0M392.1 378.2h0M390.9 378.0h0M350.0 368.3h0M376.6 375.6h0M396.7 378.8h0M339.6 365.8h0M365.1 372.7h0M350.1 368.6h0M381.7 376.4h0M331.2 361.5h0M388.4 377.7h0M371.2 374.5h0M353.9 370.2h0M370.0 374.3h0M393.0 378.3h0M381.5 376.5h0M386.9 377.4h0M353.0 369.8h0M360.0 371.6h0M384.6 377.1h0M391.3 378.1h0M380.7 376.2h0M354.3 369.7h0M402.6 379.5h0M380.9 376.4h0M362.7 372.6h0M400.5 379.2h0M401.7 379.4h0M401.2 379.3h0M341.7 365.7h0M344.3 366.3h0M360.8 372.2h0M400.6 379.2h0M397.7 378.9h0M375.6 375.3h0M346.1 367.6h0M305.9 352.7h0M335.0 363.1h0M357.4 370.7h0M381.2 376.3h0M311.5 355.2h0M402.9 379.5h0M355.3 370.5h0M395.7 378.7h0M398.2 379.0h0M402.6 379.5h0M395.8 378.6h0M392.4 378.2h0M401.0 379.3h0M367.2 373.3h0M389.3 377.7h0M397.6 378.9h0M372.6 374.9h0M402.0 379.4h0M361.1 371.8h0M369.5 374.2h0M368.9 373.6h0M387.5 377.6h0M356.5 371.2h0M399.4 379.1h0M383.0 376.8h0M342.4 366.6h0M375.9 375.6h0M353.1 369.7h0M357.3 371.0h0M371.5 374.2h0M393.8 378.4h0M368.4 373.8h0M370.9 374.4h0M385.5 377.2h0M338.0 364.1h0M396.5 378.7h0M397.5 378.9h0M372.3 374.7h0M374.1 375.2h0M372.5 374.5h0M374.5 375.0h0M384.3 377.0h0M394.3 378.5h0M367.4 373.5h0M346.8 367.2h0M386.6 377.4h0M354.2 369.9h0M331.4 362.3h0M385.7 377.2h0M394.4 378.5h0M309.7 351.9h0M369.9 374.3h0M399.0 379.1h0M334.7 363.5h0M400.3 379.2h0M390.6 378.0h0M293.0 343.9h0M396.7 378.8h0M385.1 377.1h0M401.8 379.4h0M362.7 372.8h0M390.9 378.0h0M337.0 365.2h0M381.7 376.5h0M397.9 378.9h0M337.5 364.4h0M390.6 377.9h0M397.4 378.9h0M392.1 378.2h0M379.9 376.1h0M381.9 376.6h0M355.2 370.8h0M353.4 369.9h0M375.6 375.2h0M391.8 378.1h0M365.0 373.2h0M354.8 370.6h0M382.8 376.6h0M372.6 374.8h0M401.9 379.4h0M383.0 376.8h0M338.0 364.8h0M401.6 379.3h0M297.9 347.9h0M335.7 364.8h0M331.0 361.4h0M376.2 375.5h0M350.6 369.3h0M367.8 373.5h0M345.1 366.6h0M385.4 377.2h0M357.3 371.1h0M389.2 377.8h0M321.3 359.0h0M397.4 378.9h0M383.0 376.8h0M398.7 379.0h0M332.9 362.2h0M391.9 378.1h0M362.9 372.4h0M355.5 370.6h0M329.2 361.9h0M400.9 379.3h0M368.5 373.6h0M358.1 371.1h0M400.6 379.2h0M371.7 374.4h0M385.5 377.1h0M342.2 365.9h0M390.2 377.9h0M381.3 376.6h0M358.0 371.5h0M369.3 374.1h0M384.3 376.9h0M396.0 378.7h0M390.3 377.9h0M355.1 370.2h0M351.4 369.3h0M373.8 375.2h0M372.1 374.9h0M386.1 377.3h0M364.7 373.1h0M386.5 377.3h0M373.6 374.7h0M378.9 376.0h0M369.2 374.0h0M361.9 372.3h0M375.3 375.4h0M381.2 376.3h0M389.5 377.9h0M359.5 371.6h0M342.5 366.0h0M393.1 378.3h0M390.9 378.0h0M392.3 378.2h0M366.9 373.6h0M388.8 377.7h0M394.5 378.5h0M360.5 371.8h0M323.1 360.2h0M378.7 376.1h0M348.2 368.6h0M369.5 374.2h0M401.5 379.3h0M380.6 376.3h0M363.5 372.7h0M369.6 374.1h0M370.8 374.5h0M402.4 379.4h0M368.7 374.0h0M345.5 367.6h0M355.9 370.9h0M331.5 362.9h0M383.7 376.8h0M389.2 377.8h0M391.1 378.0h0M380.3 376.3h0M387.8 377.5h0M385.4 377.2h0M370.2 374.1h0M396.2 378.7h0M316.4 356.5h0M378.2 375.9h0M363.0 372.8h0M369.2 374.1h0M368.5 373.6h0M369.4 373.8h0M394.2 378.4h0M353.4 370.2h0M391.9 378.2h0M375.3 375.4h0M363.1 372.7h0M401.8 379.4h0M383.5 376.8h0M333.9 363.1h0M343.6 366.8h0M362.9 372.5h0M392.0 378.2h0M357.2 371.2h0M361.7 372.5h0M320.6 357.2h0M362.7 372.3h0M344.6 367.7h0M397.8 378.9h0M365.0 372.8h0M379.4 376.1h0M398.8 379.0h0M379.1 376.0h0M395.2 378.6h0M371.9 374.7h0M373.7 374.9h0M317.2 355.7h0M402.7 379.5h0M388.5 377.7h0M341.0 365.1h0M357.5 371.0h0M366.7 373.1h0M302.4 349.3h0M381.1 376.3h0M384.7 376.9h0M391.3 378.0h0M392.6 378.3h0M391.4 378.1h0M383.8 376.9h0M393.8 378.4h0M366.8 373.4h0M379.0 375.8h0M395.4 378.6h0M379.1 376.0h0M399.6 379.1h0M353.5 370.4h0M380.2 376.1h0M338.3 365.1h0M344.3 367.4h0M381.1 376.5h0M393.6 378.4h0M402.3 379.4h0M348.0 368.2h0M389.3 377.7h0M384.7 377.0h0M382.2 376.5h0M368.7 373.7h0M388.1 377.6h0M380.7 376.4h0M296.8 347.3h0M355.4 370.8h0M377.2 375.8h0M387.9 377.5h0M389.5 377.8h0M392.9 378.2h0M398.1 379.0h0M375.2 375.2h0M365.4 373.0h0M400.4 379.2h0M397.8 378.9h0M397.2 378.8h0M355.7 370.4h0M384.7 377.0h0M354.7 370.0h0M379.2 376.2h0M393.3 378.3h0M368.4 373.5h0M392.4 378.3h0M394.6 378.5h0M362.3 372.6h0M371.3 374.6h0M384.7 377.1h0M399.8 379.2h0M366.5 373.1h0M367.5 373.5h0M396.8 378.8h0M383.0 376.8h0M389.5 377.7h0M385.0 377.2h0M376.3 375.6h0M397.6 378.9h0M393.2 378.3h0M372.0 374.4h0M396.3 378.7h0M359.5 371.9h0M386.8 377.4h0M391.0 378.0h0M357.8 371.4h0M390.0 377.8h0M325.8 360.6h0M401.8 379.4h0M384.6 377.0h0M350.3 369.3h0M382.4 376.7h0M400.5 379.2h0M376.9 375.5h0M339.0 364.6h0M373.9 374.9h0M401.8 379.4h0M368.7 373.9h0M391.0 378.0h0M392.2 378.2h0M362.4 372.3h0M389.4 377.8h0M368.4 373.7h0M392.0 378.1h0M335.9 364.8h0M395.6 378.6h0M354.6 370.6h0M401.6 379.3h0M382.7 376.7h0M371.0 374.3h0M400.0 379.2h0M383.8 376.8h0M386.8 377.5h0M385.4 377.2h0M370.5 374.2h0M375.7 375.4h0M346.1 367.8h0M368.5 374.0h0M389.2 377.7h0M402.0 379.4h0M377.7 375.6h0M339.5 365.7h0M346.0 367.0h0M379.6 376.0h0M371.0 374.6h0M401.3 379.3h0M394.3 378.5h0M368.5 373.9h0M390.5 377.9h0M371.9 374.7h0M370.9 374.2h0M362.7 372.3h0M397.5 378.9h0M375.7 375.4h0M317.1 355.6h0M361.7 371.9h0M367.3 373.5h0M395.2 378.6h0M363.5 372.9h0M344.5 367.6h0M368.2 373.9h0M397.1 378.9h0M350.7 369.4h0M302.9 349.1h0M372.1 374.6h0M375.3 375.4h0M385.4 377.1h0M396.9 378.8h0M371.8 374.3h0M368.0 373.8h0M380.9 376.4h0M394.7 378.5h0M381.2 376.3h0M378.9 375.8h0M382.5 376.7h0M371.8 374.7h0M368.5 373.8h0M377.9 375.7h0M388.9 377.8h0M370.0 374.4h0M392.7 378.3h0M363.2 372.2h0M379.5 376.0h0M384.3 377.0h0M364.7 373.2h0M400.0 379.2h0M386.9 377.4h0M363.8 372.8h0M368.8 374.1h0M366.3 373.4h0M393.9 378.4h0M368.8 373.6h0M389.8 377.8h0M342.6 366.2h0M388.9 377.7h0M344.7 367.4h0M384.6 377.0h0M383.6 376.9h0M396.8 378.8h0M365.1 373.1h0M355.5 370.6h0M321.3 358.3h0M356.4 371.1h0M383.2 376.9h0M393.2 378.3h0M399.1 379.1h0M371.8 374.4h0M357.1 371.2h0M376.5 375.6h0M321.2 358.1h0M399.7 379.1h0M381.3 376.3h0M392.5 378.3h0M390.6 377.9h0M394.0 378.4h0M398.1 378.9h0M338.9 365.1h0M399.0 379.1h0M371.1 374.2h0M401.5 379.3h0M382.2 376.7h0M391.2 378.0h0M366.8 373.2h0M395.7 378.7h0M355.1 370.0h0M369.3 373.8h0M358.5 371.5h0M386.4 377.3h0M364.7 372.6h0M396.1 378.7h0M359.9 371.5h0M362.7 372.5h0M354.5 370.5h0M396.0 378.7h0M391.3 378.0h0M402.2 379.4h0M401.0 379.3h0M382.2 376.5h0M388.4 377.6h0M352.8 369.3h0M402.1 379.4h0M331.3 363.1h0M353.8 370.0h0M363.3 372.7h0M364.5 372.6h0M374.5 374.9h0M351.2 369.1h0M397.9 378.9h0M384.9 377.0h0M394.5 378.5h0M402.5 379.5h0M350.7 369.4h0M349.8 369.1h0M402.6 379.5h0M314.0 354.6h0M380.3 376.2h0M383.6 376.8h0M373.3 374.9h0M385.9 377.3h0M385.1 377.2h0M319.7 357.4h0M364.2 372.6h0M349.7 368.4h0M380.4 376.2h0M385.3 377.1h0M387.4 377.5h0M339.9 366.4h0M376.6 375.5h0M379.0 376.0h0M369.2 373.9h0M335.7 363.7h0M399.0 379.1h0M357.3 370.8h0M370.2 374.4h0M399.7 379.1h0M392.4 378.2h0M396.7 378.8h0M377.7 375.8h0M379.4 376.0h0M396.4 378.8h0M402.0 379.4h0M359.2 371.5h0M375.9 375.6h0M351.0 369.1h0M366.5 373.4h0M391.7 378.1h0M384.1 377.0h0M300.0 346.2h0M362.8 372.8h0M395.3 378.6h0M390.6 377.9h0M314.4 355.6h0M392.7 378.2h0M395.3 378.6h0M396.3 378.7h0M395.7 378.7h0M358.3 371.2h0M392.9 378.2h0M365.4 372.8h0M373.9 375.0h0M366.5 373.6h0M331.9 363.1h0M400.4 379.2h0M358.8 371.6h0M385.6 377.1h0M326.4 361.4h0M371.6 374.3h0M363.9 372.7h0M367.2 373.3h0M302.5 350.7h0M359.8 371.7h0M389.7 377.8h0M392.3 378.2h0M343.9 366.5h0M377.5 375.7h0M385.6 377.2h0M341.7 366.9h0M342.4 366.9h0M381.7 376.4h0M371.1 374.5h0M351.0 368.8h0M400.6 379.2h0M401.3 379.3h0M362.3 372.1h0M320.9 359.3h0M386.3 377.4h0M367.1 373.7h0M352.2 369.0h0M392.3 378.2h0M374.5 375.0h0M383.4 376.9h0M327.5 361.3h0M389.2 377.7h0M402.3 379.4h0M362.7 372.3h0M370.0 373.9h0M384.0 376.9h0M364.7 372.9h0M376.6 375.5h0M401.8 379.4h0M389.6 377.9h0M370.1 374.4h0M389.6 377.8h0M349.5 368.7h0M346.7 368.0h0M365.4 372.8h0M370.3 374.0h0M378.8 376.0h0M363.1 372.4h0M322.9 358.7h0M383.8 376.8h0M358.4 371.7h0M316.4 354.9h0M348.4 368.2h0M348.1 368.9h0M325.8 360.0h0M341.6 366.8h0M392.2 378.2h0M376.9 375.6h0M400.3 379.2h0M315.8 355.7h0M365.4 373.2h0M364.3 372.7h0M338.1 364.8h0M373.6 374.8h0M396.5 378.8h0M386.2 377.2h0M333.5 362.9h0M355.9 370.9h0M322.0 358.6h0M374.5 375.1h0M392.9 378.3h0M324.2 358.4h0M348.8 368.1h0M367.6 373.3h0M365.0 372.7h0M341.8 366.9h0M368.6 374.1h0M377.3 375.8h0M386.6 377.4h0M397.4 378.8h0M369.4 374.1h0M397.1 378.8h0M372.1 374.5h0M377.4 375.6h0M368.8 373.8h0M375.5 375.2h0M394.2 378.5h0M366.3 373.4h0M366.5 373.5h0M376.4 375.3h0M397.6 378.9h0M401.1 379.3h0M364.4 372.7h0M304.5 351.6h0M400.6 379.3h0M382.6 376.8h0M365.8 373.4h0M381.3 376.4h0M378.8 376.0h0M394.2 378.4h0M366.1 373.5h0M385.8 377.1h0M363.8 372.8h0M402.9 379.5h0M381.3 376.5h0M341.0 365.6h0M387.7 377.4h0M364.5 373.1h0M350.0 368.5h0M400.7 379.2h0M384.3 377.0h0M400.0 379.2h0M349.8 368.8h0M339.2 365.1h0M381.0 376.4h0M369.4 374.1h0M364.2 372.9h0M399.4 379.1h0M383.5 376.8h0M367.6 373.8h0M380.7 376.5h0M362.5 372.1h0M373.9 375.0h0M369.5 374.2h0M363.9 372.4h0M400.3 379.2h0M368.3 373.8h0M355.9 370.5h0M303.5 348.9h0M341.4 366.6h0M374.7 375.4h0M378.1 376.0h0M394.1 378.4h0M396.9 378.8h0M345.6 367.8h0M394.1 378.4h0M384.3 376.9h0M385.9 377.3h0M381.4 376.4h0M386.9 377.3h0M361.4 372.2h0M391.5 378.1h0M369.9 373.9h0M348.3 368.9h0M377.5 375.6h0M388.6 377.7h0M399.1 379.1h0M396.4 378.7h0M345.9 367.1h0M374.8 375.2h0M371.5 374.3h0M388.3 377.6h0M382.4 376.6h0M375.1 375.3h0M316.8 355.5h0M382.4 376.7h0M399.6 379.1h0M370.6 374.3h0M379.4 376.1h0M384.2 376.9h0M388.8 377.6h0M326.2 360.5h0M397.0 378.8h0M384.6 376.9h0M381.9 376.5h0M386.4 377.3h0M340.5 366.1h0M371.4 374.6h0M372.0 374.7h0M393.1 378.3h0M403.0 379.5h0M396.3 378.7h0M375.3 375.3h0M348.2 367.7h0M397.2 378.8h0M396.4 378.8h0M383.0 376.7h0M350.3 368.6h0M342.9 366.3h0M360.0 371.8h0M370.5 374.0h0M380.5 376.2h0M364.1 372.9h0M374.4 375.1h0M387.5 377.6h0M399.1 379.1h0M352.0 369.1h0M333.6 362.4h0M371.6 374.5h0M359.1 371.8h0M314.2 355.0h0M387.9 377.5h0M374.6 375.1h0M390.7 378.0h0M345.7 368.1h0M347.4 368.4h0M379.8 376.1h0M392.0 378.2h0M381.0 376.5h0M357.0 370.7h0M397.8 378.9h0M357.1 370.8h0M376.3 375.5h0M379.9 376.0h0M383.6 376.8h0M359.6 371.9h0M383.3 376.9h0M378.2 376.0h0M324.0 360.4h0M347.3 367.4h0M393.4 378.4h0M402.1 379.4h0M354.3 370.4h0M400.5 379.2h0M359.4 371.5h0M400.1 379.2h0M395.7 378.6h0M389.3 377.7h0M396.2 378.7h0M336.8 364.0h0M390.1 377.8h0M401.4 379.3h0M365.9 373.5h0M390.4 377.9h0M371.1 374.6h0M371.6 374.3h0M328.0 362.1h0M397.6 378.9h0M340.8 366.3h0M368.1 373.8h0M377.3 375.8h0M388.4 377.6h0M347.7 367.6h0M347.5 368.1h0M377.6 375.8h0M286.9 338.9h0M376.2 375.6h0M377.2 375.8h0M385.5 377.1h0M382.5 376.5h0M376.5 375.7h0M401.5 379.3h0M359.4 371.2h0M380.8 376.2h0M368.1 373.6h0M394.6 378.5h0M391.5 378.1h0M369.5 374.3h0M354.3 369.7h0M344.2 367.5h0M350.3 369.4h0M327.6 360.4h0M324.1 358.4h0M395.1 378.6h0M394.0 378.4h0M336.2 363.7h0M400.4 379.2h0M381.0 376.3h0M315.1 355.6h0M392.1 378.2h0M392.6 378.3h0M383.4 376.8h0M398.2 379.0h0M379.2 375.9h0M364.9 373.3h0M337.7 364.4h0M393.7 378.4h0M379.6 376.0h0M387.8 377.5h0M375.2 375.2h0M401.3 379.3h0M375.6 375.3h0M390.3 378.0h0M372.9 374.6h0M343.2 367.3h0M385.0 377.1h0M336.4 365.0h0M356.3 371.1h0M365.3 373.2h0M362.8 372.5h0M357.0 371.4h0M369.5 374.0h0M390.4 377.9h0M367.6 373.7h0M369.8 374.3h0M384.4 377.0h0M383.8 377.0h0M389.2 377.8h0M342.5 366.9h0M347.7 368.3h0M368.7 373.9h0M398.8 379.0h0M332.5 362.7h0M386.0 377.2h0M369.9 374.2h0M353.5 369.6h0M359.5 371.5h0M385.5 377.1h0M399.7 379.1h0M363.5 372.8h0M322.0 359.4h0M379.1 376.0h0M388.8 377.7h0M390.4 377.9h0M369.2 374.2h0M397.1 378.8h0M342.3 366.7h0M381.4 376.6h0M366.9 373.7h0M330.8 363.2h0M350.5 368.9h0M364.7 372.6h0M401.3 379.3h0M401.7 379.4h0M376.7 375.6h0M315.1 357.0h0M378.2 375.7h0M400.3 379.2h0M322.8 358.7h0M371.1 374.5h0M382.2 376.5h0M390.7 378.0h0M368.1 373.7h0M391.8 378.1h0M400.2 379.2h0M361.9 372.6h0M373.6 375.1h0M402.1 379.4h0M361.4 372.2h0M423.4 376.6h0M406.2 379.2h0M404.2 379.4h0M404.9 379.3h0M449.9 371.1h0M417.2 377.7h0M443.2 372.3h0M420.5 377.1h0M420.4 377.2h0M412.3 378.4h0M447.0 371.4h0M474.3 361.7h0M426.6 375.9h0M443.7 372.5h0M415.2 378.0h0M445.0 371.8h0M420.9 377.0h0M408.3 378.9h0M447.1 371.6h0M417.1 377.7h0M448.3 370.7h0M413.2 378.3h0M434.1 374.7h0M444.2 372.5h0M433.1 374.6h0M462.9 366.6h0M425.7 376.4h0M443.0 372.8h0M424.3 376.4h0M431.3 375.3h0M421.7 377.1h0M445.2 371.9h0M458.7 368.4h0M411.4 378.5h0M445.7 371.5h0M403.0 379.5h0M418.7 377.4h0M452.6 369.3h0M492.6 355.7h0M422.1 376.9h0M456.6 369.1h0M416.3 377.8h0M422.4 376.8h0M412.1 378.4h0M432.2 374.8h0M430.4 375.1h0M408.4 378.9h0M411.8 378.5h0M409.1 378.8h0M452.1 370.3h0M419.6 377.3h0M448.0 371.2h0M419.9 377.3h0M443.1 372.4h0M412.3 378.4h0M417.6 377.7h0M408.0 378.9h0M437.0 373.9h0M409.9 378.7h0M432.0 375.2h0M426.3 376.1h0M445.3 371.8h0M422.4 376.9h0M473.1 363.5h0M419.8 377.2h0M429.4 375.4h0M445.4 371.7h0M430.6 375.2h0M433.7 374.9h0M444.3 372.2h0M412.6 378.3h0M426.2 376.1h0M406.4 379.1h0M420.2 377.2h0M412.4 378.3h0M460.7 367.3h0M410.3 378.7h0M413.4 378.2h0M420.4 377.1h0M416.6 377.8h0M425.5 376.2h0M427.2 376.1h0M440.6 373.4h0M422.7 376.9h0M449.1 371.1h0M405.7 379.2h0M460.3 367.8h0M417.5 377.7h0M423.9 376.5h0M416.3 377.7h0M432.1 375.0h0M465.8 365.6h0M451.1 370.7h0M415.6 377.9h0M403.7 379.4h0M435.2 374.6h0M425.2 376.5h0M415.9 377.8h0M474.5 363.2h0M433.5 374.7h0M460.3 368.2h0M468.1 365.3h0M403.1 379.5h0M415.0 378.0h0M407.5 379.0h0M507.4 348.1h0M478.8 361.9h0M413.3 378.3h0M437.7 373.6h0M406.0 379.2h0M435.2 374.4h0M432.4 374.9h0M439.2 373.6h0M428.0 375.9h0M451.3 370.0h0M422.8 376.7h0M416.9 377.7h0M428.6 375.9h0M439.1 373.5h0M419.6 377.3h0M407.3 379.0h0M467.9 365.7h0M406.3 379.1h0M403.4 379.5h0M448.8 371.0h0M423.0 376.7h0M461.5 367.5h0M422.8 376.7h0M408.4 378.9h0M426.2 376.2h0M428.4 375.7h0M452.8 370.1h0M414.8 378.1h0M439.5 373.4h0M417.0 377.7h0M409.1 378.8h0M472.5 364.0h0M427.1 376.0h0M454.6 369.6h0M423.1 376.8h0M428.1 375.7h0M446.2 371.5h0M404.4 379.3h0M433.9 374.4h0M452.9 370.0h0M417.4 377.6h0M410.7 378.6h0M416.3 377.8h0M431.8 374.9h0M420.5 377.2h0M433.8 374.7h0M435.6 374.3h0M454.5 368.8h0M410.7 378.6h0M413.7 378.2h0M409.9 378.7h0M409.3 378.7h0M415.3 377.9h0M429.4 375.4h0M467.5 364.6h0M409.8 378.7h0M463.5 366.4h0M423.0 376.6h0M420.2 377.2h0M411.2 378.6h0M406.8 379.1h0M425.0 376.4h0M430.2 375.4h0M449.0 370.6h0M428.6 375.5h0M416.4 377.8h0M411.4 378.5h0M430.6 375.3h0M413.8 378.2h0M413.8 378.1h0M443.5 372.2h0M430.5 375.3h0M422.2 377.0h0M413.2 378.3h0M444.8 371.9h0M405.0 379.3h0M432.6 374.9h0M407.3 379.0h0M433.4 374.6h0M416.4 377.7h0M479.1 361.5h0M423.1 376.6h0M494.3 354.6h0M448.2 371.6h0M408.6 378.9h0M425.9 376.1h0M415.2 378.0h0M456.6 368.7h0M423.3 376.7h0M433.5 374.7h0M465.5 365.0h0M416.9 377.8h0M471.3 363.9h0M434.7 374.5h0M410.3 378.6h0M417.1 377.7h0M411.1 378.6h0M442.7 372.4h0M448.5 371.4h0M418.7 377.5h0M418.0 377.5h0M437.2 374.2h0M416.6 377.8h0M471.5 364.1h0M415.4 378.0h0M463.0 367.1h0M467.8 365.3h0M404.0 379.4h0M432.1 375.2h0M414.2 378.2h0M426.9 376.1h0M435.9 373.9h0M421.3 377.1h0M427.8 375.9h0M420.4 377.2h0M416.0 377.8h0M438.0 373.8h0M445.6 371.9h0M405.4 379.2h0M441.9 372.7h0M438.4 373.5h0M408.5 378.9h0M434.8 374.5h0M419.5 377.3h0M409.9 378.7h0M417.9 377.6h0M420.5 377.1h0M426.0 376.2h0M456.2 368.9h0M414.0 378.2h0M418.4 377.5h0M409.9 378.7h0M407.0 379.1h0M449.8 370.6h0M434.1 374.5h0M418.3 377.6h0M463.3 367.1h0M423.1 376.7h0M451.0 370.3h0M485.9 357.9h0M430.8 375.4h0M429.0 375.7h0M404.4 379.4h0M433.0 375.0h0M490.5 354.2h0M468.0 365.7h0M429.5 375.5h0M444.1 372.2h0M437.7 373.9h0M419.9 377.3h0M466.7 364.7h0M457.9 368.6h0M470.3 364.7h0M448.4 371.2h0M480.6 359.4h0M434.1 374.4h0M406.4 379.1h0M404.1 379.4h0M440.3 373.2h0M426.2 376.1h0M438.1 373.4h0M415.3 378.0h0M454.3 369.8h0M426.4 376.1h0M406.7 379.1h0M431.8 375.0h0M431.4 375.0h0M415.0 378.0h0M420.1 377.2h0M448.9 371.4h0M415.6 377.9h0M443.8 372.4h0M453.0 370.3h0M422.8 376.6h0M436.7 374.2h0M423.1 376.8h0M487.5 358.3h0M410.4 378.6h0M440.7 373.4h0M469.5 365.0h0M412.4 378.4h0M468.3 364.2h0M425.7 376.4h0M441.7 372.5h0M414.2 378.1h0M447.8 371.6h0M453.7 369.3h0M407.2 379.0h0M421.6 376.9h0M412.7 378.4h0M459.7 367.8h0M408.1 378.9h0M425.8 376.2h0M432.3 375.2h0M430.9 375.4h0M428.6 375.7h0M418.1 377.5h0M406.2 379.1h0M438.9 373.7h0M417.7 377.6h0M447.4 371.3h0M422.7 376.7h0M465.8 365.0h0M439.9 373.1h0M432.3 374.8h0M437.7 373.7h0M466.3 365.2h0M427.0 376.0h0M405.3 379.3h0M420.5 377.1h0M421.9 377.0h0M407.4 379.0h0M432.8 375.0h0M409.3 378.8h0M421.3 376.9h0M412.5 378.4h0M425.5 376.2h0M427.0 376.2h0M447.1 371.8h0M420.3 377.2h0M431.3 375.2h0M445.5 371.7h0M423.0 376.7h0M490.5 355.5h0M467.9 365.3h0M405.0 379.3h0M422.2 376.9h0M465.2 366.7h0M412.5 378.4h0M416.3 377.8h0M461.1 367.4h0M415.2 377.9h0M426.4 376.1h0M404.3 379.4h0M407.4 379.0h0M490.5 355.1h0M408.6 378.9h0M458.4 367.8h0M407.0 379.1h0M428.4 375.7h0M408.2 378.9h0M437.4 373.7h0M422.0 376.9h0M426.9 376.2h0M445.0 371.7h0M461.1 366.8h0M425.3 376.3h0M416.9 377.6h0M416.0 377.9h0M435.0 374.4h0M417.8 377.6h0M462.4 367.0h0M413.9 378.2h0M408.3 378.9h0M443.5 372.1h0M420.4 377.1h0M423.1 376.7h0M426.3 376.0h0M460.0 367.1h0M443.1 372.3h0M445.7 371.6h0M484.3 358.9h0M467.2 364.7h0M453.4 370.1h0M412.3 378.4h0M429.6 375.7h0M419.4 377.4h0M419.8 377.4h0M429.4 375.6h0M463.7 366.9h0M441.1 373.0h0M405.6 379.2h0M444.8 372.3h0M428.0 375.7h0M404.0 379.4h0M464.1 365.6h0M412.3 378.4h0M470.7 364.2h0M459.2 367.9h0M403.5 379.4h0M425.4 376.3h0M409.5 378.8h0M441.3 373.1h0M437.5 373.8h0M432.4 375.0h0M410.2 378.7h0M427.8 376.0h0M462.6 366.9h0M460.7 367.2h0M425.2 376.2h0M431.7 375.0h0M412.7 378.3h0M438.7 373.2h0M434.6 374.5h0M416.6 377.7h0M424.8 376.3h0M421.4 376.9h0M472.5 363.4h0M481.1 360.1h0M421.6 377.0h0M406.7 379.1h0M451.1 370.1h0M423.9 376.6h0M451.7 370.5h0M423.5 376.7h0M466.2 364.7h0M426.3 376.3h0M444.1 372.1h0M484.7 358.6h0M457.6 368.5h0M412.8 378.3h0M404.9 379.3h0M420.4 377.3h0M408.6 378.8h0M409.9 378.7h0M415.2 375.3h0M382.5 375.7h0M387.4 377.4h0M395.9 377.2h0M420.5 372.6h0M405.2 379.2h0M405.2 379.2h0M395.6 378.1h0M390.9 378.0h0M398.4 378.8h0M407.6 378.3h0M402.0 379.2h0M388.3 375.6h0M400.5 379.0h0M400.4 378.9h0M383.1 376.4h0M395.7 376.7h0M407.3 378.6h0M412.3 378.3h0M398.7 378.3h0M396.5 378.6h0M415.4 376.0h0M413.5 375.6h0M406.0 378.7h0M399.7 379.1h0M410.1 378.0h0M400.3 378.9h0M400.8 379.0h0M403.4 379.5h0M397.9 378.2h0M400.6 379.2h0M401.3 379.3h0M407.6 378.0h0M397.2 378.3h0M395.9 377.9h0M402.7 379.5h0M386.3 371.9h0M400.8 379.2h0M398.3 379.0h0M400.3 379.2h0M413.4 378.2h0M402.8 379.5h0M397.2 377.9h0M398.0 378.7h0M403.8 379.4h0M396.2 378.7h0M410.4 378.6h0M391.7 376.8h0M396.4 378.2h0M404.9 379.2h0M386.3 375.2h0M400.3 378.6h0M401.7 379.2h0M402.4 379.4h0M413.6 377.5h0M406.8 378.9h0M412.2 377.9h0M399.4 378.8h0M404.9 379.1h0M399.2 378.9h0M392.9 377.6h0M403.1 379.5h0M389.0 377.5h0M390.5 374.9h0M397.4 378.1h0M405.9 379.2h0M397.2 378.6h0M390.7 377.7h0M389.2 377.6h0M404.6 379.2h0M398.7 378.8h0M407.5 378.1h0M394.1 377.3h0M400.8 379.2h0M404.0 379.3h0M408.9 378.8h0M406.6 378.9h0M399.1 378.7h0M406.4 378.9h0M400.1 379.2h0M399.5 378.9h0M401.2 379.3h0M393.6 378.2h0M395.6 377.1h0M404.0 379.3h0M390.0 377.3h0M403.6 379.4h0M407.1 378.8h0M402.2 379.3h0M392.9 378.1h0M405.8 378.9h0M408.4 378.6h0M398.9 379.0h0M399.5 379.1h0M400.7 379.2h0M397.9 378.9h0M406.0 379.0h0M409.1 378.7h0M409.4 377.8h0M402.0 379.3h0M406.2 379.2h0M409.0 378.2h0M402.3 379.4h0M401.5 379.3h0M404.8 379.3h0M391.2 377.1h0M402.8 379.5h0M400.2 378.9h0M401.8 379.3h0M404.5 379.3h0M402.1 379.4h0M399.6 379.1h0M392.6 378.0h0M394.4 377.8h0M395.5 378.0h0M397.0 378.6h0M411.9 378.2h0M400.3 378.8h0M394.6 377.7h0M392.9 376.8h0M399.1 378.8h0M380.9 370.5h0M402.0 379.3h0M405.3 379.1h0M398.1 378.7h0M410.9 378.2h0M387.2 376.2h0M405.7 379.0h0M399.6 379.0h0M395.6 377.4h0M409.7 378.7h0M410.6 376.9h0M411.3 378.4h0M408.4 378.5h0M409.3 378.5h0M393.4 378.0h0M417.9 373.2h0M412.7 377.7h0M402.0 379.4h0M394.4 376.7h0M398.3 378.9h0M396.2 378.7h0M421.0 376.8h0M406.5 378.7h0M410.6 378.4h0M393.7 376.0h0M412.6 376.6h0M410.3 378.1h0M396.0 376.9h0M402.6 379.4h0M408.5 378.7h0M410.4 376.7h0M411.9 378.4h0M391.2 377.6h0M407.6 378.6h0M399.9 379.1h0M386.0 376.9h0M395.7 378.2h0M413.0 378.0h0M411.6 377.5h0M405.6 379.1h0M401.8 379.3h0M396.5 378.6h0M393.6 377.4h0M408.8 378.7h0M395.9 378.0h0M395.0 377.8h0M402.8 379.5h0M388.3 375.8h0M395.6 378.6h0M412.3 376.6h0M403.0 379.5h0M396.8 378.6h0M386.5 374.6h0M405.5 379.1h0M405.7 379.0h0M408.8 378.7h0M400.4 378.8h0M398.4 378.6h0M402.6 379.5h0M407.9 378.8h0M395.5 378.2h0M390.6 377.2h0M413.5 377.2h0M409.3 377.8h0M405.5 379.0h0M403.6 379.4h0M420.3 374.8h0M398.2 378.3h0M405.1 379.2h0M406.2 379.0h0M400.4 379.1h0M416.2 377.7h0M408.7 378.4h0M395.1 378.6h0M395.3 377.7h0M405.2 379.2h0M392.3 377.2h0M395.8 377.2h0M404.6 379.0h0M393.1 378.0h0M402.4 379.4h0M393.0 377.4h0M410.4 378.2h0M398.1 379.0h0M399.6 379.0h0M406.4 379.0h0M402.0 379.4h0M421.8 370.9h0M399.6 378.7h0M399.5 378.9h0M404.0 379.2h0M399.6 379.1h0M408.0 378.9h0M407.5 378.4h0M398.8 378.6h0M401.6 379.2h0M399.9 378.8h0M409.1 378.7h0M399.4 379.0h0M399.7 378.7h0M411.3 378.3h0M413.4 376.1h0M407.1 378.3h0M400.9 379.2h0M405.2 379.1h0M409.7 378.7h0M399.7 379.1h0M410.6 378.4h0M400.9 379.1h0M393.9 378.1h0M400.1 379.1h0M396.2 377.2h0M408.1 377.8h0M405.7 378.8h0M391.3 376.3h0M403.1 379.5h0M400.2 379.2h0M405.2 379.2h0M407.7 378.4h0M407.9 378.4h0M399.6 379.1h0M387.8 377.2h0M388.7 377.3h0M402.8 379.5h0M400.9 379.2h0M416.8 376.9h0M401.2 379.0h0M401.3 379.3h0M399.7 378.5h0M414.7 378.0h0M409.7 378.6h0M407.1 379.0h0M416.5 376.9h0M395.4 378.5h0M404.9 379.3h0M412.4 377.3h0M384.3 376.9h0M401.2 379.2h0M414.6 377.9h0M397.4 378.8h0M415.2 376.1h0M397.4 378.9h0M400.5 379.1h0M405.9 378.9h0M395.2 377.3h0M401.7 379.2h0M397.7 378.9h0M392.1 377.1h0M397.2 378.7h0M403.0 379.5h0M405.0 379.2h0M393.1 376.5h0M407.2 378.3h0M412.8 378.2h0M404.6 379.2h0M408.9 378.6h0M409.7 378.7h0M403.1 379.5h0M401.8 379.3h0M408.0 378.6h0M421.2 370.2h0M416.4 376.9h0M391.3 377.7h0M407.4 378.7h0M387.0 377.5h0M419.9 376.4h0M399.8 379.1h0M375.2 360.9h0M404.4 379.4h0M397.3 377.8h0M394.9 378.5h0M401.4 379.3h0M403.4 379.4h0M399.0 379.1h0M405.7 379.1h0M396.9 377.4h0M399.6 379.0h0M403.2 379.5h0M386.5 375.9h0M396.4 378.0h0M401.3 379.3h0M396.2 377.1h0M402.9 379.5h0M412.1 377.7h0M401.1 379.2h0M398.5 378.2h0M398.4 378.9h0M401.3 379.2h0M396.8 378.7h0M411.7 378.1h0M389.9 377.8h0M408.4 378.8h0M396.2 378.5h0M411.2 376.3h0M408.9 378.8h0M392.1 376.7h0M393.9 378.4h0M387.5 371.9h0M399.8 379.1h0M404.0 379.3h0M400.2 379.1h0M397.1 378.4h0M409.3 378.5h0M405.2 379.2h0M403.3 379.4h0M400.1 379.1h0M401.3 379.3h0M415.1 376.4h0M403.6 379.4h0M401.3 379.3h0M409.8 377.8h0M396.5 378.4h0M396.6 378.0h0M391.0 376.6h0M405.7 379.1h0M407.6 379.0h0M412.4 378.3h0M399.0 378.9h0M395.2 378.3h0M401.4 379.3h0M401.9 379.4h0M397.2 378.8h0M399.7 378.7h0M411.9 377.7h0M400.7 379.2h0M404.4 379.3h0M389.4 376.9h0M401.7 379.3h0M405.6 379.2h0M395.1 378.3h0M403.5 379.4h0M408.6 378.6h0M393.6 377.7h0M405.7 379.1h0M404.6 379.3h0M399.0 378.8h0M408.2 378.5h0M401.7 379.4h0M395.5 378.1h0M404.4 379.3h0M407.9 378.2h0M399.3 378.6h0M395.3 378.6h0M404.9 379.2h0M406.8 379.0h0M400.3 379.1h0M402.0 379.4h0M410.2 378.6h0M394.6 376.8h0M401.0 379.2h0M402.1 379.4h0M399.3 378.7h0M402.9 379.5h0M393.0 377.4h0M405.4 379.2h0M399.5 379.1h0M409.1 377.3h0M404.0 379.4h0M397.2 378.6h0M389.5 376.3h0M394.9 378.2h0M396.7 377.3h0M392.8 377.4h0M393.5 376.7h0M402.0 379.3h0M403.4 379.4h0M392.9 377.8h0M390.7 377.1h0M396.0 378.5h0M401.8 379.4h0M404.4 379.2h0M390.6 377.5h0M405.6 378.9h0M397.5 378.8h0M399.9 378.9h0M398.6 378.7h0M421.4 375.0h0M402.7 379.5h0M402.4 379.4h0M408.8 378.7h0M397.7 378.9h0M393.0 375.4h0M411.6 378.4h0M390.8 374.9h0M394.8 377.3h0M385.4 376.4h0M404.2 379.2h0M403.7 379.4h0M403.1 379.5h0M401.5 379.3h0M402.1 379.3h0M407.4 378.7h0M394.3 377.0h0M395.7 378.3h0M399.5 379.1h0M394.4 378.5h0M404.1 379.2h0M411.0 378.4h0M394.9 377.2h0M409.8 377.8h0M393.8 378.2h0M414.1 375.3h0M401.8 379.4h0M397.3 377.9h0M406.3 378.7h0M411.8 377.4h0M396.9 378.6h0M409.9 377.9h0M405.2 379.3h0M415.3 377.6h0M408.8 378.3h0M399.6 378.7h0M404.5 379.3h0M414.5 375.1h0M417.5 377.5h0M388.4 377.0h0M405.9 378.7h0M402.1 379.3h0M399.8 378.8h0M402.4 379.3h0M398.0 378.9h0M395.5 377.7h0M402.9 379.5h0M396.8 378.6h0M399.3 379.0h0M414.3 375.4h0M418.9 375.5h0M392.2 377.8h0M402.3 379.4h0M408.8 378.4h0M398.8 379.0h0M415.0 376.3h0M399.8 379.1h0M405.5 379.0h0M415.5 377.6h0M398.7 378.7h0M401.0 379.1h0M399.9 379.2h0M399.1 378.9h0M401.9 379.3h0M394.1 378.4h0M389.4 374.3h0M415.0 374.5h0M398.7 378.9h0M403.3 379.4h0M411.5 378.4h0M407.2 378.5h0M396.4 378.7h0M390.1 377.0h0M392.7 375.7h0M398.7 378.7h0M408.6 377.7h0M388.3 374.0h0M406.6 379.1h0M394.6 378.1h0M405.2 379.2h0M417.8 375.4h0M415.9 374.8h0M403.0 379.5h0M405.9 379.2h0M416.9 376.9h0M405.5 379.0h0M412.3 377.6h0M405.3 379.1h0M407.2 378.1h0M411.0 378.4h0M416.1 377.8h0M405.5 378.7h0M400.9 379.1h0M395.1 378.2h0M419.9 374.2h0M405.6 379.2h0M409.1 377.4h0M407.0 379.1h0M402.0 379.4h0M397.7 378.6h0M409.5 378.7h0M428.9 371.4h0M420.5 372.3h0M412.8 369.0h0M421.7 376.3h0M409.4 377.8h0M423.8 376.6h0M415.7 371.9h0M410.6 378.5h0M409.2 376.7h0M429.3 359.9h0M423.6 367.6h0M417.7 357.9h0M426.4 345.6h0M414.4 368.4h0M431.7 359.4h0M411.2 376.1h0M433.7 361.3h0M416.8 365.2h0M434.0 356.2h0M428.2 368.3h0M425.0 373.3h0M412.0 370.7h0M433.2 374.9h0M423.2 345.0h0M425.5 335.6h0M423.5 373.1h0M414.6 362.7h0M417.4 368.6h0M413.7 378.2h0M420.2 377.1h0M438.7 356.2h0M418.1 360.7h0M415.2 367.6h0M414.6 377.4h0M432.0 360.9h0M430.9 339.3h0M413.5 369.1h0M419.9 374.5h0M417.9 352.4h0M428.0 373.5h0M419.9 377.2h0M421.6 373.1h0M443.8 365.6h0M411.0 378.4h0M421.2 356.4h0M442.0 372.7h0M435.5 348.7h0M417.9 377.4h0M412.9 377.3h0M414.8 372.0h0M421.2 376.2h0M418.0 372.1h0M427.9 364.3h0M429.3 353.5h0M412.6 376.8h0M418.5 373.8h0M417.4 372.6h0M434.7 361.3h0M423.1 372.6h0M428.8 347.7h0M419.1 346.5h0M416.1 376.8h0M428.5 368.7h0M425.9 354.1h0M409.2 376.8h0M436.6 374.0h0M412.5 370.9h0M419.2 376.3h0M422.3 363.9h0M418.5 377.0h0M416.1 365.5h0M413.7 363.9h0M413.8 377.0h0M427.9 362.2h0M418.1 370.8h0M413.7 370.1h0M430.2 373.2h0M412.8 378.0h0M417.5 363.3h0M432.2 374.8h0M410.6 374.4h0M447.1 363.0h0M422.7 368.9h0M444.2 365.2h0M415.7 377.7h0M409.7 375.8h0M443.9 350.2h0M411.1 370.6h0M410.3 375.6h0M413.0 366.4h0M416.6 368.0h0M411.8 377.5h0M416.3 375.1h0M421.2 367.6h0M423.0 355.6h0M434.0 362.1h0M420.2 360.8h0M409.3 375.6h0M413.2 364.4h0M417.6 370.4h0M422.7 371.4h0M425.7 340.1h0M416.7 365.0h0M411.8 378.2h0M422.3 376.8h0M437.6 373.9h0M423.8 360.3h0M428.1 372.0h0M420.7 376.4h0M410.6 376.6h0M435.7 364.2h0M423.9 375.4h0M414.9 376.7h0M409.9 372.0h0M422.3 375.1h0M422.3 370.9h0M415.3 378.0h0M415.6 371.2h0M426.8 359.2h0M421.4 355.1h0M415.5 363.5h0M437.3 356.6h0M434.9 370.1h0M414.2 373.1h0M416.2 374.8h0M417.2 372.8h0M414.4 376.0h0M414.4 366.7h0M416.1 377.9h0M417.8 367.1h0M418.1 364.1h0M410.2 373.0h0M414.0 370.1h0M418.0 355.5h0M427.3 354.4h0M435.9 371.5h0M416.9 372.5h0M424.6 367.1h0M412.4 377.6h0M411.3 374.3h0M419.8 360.2h0M421.9 371.9h0M414.5 375.8h0M422.4 375.9h0M418.0 366.6h0M409.3 378.0h0M412.4 376.2h0M435.2 352.8h0M428.7 359.8h0M422.4 363.9h0M417.3 377.7h0M422.4 359.3h0M415.9 358.8h0M422.1 374.7h0M416.8 370.0h0M411.7 367.1h0M421.5 344.0h0M424.3 360.3h0M412.4 368.6h0M414.6 371.1h0M411.1 370.0h0M412.6 376.0h0M417.1 356.9h0M424.4 369.6h0M430.8 375.5h0M434.0 361.9h0M417.7 363.9h0M420.5 376.5h0M417.6 372.8h0M413.9 363.4h0M415.5 362.2h0M428.8 361.3h0M409.1 378.8h0M419.2 357.3h0M419.8 356.4h0M419.6 361.6h0M425.6 348.2h0M410.3 374.1h0M421.5 373.8h0M425.9 350.5h0M419.3 376.2h0M434.3 373.6h0M412.3 366.1h0M419.4 377.0h0M413.4 369.1h0M410.0 378.2h0M425.3 358.7h0M418.9 358.5h0M417.6 360.9h0M423.8 376.2h0M425.0 373.4h0M411.2 377.5h0M421.3 347.1h0M413.1 375.8h0M417.6 371.1h0M421.4 358.5h0M421.5 368.3h0M411.9 367.3h0M423.1 376.0h0M412.4 376.3h0M432.3 345.3h0M421.1 375.2h0M429.0 374.5h0M410.6 374.4h0M439.4 369.1h0M421.3 367.6h0M417.7 375.5h0M414.3 373.6h0M440.0 365.4h0M422.3 376.9h0M435.0 365.5h0M420.0 355.0h0M432.2 374.7h0M428.0 369.4h0M413.7 371.7h0M413.7 367.8h0M414.0 367.2h0M416.4 370.4h0M436.1 363.4h0M413.2 375.2h0M417.4 374.8h0M412.3 370.3h0M411.3 369.2h0M422.8 363.9h0M420.9 360.0h0M422.5 376.9h0M414.2 377.2h0M424.1 359.8h0M418.5 365.6h0M415.9 363.7h0M424.6 374.0h0M415.1 377.7h0M431.7 373.9h0M430.9 361.4h0M428.3 375.0h0M425.7 354.6h0M425.4 370.9h0M432.3 347.1h0M409.5 377.7h0M427.1 375.5h0M427.1 373.1h0M427.5 361.6h0M413.6 368.7h0M418.5 372.8h0M427.1 340.8h0M421.8 375.1h0M432.4 375.1h0M413.2 378.3h0M411.9 377.9h0M419.6 377.1h0M414.1 371.5h0M418.4 375.5h0M433.2 361.9h0M409.6 374.9h0M411.0 370.1h0M409.9 378.7h0M417.7 371.2h0M422.0 371.5h0M426.1 376.3h0M425.3 359.5h0M421.7 376.1h0M412.7 372.2h0M425.4 356.2h0M424.0 367.1h0M409.3 378.4h0M429.2 348.1h0M414.8 376.4h0M423.4 373.6h0M424.4 354.4h0M413.7 367.4h0M430.6 366.3h0M416.1 368.5h0M420.7 352.9h0M443.9 370.1h0M423.4 351.5h0M414.8 373.9h0M425.0 352.7h0M422.4 363.6h0M411.7 377.2h0M413.3 369.2h0M435.3 359.9h0M438.5 370.4h0M422.5 376.9h0M411.7 374.3h0M442.7 371.6h0M437.8 361.1h0M434.4 371.5h0M441.7 372.3h0M410.5 378.3h0M411.8 366.9h0M436.0 358.5h0M415.2 362.9h0M425.4 370.2h0M425.6 351.5h0M419.2 359.7h0M434.4 372.5h0M409.5 373.4h0M425.9 364.3h0M418.7 358.8h0M432.2 367.6h0M412.5 369.7h0M417.8 370.0h0M413.6 375.3h0M433.2 357.4h0M433.9 374.7h0M422.3 351.5h0M420.5 350.3h0M442.1 368.7h0M419.2 361.6h0M428.6 373.3h0M426.9 349.3h0M409.2 373.9h0M415.6 359.4h0M425.8 375.4h0M423.9 348.8h0M418.0 349.9h0M431.3 362.0h0M410.2 378.2h0M415.2 378.0h0M427.4 354.6h0M421.4 371.7h0M415.5 378.0h0M418.1 369.7h0M417.8 365.3h0M429.5 355.0h0M421.0 361.2h0M415.5 375.0h0M420.8 351.4h0M420.9 373.8h0M439.2 368.0h0M421.7 350.4h0M419.0 367.2h0M413.5 377.0h0M431.5 335.8h0M411.3 377.9h0M409.6 376.2h0M425.1 357.4h0M415.8 356.8h0M415.1 373.6h0M420.4 369.5h0M419.8 372.4h0M412.3 371.2h0M430.5 359.4h0M426.8 376.1h0M411.3 377.9h0M427.8 355.9h0M410.6 377.1h0M416.3 375.3h0M435.3 359.8h0M429.4 354.3h0M417.6 360.9h0M427.2 373.2h0M426.1 375.0h0M428.5 366.8h0M432.7 374.8h0M411.9 378.5h0M420.6 372.7h0M423.2 374.2h0M414.2 368.9h0M434.1 363.6h0M420.3 353.7h0M417.0 377.5h0M409.7 378.7h0M417.1 373.1h0M411.5 378.3h0M438.7 370.3h0M425.2 376.3h0M427.0 357.6h0M412.8 376.5h0M409.5 378.5h0M409.2 374.4h0M411.6 373.8h0M416.2 374.2h0M417.6 366.5h0M419.1 368.1h0M432.1 365.1h0M412.9 373.7h0M419.3 363.9h0M421.8 349.5h0M419.8 350.6h0M423.9 363.4h0M419.6 371.1h0M426.0 369.9h0M423.7 375.1h0M418.0 353.9h0M416.8 372.8h0M440.1 352.0h0M419.9 359.1h0M417.7 365.5h0M439.0 365.4h0M410.5 375.0h0M411.5 374.6h0M429.9 358.6h0M416.5 360.9h0M431.1 367.1h0M429.7 351.0h0M444.3 361.4h0M410.3 372.4h0M433.9 350.2h0M424.2 369.2h0M413.1 368.5h0M420.8 367.5h0M413.3 377.6h0M414.5 372.6h0M414.4 365.6h0M417.3 371.2h0M432.1 355.1h0M418.3 355.1h0M415.4 370.5h0M421.7 350.6h0M414.7 364.7h0M436.1 366.6h0M416.5 362.7h0M417.0 373.4h0M427.3 359.3h0M420.8 347.0h0M417.0 377.6h0M417.8 372.8h0M423.3 366.2h0M411.1 370.5h0M447.9 369.3h0M415.7 367.1h0M412.6 376.0h0M417.4 377.5h0M424.8 368.7h0M440.2 369.9h0M411.1 369.0h0M428.2 342.8h0M426.8 363.4h0M419.1 375.4h0M418.7 375.8h0M417.1 367.9h0M421.4 356.8h0M411.5 378.5h0M418.0 377.1h0M417.7 360.2h0M421.0 371.1h0M410.6 375.3h0M440.4 373.3h0M433.9 370.3h0M413.3 368.7h0M420.6 343.7h0M427.5 374.6h0M409.1 372.4h0M414.7 376.0h0M411.3 374.2h0M437.4 336.8h0M412.8 369.0h0M419.8 376.7h0M421.4 376.9h0M411.9 377.6h0M422.9 363.5h0M414.0 378.1h0M409.3 373.4h0M418.7 377.5h0M419.8 361.7h0M439.0 355.9h0M418.7 372.2h0M446.1 371.5h0M417.6 362.7h0M427.9 366.1h0M432.2 372.0h0M409.6 377.9h0M413.1 364.3h0M423.9 375.7h0M413.5 375.4h0M417.4 372.8h0M409.7 376.1h0M417.7 365.1h0M412.3 372.3h0M420.0 358.3h0M426.3 375.7h0M439.2 370.8h0M415.6 374.0h0M410.9 373.5h0M410.6 370.1h0M409.4 376.1h0M412.1 368.2h0M423.6 375.2h0M419.3 353.8h0M418.1 377.4h0M435.8 356.5h0M410.0 377.6h0M416.1 359.3h0M431.8 359.9h0M409.4 373.3h0M431.4 360.8h0M412.0 377.3h0M414.7 374.6h0M418.2 372.3h0M422.9 375.5h0M422.1 359.2h0M409.4 378.7h0M415.6 362.7h0M416.4 376.1h0M420.6 370.8h0M416.3 369.5h0M421.6 377.0h0M424.0 362.0h0M414.9 376.4h0M435.4 361.6h0M422.4 374.0h0M412.2 370.8h0M420.2 367.3h0M419.9 374.8h0M448.7 355.8h0M413.3 373.9h0M410.8 372.5h0M414.1 377.8h0M419.3 362.4h0M418.0 377.1h0M415.5 374.5h0M424.2 354.4h0M418.4 374.1h0M412.0 377.5h0M436.4 359.4h0M423.1 369.4h0M412.5 374.2h0M413.9 364.3h0M424.9 356.2h0M412.5 376.1h0M419.0 370.5h0M415.8 367.8h0M411.7 369.7h0M430.2 375.5h0M413.6 363.2h0M436.5 358.2h0M412.9 374.3h0M430.3 374.9h0M412.0 372.1h0M433.6 374.5h0M417.3 355.4h0M417.5 376.4h0M415.6 361.4h0M414.8 378.0h0M424.4 347.1h0M417.2 358.3h0M429.7 363.5h0M426.7 358.8h0M433.4 358.5h0M421.7 360.4h0M439.9 349.5h0M409.6 372.1h0M421.1 372.6h0M410.0 376.6h0M435.7 353.3h0M413.4 372.2h0M409.6 376.8h0M418.2 375.1h0M413.9 375.7h0M416.9 370.9h0M413.2 372.8h0M429.8 339.9h0M428.0 374.0h0M415.3 376.1h0M419.0 353.6h0M422.0 365.9h0M425.7 365.9h0M423.4 368.1h0M420.6 364.7h0M412.6 376.8h0M420.6 374.8h0M430.7 366.1h0M431.3 364.3h0M416.4 370.9h0M420.6 362.5h0M421.5 375.0h0M416.6 362.1h0M423.9 364.7h0M410.3 376.5h0M433.9 354.7h0M421.1 365.2h0M418.3 359.2h0M415.9 360.5h0M425.2 356.0h0M411.1 375.8h0M437.3 357.8h0M409.3 377.5h0M423.6 353.9h0M413.3 378.3h0M434.8 374.3h0M428.2 372.3h0M416.6 377.3h0M411.2 377.0h0M409.5 375.5h0M427.2 357.5h0M425.5 361.8h0M426.1 374.7h0M414.1 376.0h0M431.9 372.5h0M414.8 376.9h0M409.1 372.5h0M415.8 373.6h0M411.4 376.5h0M414.2 375.3h0M424.0 365.6h0M426.4 364.6h0M417.0 355.5h0M417.1 371.1h0M413.3 376.8h0M411.1 378.0h0M409.7 372.1h0M418.0 373.1h0M410.6 376.5h0M414.6 366.2h0M414.2 378.1h0M414.4 373.1h0M421.3 369.5h0M419.9 377.3h0M409.6 378.7h0M418.5 373.4h0M425.0 372.8h0M423.2 355.2h0M426.4 370.3h0M415.9 376.4h0M409.3 375.7h0M413.5 366.2h0M424.4 353.0h0M423.9 370.0h0M413.8 374.8h0M434.6 373.4h0M409.7 372.6h0M442.2 350.5h0M424.9 364.7h0M418.4 374.6h0M421.8 373.4h0M410.9 373.3h0M411.5 375.0h0M437.0 373.0h0M424.5 365.4h0M412.0 375.7h0M411.2 372.6h0M423.1 343.2h0M412.2 371.7h0M409.2 376.6h0M421.0 348.6h0M415.7 357.4h0M409.6 375.2h0M410.9 372.0h0M413.4 370.4h0M409.1 373.0h0M422.5 365.9h0M428.8 358.4h0M410.9 376.2h0M415.4 365.7h0M434.8 349.4h0M430.2 338.7h0M416.2 377.3h0M436.7 357.0h0M424.0 350.5h0M432.0 348.8h0M420.7 352.3h0M411.3 375.2h0M436.2 365.8h0M417.3 365.9h0M409.5 377.0h0M411.8 372.9h0M420.0 362.3h0M437.0 355.5h0M413.3 373.3h0M413.9 375.5h0M418.7 366.9h0M410.8 371.4h0M422.5 371.8h0M410.0 374.6h0M410.4 377.4h0M419.5 377.4h0M441.0 365.6h0M414.5 368.1h0M415.0 377.1h0M427.8 356.4h0M425.4 375.4h0M417.8 362.6h0M416.1 357.2h0M414.2 375.4h0M426.8 354.1h0M410.7 377.6h0M420.7 361.4h0M417.6 353.6h0M420.6 359.5h0M413.7 377.2h0M411.1 378.0h0M414.9 362.1h0M419.3 353.6h0M411.4 374.9h0M427.8 376.0h0M417.0 364.6h0M424.9 373.6h0M424.4 376.4h0M413.8 375.6h0M430.7 360.8h0M414.2 378.1h0M410.7 373.6h0M413.2 373.3h0M424.3 376.4h0M423.9 362.5h0M434.4 341.0h0M420.9 352.8h0M416.8 357.4h0M429.5 357.0h0M414.9 361.5h0M420.7 376.6h0M424.1 359.2h0M414.7 376.2h0M410.7 370.3h0M415.3 376.1h0M421.4 376.1h0M409.1 375.3h0M412.1 377.8h0M432.3 366.7h0M412.6 369.9h0M419.9 376.3h0M445.7 366.2h0M418.9 375.7h0M424.8 362.1h0M423.1 373.3h0M420.5 363.6h0M430.1 345.7h0M421.8 360.9h0M415.4 369.5h0M416.6 370.1h0M420.1 371.2h0M412.0 378.2h0M412.1 378.1h0M413.5 374.9h0M425.9 376.4h0M425.2 357.0h0M416.0 368.7h0M413.1 376.8h0M410.1 378.7h0M438.4 371.7h0M413.2 363.6h0M424.5 364.1h0M411.0 377.8h0M410.4 377.2h0M420.6 376.8h0M415.6 372.1h0M418.5 353.3h0M415.2 362.0h0M447.3 371.4h0M417.0 364.5h0M419.1 355.2h0M421.0 365.7h0M421.5 371.9h0M415.0 365.1h0M414.6 377.3h0M413.2 377.3h0M428.8 351.0h0M414.0 369.6h0M414.7 377.2h0M422.0 376.3h0M417.4 376.6h0M417.9 351.4h0M410.9 377.6h0M410.6 373.7h0M432.7 364.2h0M416.0 373.2h0M424.0 354.6h0M416.2 361.5h0M438.2 363.6h0M412.1 377.5h0M411.5 375.9h0M417.9 352.9h0M427.1 342.5h0M415.6 375.4h0M415.5 368.9h0M416.3 375.6h0M425.1 367.2h0M410.8 374.3h0M416.3 368.7h0M431.7 369.8h0M442.5 359.6h0M413.5 374.1h0M420.1 358.1h0M419.9 359.9h0M419.5 374.5h0M419.5 376.9h0M418.5 372.7h0M455.0 344.5h0M414.7 376.2h0M438.3 361.7h0M409.7 377.3h0M431.7 368.9h0M410.5 372.8h0M427.6 364.6h0M409.7 377.9h0M421.5 373.5h0M429.1 357.8h0M415.8 377.5h0M458.0 368.9h0M420.9 376.7h0M437.7 367.8h0M412.5 374.3h0M417.2 369.6h0M426.1 375.1h0M412.0 377.8h0M425.5 364.9h0M421.3 376.8h0M435.8 354.2h0M423.7 373.2h0M416.7 372.3h0M412.0 375.5h0M414.3 372.4h0M436.6 357.3h0M413.2 378.3h0M409.6 372.0h0M424.8 349.7h0M417.4 373.2h0M413.0 370.5h0M425.5 375.2h0M413.0 378.2h0M409.8 377.6h0M429.2 341.1h0M416.3 373.5h0M414.8 374.5h0M419.6 376.0h0M415.5 377.4h0M418.1 358.9h0M412.0 377.2h0M417.4 368.2h0M409.8 372.4h0M415.6 376.7h0M422.3 362.6h0M434.8 366.6h0M422.2 373.5h0M412.7 370.0h0M419.8 352.8h0M413.5 366.6h0M429.9 375.3h0M416.2 377.9h0M419.9 375.0h0M419.5 376.5h0M410.3 378.6h0M418.0 358.8h0M415.4 377.7h0M443.3 368.5h0M414.5 377.3h0M411.6 369.4h0M413.6 370.4h0M409.3 377.9h0M444.4 352.0h0M431.2 371.1h0M420.9 358.0h0M418.2 377.6h0M426.7 365.7h0M409.1 378.4h0M421.6 373.4h0M422.8 355.9h0M417.9 371.4h0M423.1 353.5h0M412.4 373.4h0M413.7 363.7h0M413.0 364.1h0M432.7 351.5h0M412.9 371.3h0M409.7 378.3h0M417.8 357.4h0M410.0 378.2h0M421.3 370.5h0M427.1 367.9h0M415.0 376.8h0M415.7 373.1h0M437.3 368.6h0M412.7 369.9h0M422.1 339.7h0M410.9 378.3h0M421.0 367.6h0M414.9 378.0h0M413.8 369.2h0M419.2 364.2h0M411.2 371.8h0M416.8 369.0h0M415.9 363.9h0M411.2 377.9h0M412.8 375.4h0M412.6 377.3h0M423.1 368.4h0M413.1 368.0h0M420.5 366.2h0M421.2 348.1h0M421.1 376.2h0M416.1 365.3h0M410.6 378.6h0M439.2 343.3h0M412.2 371.8h0M413.0 368.0h0M409.5 378.7h0M412.1 373.5h0M418.9 377.3h0M428.7 350.1h0M410.9 369.7h0M432.1 368.2h0M429.6 370.3h0M423.6 376.6h0M411.3 375.5h0M440.9 341.1h0M410.3 370.4h0M423.5 371.7h0M412.7 377.2h0M414.5 367.1h0M426.8 342.9h0M410.1 376.8h0M414.9 360.6h0M418.5 375.7h0M425.5 373.7h0M412.4 371.8h0M409.7 377.2h0M416.1 367.5h0M411.3 371.7h0M422.2 364.6h0M412.6 378.4h0M437.6 371.7h0M420.0 366.7h0M418.1 363.5h0M418.5 375.2h0M431.0 373.8h0M420.9 369.8h0M416.1 375.9h0M414.5 376.3h0M410.7 377.7h0M409.8 372.5h0M409.4 373.2h0M436.5 374.3h0M429.1 368.2h0M427.3 358.7h0M415.7 364.8h0M433.7 367.4h0M426.9 373.0h0M418.4 367.2h0M426.4 350.9h0M430.5 356.6h0M410.7 378.6h0M416.0 377.9h0M412.0 374.6h0M418.4 359.8h0M421.4 361.3h0M419.3 376.6h0M419.1 368.4h0M417.7 357.6h0M416.7 366.5h0M411.1 368.8h0M418.4 368.3h0M421.3 360.6h0M436.5 371.8h0M413.5 373.0h0M418.4 368.2h0M412.6 368.6h0M418.5 377.3h0M414.1 375.4h0M423.6 368.0h0M411.9 378.4h0M421.0 363.4h0M412.8 376.2h0M413.7 362.9h0M443.9 371.4h0M409.8 377.3h0M430.4 373.2h0M425.2 376.4h0M413.7 378.2h0M411.2 374.2h0M422.7 343.3h0M413.4 368.2h0M437.6 373.9h0M426.8 369.0h0M429.5 369.4h0M411.5 377.0h0M411.6 378.0h0M425.1 375.5h0M442.1 351.9h0M409.3 377.0h0M415.9 376.6h0M427.3 360.2h0M424.7 358.5h0M418.0 374.2h0M414.8 365.7h0M414.1 365.2h0M428.2 369.2h0M420.9 368.2h0M413.6 364.6h0M415.4 377.8h0M409.6 377.7h0M421.8 376.8h0M416.6 354.5h0M420.5 372.5h0M419.4 354.9h0M422.3 377.0h0M412.3 374.4h0M415.6 374.1h0M412.6 377.5h0M419.8 360.6h0M419.5 375.1h0M433.0 363.3h0M415.4 375.0h0M409.8 377.7h0M411.7 369.0h0M427.5 368.7h0M415.7 364.9h0M418.4 368.8h0M416.3 365.9h0M416.5 356.8h0M442.2 318.3h0M458.5 329.1h0M434.8 349.4h0M421.1 339.3h0M449.3 342.6h0M435.5 358.1h0M437.3 362.3h0M445.8 324.2h0M455.9 334.7h0M445.9 366.0h0M444.2 322.8h0M431.5 346.2h0M452.9 351.4h0M437.8 359.9h0M441.6 365.6h0M438.7 354.2h0M460.2 326.1h0M430.8 363.8h0M448.0 356.6h0M462.9 303.3h0M463.6 301.1h0M435.8 331.1h0M448.5 337.7h0M461.0 344.8h0M435.2 353.7h0M462.2 329.1h0M449.6 350.9h0M433.0 358.3h0M448.2 350.2h0M434.2 343.3h0M472.6 327.5h0M425.7 343.5h0M452.2 340.9h0M443.3 356.8h0M429.3 311.8h0M457.0 351.4h0M445.4 365.7h0M450.2 361.8h0M452.5 363.1h0M431.1 366.0h0M458.8 350.0h0M448.6 337.6h0M430.7 358.2h0M443.5 362.6h0M431.8 357.7h0M445.2 341.5h0M444.1 343.6h0M434.5 347.2h0M452.2 335.8h0M434.9 361.6h0M443.4 311.7h0M469.1 318.5h0M487.9 334.2h0M436.6 364.0h0M444.7 312.5h0M441.2 350.9h0M457.3 351.0h0M456.6 358.1h0M472.5 322.8h0M450.6 359.7h0M484.8 335.9h0M439.1 352.4h0M435.2 355.8h0M457.4 332.2h0M482.9 340.3h0M451.9 346.7h0M439.2 340.0h0M441.1 336.5h0M460.1 329.5h0M476.6 328.3h0M485.8 317.0h0M444.4 361.0h0M445.6 357.1h0M472.4 349.1h0M443.5 340.3h0M441.6 364.3h0M464.2 323.0h0M447.8 349.7h0M464.3 345.4h0M475.8 322.5h0M445.8 358.5h0M441.1 355.5h0M441.8 365.0h0M466.2 336.1h0M465.0 316.0h0M447.0 351.1h0M431.1 355.7h0M434.2 361.8h0M441.5 366.2h0M414.8 361.3h0M462.3 328.1h0M427.6 365.9h0M441.3 353.3h0M435.9 321.2h0M430.9 355.6h0M447.0 359.6h0M415.5 362.1h0M436.4 360.1h0M443.2 352.7h0M438.8 355.3h0M447.5 315.4h0M457.9 340.6h0M424.6 353.2h0M455.8 355.0h0M443.2 349.7h0M470.1 337.2h0M436.1 366.4h0M450.1 349.3h0M424.1 340.6h0M456.7 358.5h0M427.4 359.7h0M435.1 363.1h0M460.9 319.1h0M437.8 352.7h0M449.3 351.9h0M469.2 325.7h0M466.6 322.5h0M438.1 351.6h0M474.9 330.5h0M436.8 346.6h0M445.1 355.3h0M455.6 365.9h0M453.0 326.3h0M454.7 345.0h0M438.8 354.4h0M443.8 354.3h0M467.4 324.2h0M433.1 363.3h0M457.4 338.2h0M464.2 344.0h0M443.7 341.9h0M480.5 363.4h0M488.8 328.2h0M448.2 336.0h0M464.7 349.5h0M434.5 348.6h0M442.7 360.3h0M426.8 323.4h0M454.3 317.4h0M430.4 333.3h0M441.5 349.7h0M481.3 315.2h0M457.6 343.6h0M442.2 357.7h0M450.4 362.0h0M448.6 348.8h0M438.3 363.5h0M440.1 346.8h0M453.4 316.5h0M429.9 364.0h0M437.8 365.2h0M441.7 341.7h0M463.3 299.7h0M437.9 326.3h0M443.1 333.6h0M464.6 337.5h0M439.2 334.2h0M448.8 328.4h0M457.3 309.1h0M460.2 338.2h0M450.8 328.4h0M468.8 352.0h0M451.8 340.3h0M452.0 337.7h0M449.3 362.8h0M478.8 330.7h0M449.8 307.9h0M443.0 352.6h0M474.4 321.9h0M464.3 340.9h0M433.8 365.5h0M454.1 349.0h0M430.6 363.2h0M465.1 346.9h0M441.0 325.5h0M452.6 302.4h0M461.5 336.9h0M444.9 335.3h0M429.8 361.4h0M472.1 340.6h0M477.3 318.8h0M456.0 333.3h0M440.4 353.6h0M438.2 316.8h0M442.6 348.7h0M445.4 341.1h0M472.0 340.6h0M441.4 343.8h0M456.4 303.1h0M451.9 335.2h0M468.6 345.2h0M451.3 336.4h0M442.2 362.4h0M468.2 309.4h0M458.3 339.6h0M427.7 362.2h0M442.2 342.8h0M417.5 352.8h0M467.6 315.2h0M458.5 358.7h0M453.8 334.5h0M438.5 345.1h0M458.2 307.0h0M464.6 339.2h0M417.6 357.9h0M461.4 318.1h0M427.5 315.8h0M434.0 364.6h0M446.8 327.6h0M451.8 323.3h0M432.9 358.3h0M450.8 348.0h0M450.5 350.1h0M438.4 322.9h0M443.1 352.7h0M423.5 366.8h0M445.8 352.7h0M463.3 315.8h0M439.5 360.9h0M427.4 360.6h0M439.3 320.3h0M455.3 317.2h0M449.6 331.9h0M475.5 308.2h0M421.4 356.3h0M441.0 353.5h0M448.8 330.4h0M449.7 350.0h0M449.6 325.8h0M435.0 354.0h0M450.7 335.8h0M462.9 350.1h0M432.6 355.2h0M449.4 363.6h0M457.0 296.5h0M452.5 308.8h0M455.6 362.3h0M438.6 343.9h0M444.0 349.1h0M423.9 365.2h0M457.8 343.1h0M461.3 358.9h0M448.2 366.2h0M460.3 331.7h0M451.5 318.0h0M439.5 336.5h0M438.9 362.6h0M465.6 350.2h0M445.7 323.1h0M440.3 340.1h0M462.9 346.0h0M303.4 302.9h0M298.8 284.6h0M334.5 289.3h0M330.7 327.2h0M317.0 346.6h0M344.0 354.2h0M308.9 338.1h0M328.9 334.5h0M301.7 355.3h0M302.5 268.7h0M295.9 274.6h0M337.2 323.6h0M343.4 284.1h0M301.4 270.2h0M307.5 301.9h0M301.5 295.1h0M307.0 289.5h0M345.0 347.8h0M338.5 313.2h0M292.0 285.2h0M306.0 266.9h0M316.0 266.9h0M318.2 266.9h0M320.4 266.9h0M329.0 266.9h0M331.2 266.9h0M341.5 266.9h0M344.0 266.9h0M346.5 266.9h0M349.5 266.9h0M352.0 266.9h0M354.5 266.9h0M357.0 266.9h0M295.0 246.1h0M296.6 246.1h0M298.2 246.1h0M299.8 246.1h0M312.0 246.1h0M313.6 246.1h0M315.2 246.1h0M316.8 246.1h0M318.4 246.1h0M320.0 246.1h0M321.6 246.1h0M326.0 246.1h0M327.6 246.1h0M334.0 246.1h0M335.6 246.1h0M337.2 246.1h0M338.8 246.1h0M340.4 246.1h0M342.0 246.1h0M343.6 246.1h0M345.2 246.1h0M346.8 246.1h0M348.4 246.1h0M350.0 246.1h0M351.6 246.1h0M353.2 246.1h0M354.8 246.1h0" stroke="#3a2a88" stroke-width="1.4" stroke-linecap="square"/><g stroke="#222" stroke-width="1" stroke-dasharray="4 2.5" fill="none"><line x1="281.5" y1="362.82" x2="512.7" y2="362.82"/><line x1="392" y1="244.5" x2="392" y2="381.3"/><line x1="414" y1="244.5" x2="414" y2="381.3"/></g><rect x="281.5" y="244.5" width="231.20000000000005" height="136.8" fill="none" stroke="#222" stroke-width="1"/><g font-size="6.4" fill="#222" stroke="#222" stroke-width="0.1" text-anchor="end"><text x="277.2" y="381.8">0</text><text x="277.2" y="373.5">1</text><text x="277.2" y="365.1">2</text><text x="277.2" y="356.8">3</text><text x="277.2" y="348.4">4</text><text x="277.2" y="340.1">5</text><text x="277.2" y="331.8">6</text><text x="277.2" y="323.4">7</text><text x="277.2" y="315.1">8</text><text x="277.2" y="306.7">9</text><text x="277.2" y="298.4">10</text><text x="277.2" y="290.1">11</text><text x="277.2" y="281.7">12</text><text x="277.2" y="273.4">13</text><text x="277.2" y="265.0">14</text><text x="277.2" y="256.7">15</text><text x="277.2" y="248.4">16</text></g><path d="M281.5 379.5h-2.5M281.5 371.2h-2.5M281.5 362.8h-2.5M281.5 354.5h-2.5M281.5 346.1h-2.5M281.5 337.8h-2.5M281.5 329.5h-2.5M281.5 321.1h-2.5M281.5 312.8h-2.5M281.5 304.4h-2.5M281.5 296.1h-2.5M281.5 287.8h-2.5M281.5 279.4h-2.5M281.5 271.1h-2.5M281.5 262.7h-2.5M281.5 254.4h-2.5M281.5 246.1h-2.5M282.0 381.3v1.8M287.5 381.3v1.8M293.0 381.3v2.6M298.5 381.3v1.8M304.0 381.3v1.8M309.5 381.3v1.8M315.0 381.3v2.6M320.5 381.3v1.8M326.0 381.3v1.8M331.5 381.3v1.8M337.0 381.3v2.6M342.5 381.3v1.8M348.0 381.3v1.8M353.5 381.3v1.8M359.0 381.3v2.6M364.5 381.3v1.8M370.0 381.3v1.8M375.5 381.3v1.8M381.0 381.3v2.6M386.5 381.3v1.8M392.0 381.3v1.8M397.5 381.3v1.8M403.0 381.3v2.6M408.5 381.3v1.8M414.0 381.3v1.8M419.5 381.3v1.8M425.0 381.3v2.6M430.5 381.3v1.8M436.0 381.3v1.8M441.5 381.3v1.8M447.0 381.3v2.6M452.5 381.3v1.8M458.0 381.3v1.8M463.5 381.3v1.8M469.0 381.3v2.6M474.5 381.3v1.8M480.0 381.3v1.8M485.5 381.3v1.8M491.0 381.3v2.6M496.5 381.3v1.8M502.0 381.3v1.8M507.5 381.3v1.8" stroke="#222" stroke-width="0.7"/><g font-size="6.6" fill="#222" stroke="#222" stroke-width="0.1" text-anchor="middle"><text x="291.7" y="392.8">-10</text><text x="313.7" y="392.8">-8</text><text x="335.7" y="392.8">-6</text><text x="357.7" y="392.8">-4</text><text x="379.7" y="392.8">-2</text><text x="403.0" y="392.8">0</text><text x="425.0" y="392.8">2</text><text x="447.0" y="392.8">4</text><text x="469.0" y="392.8">6</text><text x="491.0" y="392.8">8</text></g><text x="397.2" y="404.2" font-size="6.8" fill="#222" text-anchor="middle">log2 fold change</text><text transform="translate(263.6 312.8) rotate(-90)" font-size="6.5" fill="#222" text-anchor="middle">-log10 FDR <tspan font-style="italic">P</tspan>-value</text><circle cx="468.3" cy="267.5" r="0.95" fill="#7a2418"/><text x="470.6" y="269.7" font-size="6" fill="#333" font-style="italic">PPBP</text><circle cx="474.6" cy="295.8" r="0.95" fill="#7a2418"/><text x="476.90000000000003" y="298.0" font-size="6" fill="#333" font-style="italic">PF4</text><circle cx="470" cy="304.5" r="0.95" fill="#7a2418"/><text x="472.3" y="306.7" font-size="6" fill="#333">GP9</text><circle cx="481.8" cy="322.9" r="0.95" fill="#7a2418"/><text x="484.1" y="325.09999999999997" font-size="6" fill="#333">GP6</text></g><g id="E"><text x="109.8" y="436.8" font-size="10.2" font-weight="bold" fill="#111" stroke="#111" stroke-width="0.4">E</text><text x="265" y="438" font-size="9.6" fill="#222" text-anchor="middle">Top 30 Upregulated Genes</text><g font-size="6.3" fill="#333" stroke="#333" stroke-width="0.1"><text x="139.5" y="451.5" text-anchor="middle">Gene symbol</text><text x="234.6" y="451.5" text-anchor="middle">Gene name</text><text x="310.4" y="451.5">Log<tspan font-size="4.2" dy="1.2">2</tspan><tspan dy="-1.2"> fold change</tspan></text><text x="392" y="451.5" text-anchor="middle">FDR <tspan font-style="italic">P</tspan>-value</text></g><line x1="120.4" y1="455.2" x2="410.3" y2="455.2" stroke="#222" stroke-width="0.9"/><g font-size="6.45"><g font-weight="bold" fill="#000" stroke="#000" stroke-width="0.08"><text x="140.5" y="463.85" text-anchor="middle">LY6G6F</text><text x="174" y="463.85">Lymphocyte antigen 6 family member G6F</text><text x="334.6" y="463.85" text-anchor="middle">10.72</text><text x="392" y="463.85" text-anchor="middle">7.55E-06</text></g><g font-weight="bold" fill="#000" stroke="#000" stroke-width="0.08"><text x="140.5" y="471.31" text-anchor="middle">PPBP</text><text x="174" y="471.31">Pro-platelet basic protein</text><text x="334.6" y="471.31" text-anchor="middle">10.54</text><text x="392" y="471.31" text-anchor="middle">8.53E-15</text></g><g fill="#222" stroke="#222" stroke-width="0.12"><text x="140.5" y="478.76" text-anchor="middle">ADGRE3</text><text x="174" y="478.76">Adhesion G protein-coupled receptor E3</text><text x="334.6" y="478.76" text-anchor="middle">10.3</text><text x="392" y="478.76" text-anchor="middle">8.53E-15</text></g><g fill="#222" stroke="#222" stroke-width="0.12"><text x="140.5" y="486.22" text-anchor="middle">HBM</text><text x="174" y="486.22">Hemoglobin subunit Mu</text><text x="334.6" y="486.22" text-anchor="middle">10.28</text><text x="392" y="486.22" text-anchor="middle">3.67E-12</text></g><g fill="#222" stroke="#222" stroke-width="0.12"><text x="140.5" y="493.67" text-anchor="middle">MMP12</text><text x="174" y="493.67">Matrix metalloproteinase 12</text><text x="334.6" y="493.67" text-anchor="middle">10.26</text><text x="392" y="493.67" text-anchor="middle">8.53E-15</text></g><g fill="#222" stroke="#222" stroke-width="0.12"><text x="140.5" y="501.12" text-anchor="middle">HBB</text><text x="174" y="501.12">Hemoglobin subunit beta</text><text x="334.6" y="501.12" text-anchor="middle">10.03</text><text x="392" y="501.12" text-anchor="middle">4.78E-13</text></g><g fill="#222" stroke="#222" stroke-width="0.12"><text x="140.5" y="508.58" text-anchor="middle">CLC</text><text x="174" y="508.58">Charcot-Leyden crystal galectin</text><text x="334.6" y="508.58" text-anchor="middle">9.99</text><text x="392" y="508.58" text-anchor="middle">6.45E-06</text></g><g fill="#222" stroke="#222" stroke-width="0.12"><text x="140.5" y="516.03" text-anchor="middle">HBA1</text><text x="174" y="516.03">Hemoglobin subunit alpha 1</text><text x="334.6" y="516.03" text-anchor="middle">9.93</text><text x="392" y="516.03" text-anchor="middle">1.53E-13</text></g><g fill="#222" stroke="#222" stroke-width="0.12"><text x="140.5" y="523.49" text-anchor="middle">TMEM40</text><text x="174" y="523.49">Transmembrane protein 40</text><text x="334.6" y="523.49" text-anchor="middle">9.91</text><text x="392" y="523.49" text-anchor="middle">2.28E-11</text></g><g fill="#222" stroke="#222" stroke-width="0.12"><text x="140.5" y="530.95" text-anchor="middle">HBA2</text><text x="174" y="530.95">Hemoglobin subunit alpha 2</text><text x="334.6" y="530.95" text-anchor="middle">9.89</text><text x="392" y="530.95" text-anchor="middle">1.18E-13</text></g><g fill="#222" stroke="#222" stroke-width="0.12"><text x="140.5" y="538.40" text-anchor="middle">CXCL5</text><text x="174" y="538.40">CXC chemokine ligand 5</text><text x="334.6" y="538.40" text-anchor="middle">9.79</text><text x="392" y="538.40" text-anchor="middle">8.53E-15</text></g><g font-weight="bold" fill="#000" stroke="#000" stroke-width="0.08"><text x="140.5" y="545.86" text-anchor="middle">PF4</text><text x="174" y="545.86">Platelet factor 4</text><text x="334.6" y="545.86" text-anchor="middle">9.76</text><text x="392" y="545.86" text-anchor="middle">8.53E-15</text></g><g fill="#222" stroke="#222" stroke-width="0.12"><text x="140.5" y="553.31" text-anchor="middle">CXCR1</text><text x="174" y="553.31">C-X-C motif chemokine receptor 1</text><text x="334.6" y="553.31" text-anchor="middle">9.55</text><text x="392" y="553.31" text-anchor="middle">8.53E-15</text></g><g font-weight="bold" fill="#000" stroke="#000" stroke-width="0.08"><text x="140.5" y="560.76" text-anchor="middle">GP9</text><text x="174" y="560.76">Platelet glycoprotein IX</text><text x="334.6" y="560.76" text-anchor="middle">9.3</text><text x="392" y="560.76" text-anchor="middle">1.36E-11</text></g><g fill="#222" stroke="#222" stroke-width="0.12"><text x="140.5" y="568.22" text-anchor="middle">SLAMF9</text><text x="174" y="568.22">SLAM family member 9</text><text x="334.6" y="568.22" text-anchor="middle">9.22</text><text x="392" y="568.22" text-anchor="middle">8.53E-15</text></g><g fill="#222" stroke="#222" stroke-width="0.12"><text x="140.5" y="575.68" text-anchor="middle">CXCR2</text><text x="174" y="575.68">C-X-C motif chemokine receptor 2</text><text x="334.6" y="575.68" text-anchor="middle">9.15</text><text x="392" y="575.68" text-anchor="middle">8.53E-15</text></g><g font-weight="bold" fill="#000" stroke="#000" stroke-width="0.08"><text x="140.5" y="583.13" text-anchor="middle">CLEC1B</text><text x="174" y="583.13">C-Type lectin domain family 1 member B</text><text x="334.6" y="583.13" text-anchor="middle">9.15</text><text x="392" y="583.13" text-anchor="middle">8.49E-10</text></g><g fill="#222" stroke="#222" stroke-width="0.12"><text x="140.5" y="590.59" text-anchor="middle">DEFA1</text><text x="174" y="590.59">Defensin alpha 1</text><text x="334.6" y="590.59" text-anchor="middle">9.13</text><text x="392" y="590.59" text-anchor="middle">1.35E-13</text></g><g font-weight="bold" fill="#000" stroke="#000" stroke-width="0.08"><text x="140.5" y="598.04" text-anchor="middle">GP6</text><text x="174" y="598.04">Platelet glycoprotein VI</text><text x="334.6" y="598.04" text-anchor="middle">9.09</text><text x="392" y="598.04" text-anchor="middle">3.21E-08</text></g><g fill="#222" stroke="#222" stroke-width="0.12"><text x="140.5" y="605.50" text-anchor="middle">CABP5</text><text x="174" y="605.50">Calcium binding protein 5</text><text x="334.6" y="605.50" text-anchor="middle">8.92</text><text x="392" y="605.50" text-anchor="middle">2.20E-06</text></g><g fill="#222" stroke="#222" stroke-width="0.12"><text x="140.5" y="612.95" text-anchor="middle">FCGR3B</text><text x="174" y="612.95">Fc fragment Of IgG receptor IIIb</text><text x="334.6" y="612.95" text-anchor="middle">8.82</text><text x="392" y="612.95" text-anchor="middle">8.53E-15</text></g><g fill="#222" stroke="#222" stroke-width="0.12"><text x="140.5" y="620.41" text-anchor="middle">HBD</text><text x="174" y="620.41">Hemoglobin subunit delta</text><text x="334.6" y="620.41" text-anchor="middle">8.77</text><text x="392" y="620.41" text-anchor="middle">6.26E-13</text></g><g fill="#222" stroke="#222" stroke-width="0.12"><text x="140.5" y="627.86" text-anchor="middle">MMP9</text><text x="174" y="627.86">Matrix metalloproteinase 9</text><text x="334.6" y="627.86" text-anchor="middle">8.75</text><text x="392" y="627.86" text-anchor="middle">8.53E-15</text></g><g fill="#222" stroke="#222" stroke-width="0.12"><text x="140.5" y="635.32" text-anchor="middle">HEMGN</text><text x="174" y="635.32">Hemogen</text><text x="334.6" y="635.32" text-anchor="middle">8.69</text><text x="392" y="635.32" text-anchor="middle">1.16E-06</text></g><g fill="#222" stroke="#222" stroke-width="0.12"><text x="140.5" y="642.77" text-anchor="middle">TCL1A</text><text x="174" y="642.77">T Cell leukemia/lymphoma 1A</text><text x="334.6" y="642.77" text-anchor="middle">8.65</text><text x="392" y="642.77" text-anchor="middle">1.56E-10</text></g><g fill="#222" stroke="#222" stroke-width="0.12"><text x="140.5" y="650.23" text-anchor="middle">HCAR3</text><text x="174" y="650.23">Hydroxycarboxylic acid receptor 3</text><text x="334.6" y="650.23" text-anchor="middle">8.31</text><text x="392" y="650.23" text-anchor="middle">8.53E-15</text></g><g fill="#222" stroke="#222" stroke-width="0.12"><text x="140.5" y="657.68" text-anchor="middle">CCR3</text><text x="174" y="657.68">C-C chemokine receptor type 3</text><text x="334.6" y="657.68" text-anchor="middle">8.31</text><text x="392" y="657.68" text-anchor="middle">1.71E-12</text></g><g fill="#222" stroke="#222" stroke-width="0.12"><text x="140.5" y="665.13" text-anchor="middle">SPP1</text><text x="174" y="665.13">Secreted phosphoprotein 1</text><text x="334.6" y="665.13" text-anchor="middle">8.1</text><text x="392" y="665.13" text-anchor="middle">8.53E-15</text></g><g font-weight="bold" fill="#000" stroke="#000" stroke-width="0.08"><text x="140.5" y="672.59" text-anchor="middle">PF4V1</text><text x="174" y="672.59">Platelet factor 4 variant 1</text><text x="334.6" y="672.59" text-anchor="middle">7.57</text><text x="392" y="672.59" text-anchor="middle">1.90E-09</text></g><g font-weight="bold" fill="#000" stroke="#000" stroke-width="0.08"><text x="140.5" y="680.04" text-anchor="middle">ITGA2B</text><text x="174" y="680.04">Integrin subunit alpha 2b</text><text x="334.6" y="680.04" text-anchor="middle">7.54</text><text x="392" y="680.04" text-anchor="middle">7.92E-13</text></g></g></g>
<rect x="0.5" y="0.5" width="519" height="687" fill="none" stroke="#5a5a5a" stroke-width="1"/>
</svg>
</body></html>
